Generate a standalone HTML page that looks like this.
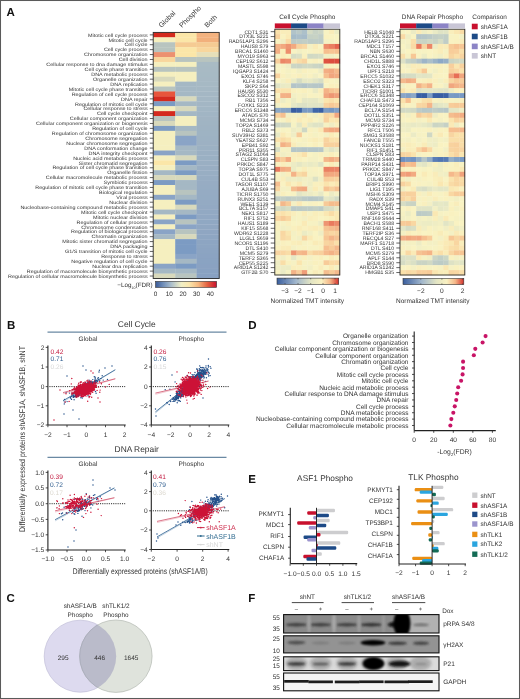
<!DOCTYPE html><html><head><meta charset="utf-8"><style>html,body{margin:0;padding:0;background:#fff;}svg{display:block;font-family:"Liberation Sans", sans-serif;text-rendering:geometricPrecision;will-change:transform;}</style></head><body><svg width="520" height="699" viewBox="0 0 520 699"><rect x="0" y="0" width="520" height="699" fill="#fff"/><text x="6.5" y="16.2" font-size="11.5" font-weight="bold" fill="#111">A</text>
<rect x="153.2" y="32.4" width="22.3" height="5.22" fill="#d42a1e"/>
<rect x="175.2" y="32.4" width="21.7" height="5.22" fill="#fbe6a8"/>
<rect x="196.6" y="32.4" width="22.9" height="5.22" fill="#f3b27f"/>
<text transform="translate(147.6,36.59) scale(1.13,1)" font-size="4.8" text-anchor="end" fill="#333">Mitotic cell cycle process</text>
<line x1="149.8" y1="34.86" x2="153.2" y2="34.86" stroke="#222" stroke-width="0.7"/>
<rect x="153.2" y="37.32" width="22.3" height="5.22" fill="#f5efbf"/>
<rect x="175.2" y="37.32" width="21.7" height="5.22" fill="#fbe6a8"/>
<rect x="196.6" y="37.32" width="22.9" height="5.22" fill="#f2b07c"/>
<text transform="translate(147.6,41.51) scale(1.13,1)" font-size="4.8" text-anchor="end" fill="#333">Mitotic cell cycle</text>
<line x1="149.8" y1="39.78" x2="153.2" y2="39.78" stroke="#222" stroke-width="0.7"/>
<rect x="153.2" y="42.24" width="22.3" height="5.22" fill="#b8c4bf"/>
<rect x="175.2" y="42.24" width="21.7" height="5.22" fill="#f5cb93"/>
<rect x="196.6" y="42.24" width="22.9" height="5.22" fill="#f5cb93"/>
<text transform="translate(147.6,46.43) scale(1.13,1)" font-size="4.8" text-anchor="end" fill="#333">Cell cycle</text>
<line x1="149.8" y1="44.7" x2="153.2" y2="44.7" stroke="#222" stroke-width="0.7"/>
<rect x="153.2" y="47.17" width="22.3" height="5.22" fill="#b8c4bf"/>
<rect x="175.2" y="47.17" width="21.7" height="5.22" fill="#fbe6a8"/>
<rect x="196.6" y="47.17" width="22.9" height="5.22" fill="#f8d69d"/>
<text transform="translate(147.6,51.35) scale(1.13,1)" font-size="4.8" text-anchor="end" fill="#333">Cell cycle process</text>
<line x1="149.8" y1="49.63" x2="153.2" y2="49.63" stroke="#222" stroke-width="0.7"/>
<rect x="153.2" y="52.09" width="22.3" height="5.22" fill="#ec9170"/>
<rect x="175.2" y="52.09" width="21.7" height="5.22" fill="#fbe6a8"/>
<rect x="196.6" y="52.09" width="22.9" height="5.22" fill="#e6dfb9"/>
<text transform="translate(147.6,56.28) scale(1.13,1)" font-size="4.8" text-anchor="end" fill="#333">Chromosome organization</text>
<line x1="149.8" y1="54.55" x2="153.2" y2="54.55" stroke="#222" stroke-width="0.7"/>
<rect x="153.2" y="57.01" width="22.3" height="5.22" fill="#f8d69d"/>
<rect x="175.2" y="57.01" width="21.7" height="5.22" fill="#b8c4bf"/>
<rect x="196.6" y="57.01" width="22.9" height="5.22" fill="#b8c4bf"/>
<text transform="translate(147.6,61.2) scale(1.13,1)" font-size="4.8" text-anchor="end" fill="#333">Cell division</text>
<line x1="149.8" y1="59.47" x2="153.2" y2="59.47" stroke="#222" stroke-width="0.7"/>
<rect x="153.2" y="61.93" width="22.3" height="5.22" fill="#f5efbf"/>
<rect x="175.2" y="61.93" width="21.7" height="5.22" fill="#f5efbf"/>
<rect x="196.6" y="61.93" width="22.9" height="5.22" fill="#a9bbc4"/>
<text transform="translate(147.6,66.12) scale(1.13,1)" font-size="4.8" text-anchor="end" fill="#333">Cellular response to dna damage stimulus</text>
<line x1="149.8" y1="64.39" x2="153.2" y2="64.39" stroke="#222" stroke-width="0.7"/>
<rect x="153.2" y="66.85" width="22.3" height="5.22" fill="#b8c4bf"/>
<rect x="175.2" y="66.85" width="21.7" height="5.22" fill="#b8c4bf"/>
<rect x="196.6" y="66.85" width="22.9" height="5.22" fill="#a8bac4"/>
<text transform="translate(147.6,71.04) scale(1.13,1)" font-size="4.8" text-anchor="end" fill="#333">Cell cycle phase transition</text>
<line x1="149.8" y1="69.31" x2="153.2" y2="69.31" stroke="#222" stroke-width="0.7"/>
<rect x="153.2" y="71.78" width="22.3" height="5.22" fill="#f5efbf"/>
<rect x="175.2" y="71.78" width="21.7" height="5.22" fill="#f5efbf"/>
<rect x="196.6" y="71.78" width="22.9" height="5.22" fill="#a7bac4"/>
<text transform="translate(147.6,75.96) scale(1.13,1)" font-size="4.8" text-anchor="end" fill="#333">DNA metabolic process</text>
<line x1="149.8" y1="74.24" x2="153.2" y2="74.24" stroke="#222" stroke-width="0.7"/>
<rect x="153.2" y="76.7" width="22.3" height="5.22" fill="#d8d9bc"/>
<rect x="175.2" y="76.7" width="21.7" height="5.22" fill="#f5efbf"/>
<rect x="196.6" y="76.7" width="22.9" height="5.22" fill="#a7b9c4"/>
<text transform="translate(147.6,80.89) scale(1.13,1)" font-size="4.8" text-anchor="end" fill="#333">Organelle organization</text>
<line x1="149.8" y1="79.16" x2="153.2" y2="79.16" stroke="#222" stroke-width="0.7"/>
<rect x="153.2" y="81.62" width="22.3" height="5.22" fill="#f5efbf"/>
<rect x="175.2" y="81.62" width="21.7" height="5.22" fill="#a5b8c4"/>
<rect x="196.6" y="81.62" width="22.9" height="5.22" fill="#a6b9c4"/>
<text transform="translate(147.6,85.81) scale(1.13,1)" font-size="4.8" text-anchor="end" fill="#333">DNA replication</text>
<line x1="149.8" y1="84.08" x2="153.2" y2="84.08" stroke="#222" stroke-width="0.7"/>
<rect x="153.2" y="86.54" width="22.3" height="5.22" fill="#b8c4bf"/>
<rect x="175.2" y="86.54" width="21.7" height="5.22" fill="#a5b8c4"/>
<rect x="196.6" y="86.54" width="22.9" height="5.22" fill="#a5b8c4"/>
<text transform="translate(147.6,90.73) scale(1.13,1)" font-size="4.8" text-anchor="end" fill="#333">Mitotic cell cycle phase transition</text>
<line x1="149.8" y1="89" x2="153.2" y2="89" stroke="#222" stroke-width="0.7"/>
<rect x="153.2" y="91.46" width="22.3" height="5.22" fill="#e8553c"/>
<rect x="175.2" y="91.46" width="21.7" height="5.22" fill="#a5b8c4"/>
<rect x="196.6" y="91.46" width="22.9" height="5.22" fill="#a4b7c4"/>
<text transform="translate(147.6,95.65) scale(1.13,1)" font-size="4.8" text-anchor="end" fill="#333">Regulation of cell cycle process</text>
<line x1="149.8" y1="93.92" x2="153.2" y2="93.92" stroke="#222" stroke-width="0.7"/>
<rect x="153.2" y="96.39" width="22.3" height="5.22" fill="#d42a1e"/>
<rect x="175.2" y="96.39" width="21.7" height="5.22" fill="#d8d9bc"/>
<rect x="196.6" y="96.39" width="22.9" height="5.22" fill="#a4b7c4"/>
<text transform="translate(147.6,100.57) scale(1.13,1)" font-size="4.8" text-anchor="end" fill="#333">DNA repair</text>
<line x1="149.8" y1="98.85" x2="153.2" y2="98.85" stroke="#222" stroke-width="0.7"/>
<rect x="153.2" y="101.31" width="22.3" height="5.22" fill="#7c9bc3"/>
<rect x="175.2" y="101.31" width="21.7" height="5.22" fill="#a5b8c4"/>
<rect x="196.6" y="101.31" width="22.9" height="5.22" fill="#a3b6c4"/>
<text transform="translate(147.6,105.5) scale(1.13,1)" font-size="4.8" text-anchor="end" fill="#333">Regulation of mitotic cell cycle</text>
<line x1="149.8" y1="103.77" x2="153.2" y2="103.77" stroke="#222" stroke-width="0.7"/>
<rect x="153.2" y="106.23" width="22.3" height="5.22" fill="#f5efbf"/>
<rect x="175.2" y="106.23" width="21.7" height="5.22" fill="#d8d9bc"/>
<rect x="196.6" y="106.23" width="22.9" height="5.22" fill="#a2b6c4"/>
<text transform="translate(147.6,110.42) scale(1.13,1)" font-size="4.8" text-anchor="end" fill="#333">Cellular response to stress</text>
<line x1="149.8" y1="108.69" x2="153.2" y2="108.69" stroke="#222" stroke-width="0.7"/>
<rect x="153.2" y="111.15" width="22.3" height="5.22" fill="#d42a1e"/>
<rect x="175.2" y="111.15" width="21.7" height="5.22" fill="#a5b8c4"/>
<rect x="196.6" y="111.15" width="22.9" height="5.22" fill="#a1b5c4"/>
<text transform="translate(147.6,115.34) scale(1.13,1)" font-size="4.8" text-anchor="end" fill="#333">Cell cycle checkpoint</text>
<line x1="149.8" y1="113.61" x2="153.2" y2="113.61" stroke="#222" stroke-width="0.7"/>
<rect x="153.2" y="116.07" width="22.3" height="5.22" fill="#b8c4bf"/>
<rect x="175.2" y="116.07" width="21.7" height="5.22" fill="#f5efbf"/>
<rect x="196.6" y="116.07" width="22.9" height="5.22" fill="#a1b4c3"/>
<text transform="translate(147.6,120.26) scale(1.13,1)" font-size="4.8" text-anchor="end" fill="#333">Cellular component organization</text>
<line x1="149.8" y1="118.53" x2="153.2" y2="118.53" stroke="#222" stroke-width="0.7"/>
<rect x="153.2" y="121" width="22.3" height="5.22" fill="#d8d9bc"/>
<rect x="175.2" y="121" width="21.7" height="5.22" fill="#f5efbf"/>
<rect x="196.6" y="121" width="22.9" height="5.22" fill="#a0b4c3"/>
<text transform="translate(147.6,125.18) scale(1.13,1)" font-size="4.8" text-anchor="end" fill="#333">Cellular component organization or biogenesis</text>
<line x1="149.8" y1="123.46" x2="153.2" y2="123.46" stroke="#222" stroke-width="0.7"/>
<rect x="153.2" y="125.92" width="22.3" height="5.22" fill="#7c9bc3"/>
<rect x="175.2" y="125.92" width="21.7" height="5.22" fill="#a5b8c4"/>
<rect x="196.6" y="125.92" width="22.9" height="5.22" fill="#9fb3c3"/>
<text transform="translate(147.6,130.11) scale(1.13,1)" font-size="4.8" text-anchor="end" fill="#333">Regulation of cell cycle</text>
<line x1="149.8" y1="128.38" x2="153.2" y2="128.38" stroke="#222" stroke-width="0.7"/>
<rect x="153.2" y="130.84" width="22.3" height="5.22" fill="#f5efbf"/>
<rect x="175.2" y="130.84" width="21.7" height="5.22" fill="#b8c4bf"/>
<rect x="196.6" y="130.84" width="22.9" height="5.22" fill="#9eb3c3"/>
<text transform="translate(147.6,135.03) scale(1.13,1)" font-size="4.8" text-anchor="end" fill="#333">Regulation of chromosome organization</text>
<line x1="149.8" y1="133.3" x2="153.2" y2="133.3" stroke="#222" stroke-width="0.7"/>
<rect x="153.2" y="135.76" width="22.3" height="5.22" fill="#f5efbf"/>
<rect x="175.2" y="135.76" width="21.7" height="5.22" fill="#8aa4c6"/>
<rect x="196.6" y="135.76" width="22.9" height="5.22" fill="#9db2c3"/>
<text transform="translate(147.6,139.95) scale(1.13,1)" font-size="4.8" text-anchor="end" fill="#333">Chromosome segregation</text>
<line x1="149.8" y1="138.22" x2="153.2" y2="138.22" stroke="#222" stroke-width="0.7"/>
<rect x="153.2" y="140.68" width="22.3" height="5.22" fill="#f5efbf"/>
<rect x="175.2" y="140.68" width="21.7" height="5.22" fill="#8aa4c6"/>
<rect x="196.6" y="140.68" width="22.9" height="5.22" fill="#9db1c3"/>
<text transform="translate(147.6,144.87) scale(1.13,1)" font-size="4.8" text-anchor="end" fill="#333">Nuclear chromosome segregation</text>
<line x1="149.8" y1="143.15" x2="153.2" y2="143.15" stroke="#222" stroke-width="0.7"/>
<rect x="153.2" y="145.61" width="22.3" height="5.22" fill="#f5efbf"/>
<rect x="175.2" y="145.61" width="21.7" height="5.22" fill="#a5b8c4"/>
<rect x="196.6" y="145.61" width="22.9" height="5.22" fill="#9cb1c3"/>
<text transform="translate(147.6,149.8) scale(1.13,1)" font-size="4.8" text-anchor="end" fill="#333">DNA conformation change</text>
<line x1="149.8" y1="148.07" x2="153.2" y2="148.07" stroke="#222" stroke-width="0.7"/>
<rect x="153.2" y="150.53" width="22.3" height="5.22" fill="#8aa4c6"/>
<rect x="175.2" y="150.53" width="21.7" height="5.22" fill="#a5b8c4"/>
<rect x="196.6" y="150.53" width="22.9" height="5.22" fill="#9bb0c3"/>
<text transform="translate(147.6,154.72) scale(1.13,1)" font-size="4.8" text-anchor="end" fill="#333">DNA integrity checkpoint</text>
<line x1="149.8" y1="152.99" x2="153.2" y2="152.99" stroke="#222" stroke-width="0.7"/>
<rect x="153.2" y="155.45" width="22.3" height="5.22" fill="#f5efbf"/>
<rect x="175.2" y="155.45" width="21.7" height="5.22" fill="#d8d9bc"/>
<rect x="196.6" y="155.45" width="22.9" height="5.22" fill="#9ab0c3"/>
<text transform="translate(147.6,159.64) scale(1.13,1)" font-size="4.8" text-anchor="end" fill="#333">Nucleic acid metabolic process</text>
<line x1="149.8" y1="157.91" x2="153.2" y2="157.91" stroke="#222" stroke-width="0.7"/>
<rect x="153.2" y="160.37" width="22.3" height="5.22" fill="#fbe6a8"/>
<rect x="175.2" y="160.37" width="21.7" height="5.22" fill="#7c9bc3"/>
<rect x="196.6" y="160.37" width="22.9" height="5.22" fill="#9aafc3"/>
<text transform="translate(147.6,164.56) scale(1.13,1)" font-size="4.8" text-anchor="end" fill="#333">Sister chromatid segregation</text>
<line x1="149.8" y1="162.83" x2="153.2" y2="162.83" stroke="#222" stroke-width="0.7"/>
<rect x="153.2" y="165.29" width="22.3" height="5.22" fill="#f5efbf"/>
<rect x="175.2" y="165.29" width="21.7" height="5.22" fill="#a5b8c4"/>
<rect x="196.6" y="165.29" width="22.9" height="5.22" fill="#99aec3"/>
<text transform="translate(147.6,169.48) scale(1.13,1)" font-size="4.8" text-anchor="end" fill="#333">Regulation of cell cycle phase transition</text>
<line x1="149.8" y1="167.76" x2="153.2" y2="167.76" stroke="#222" stroke-width="0.7"/>
<rect x="153.2" y="170.22" width="22.3" height="5.22" fill="#a5b8c4"/>
<rect x="175.2" y="170.22" width="21.7" height="5.22" fill="#7c9bc3"/>
<rect x="196.6" y="170.22" width="22.9" height="5.22" fill="#98aec3"/>
<text transform="translate(147.6,174.41) scale(1.13,1)" font-size="4.8" text-anchor="end" fill="#333">Organelle fission</text>
<line x1="149.8" y1="172.68" x2="153.2" y2="172.68" stroke="#222" stroke-width="0.7"/>
<rect x="153.2" y="175.14" width="22.3" height="5.22" fill="#d8d9bc"/>
<rect x="175.2" y="175.14" width="21.7" height="5.22" fill="#d8d9bc"/>
<rect x="196.6" y="175.14" width="22.9" height="5.22" fill="#97adc3"/>
<text transform="translate(147.6,179.33) scale(1.13,1)" font-size="4.8" text-anchor="end" fill="#333">Cellular macromolecule metabolic process</text>
<line x1="149.8" y1="177.6" x2="153.2" y2="177.6" stroke="#222" stroke-width="0.7"/>
<rect x="153.2" y="180.06" width="22.3" height="5.22" fill="#7c9bc3"/>
<rect x="175.2" y="180.06" width="21.7" height="5.22" fill="#a5b8c4"/>
<rect x="196.6" y="180.06" width="22.9" height="5.22" fill="#97acc3"/>
<text transform="translate(147.6,184.25) scale(1.13,1)" font-size="4.8" text-anchor="end" fill="#333">Symbiotic process</text>
<line x1="149.8" y1="182.52" x2="153.2" y2="182.52" stroke="#222" stroke-width="0.7"/>
<rect x="153.2" y="184.98" width="22.3" height="5.22" fill="#f5efbf"/>
<rect x="175.2" y="184.98" width="21.7" height="5.22" fill="#a5b8c4"/>
<rect x="196.6" y="184.98" width="22.9" height="5.22" fill="#96acc3"/>
<text transform="translate(147.6,189.17) scale(1.13,1)" font-size="4.8" text-anchor="end" fill="#333">Regulation of mitotic cell cycle phase transition</text>
<line x1="149.8" y1="187.44" x2="153.2" y2="187.44" stroke="#222" stroke-width="0.7"/>
<rect x="153.2" y="189.9" width="22.3" height="5.22" fill="#f5efbf"/>
<rect x="175.2" y="189.9" width="21.7" height="5.22" fill="#b8c4bf"/>
<rect x="196.6" y="189.9" width="22.9" height="5.22" fill="#95abc3"/>
<text transform="translate(147.6,194.09) scale(1.13,1)" font-size="4.8" text-anchor="end" fill="#333">Biological regulation</text>
<line x1="149.8" y1="192.37" x2="153.2" y2="192.37" stroke="#222" stroke-width="0.7"/>
<rect x="153.2" y="194.83" width="22.3" height="5.22" fill="#8aa4c6"/>
<rect x="175.2" y="194.83" width="21.7" height="5.22" fill="#a5b8c4"/>
<rect x="196.6" y="194.83" width="22.9" height="5.22" fill="#94abc3"/>
<text transform="translate(147.6,199.02) scale(1.13,1)" font-size="4.8" text-anchor="end" fill="#333">Viral process</text>
<line x1="149.8" y1="197.29" x2="153.2" y2="197.29" stroke="#222" stroke-width="0.7"/>
<rect x="153.2" y="199.75" width="22.3" height="5.22" fill="#f5efbf"/>
<rect x="175.2" y="199.75" width="21.7" height="5.22" fill="#7c9bc3"/>
<rect x="196.6" y="199.75" width="22.9" height="5.22" fill="#94aac3"/>
<text transform="translate(147.6,203.94) scale(1.13,1)" font-size="4.8" text-anchor="end" fill="#333">Nuclear division</text>
<line x1="149.8" y1="202.21" x2="153.2" y2="202.21" stroke="#222" stroke-width="0.7"/>
<rect x="153.2" y="204.67" width="22.3" height="5.22" fill="#f5efbf"/>
<rect x="175.2" y="204.67" width="21.7" height="5.22" fill="#d8d9bc"/>
<rect x="196.6" y="204.67" width="22.9" height="5.22" fill="#93a9c3"/>
<text transform="translate(147.6,208.86) scale(1.13,1)" font-size="4.8" text-anchor="end" fill="#333">Nucleobase-containing compound metabolic process</text>
<line x1="149.8" y1="207.13" x2="153.2" y2="207.13" stroke="#222" stroke-width="0.7"/>
<rect x="153.2" y="209.59" width="22.3" height="5.22" fill="#a5b8c4"/>
<rect x="175.2" y="209.59" width="21.7" height="5.22" fill="#a5b8c4"/>
<rect x="196.6" y="209.59" width="22.9" height="5.22" fill="#92a9c3"/>
<text transform="translate(147.6,213.78) scale(1.13,1)" font-size="4.8" text-anchor="end" fill="#333">Mitotic cell cycle checkpoint</text>
<line x1="149.8" y1="212.05" x2="153.2" y2="212.05" stroke="#222" stroke-width="0.7"/>
<rect x="153.2" y="214.51" width="22.3" height="5.22" fill="#f5efbf"/>
<rect x="175.2" y="214.51" width="21.7" height="5.22" fill="#7c9bc3"/>
<rect x="196.6" y="214.51" width="22.9" height="5.22" fill="#91a8c3"/>
<text transform="translate(147.6,218.7) scale(1.13,1)" font-size="4.8" text-anchor="end" fill="#333">Mitotic nuclear division</text>
<line x1="149.8" y1="216.97" x2="153.2" y2="216.97" stroke="#222" stroke-width="0.7"/>
<rect x="153.2" y="219.44" width="22.3" height="5.22" fill="#8aa4c6"/>
<rect x="175.2" y="219.44" width="21.7" height="5.22" fill="#b8c4bf"/>
<rect x="196.6" y="219.44" width="22.9" height="5.22" fill="#90a8c3"/>
<text transform="translate(147.6,223.63) scale(1.13,1)" font-size="4.8" text-anchor="end" fill="#333">Regulation of cellular process</text>
<line x1="149.8" y1="221.9" x2="153.2" y2="221.9" stroke="#222" stroke-width="0.7"/>
<rect x="153.2" y="224.36" width="22.3" height="5.22" fill="#f5efbf"/>
<rect x="175.2" y="224.36" width="21.7" height="5.22" fill="#8aa4c6"/>
<rect x="196.6" y="224.36" width="22.9" height="5.22" fill="#90a7c2"/>
<text transform="translate(147.6,228.55) scale(1.13,1)" font-size="4.8" text-anchor="end" fill="#333">Chromosome condensation</text>
<line x1="149.8" y1="226.82" x2="153.2" y2="226.82" stroke="#222" stroke-width="0.7"/>
<rect x="153.2" y="229.28" width="22.3" height="5.22" fill="#8aa4c6"/>
<rect x="175.2" y="229.28" width="21.7" height="5.22" fill="#b8c4bf"/>
<rect x="196.6" y="229.28" width="22.9" height="5.22" fill="#8fa6c2"/>
<text transform="translate(147.6,233.47) scale(1.13,1)" font-size="4.8" text-anchor="end" fill="#333">Regulation of biological process</text>
<line x1="149.8" y1="231.74" x2="153.2" y2="231.74" stroke="#222" stroke-width="0.7"/>
<rect x="153.2" y="234.2" width="22.3" height="5.22" fill="#a5b8c4"/>
<rect x="175.2" y="234.2" width="21.7" height="5.22" fill="#d8d9bc"/>
<rect x="196.6" y="234.2" width="22.9" height="5.22" fill="#8ea6c2"/>
<text transform="translate(147.6,238.39) scale(1.13,1)" font-size="4.8" text-anchor="end" fill="#333">Chromatin organization</text>
<line x1="149.8" y1="236.66" x2="153.2" y2="236.66" stroke="#222" stroke-width="0.7"/>
<rect x="153.2" y="239.12" width="22.3" height="5.22" fill="#f5efbf"/>
<rect x="175.2" y="239.12" width="21.7" height="5.22" fill="#7c9bc3"/>
<rect x="196.6" y="239.12" width="22.9" height="5.22" fill="#8da5c2"/>
<text transform="translate(147.6,243.31) scale(1.13,1)" font-size="4.8" text-anchor="end" fill="#333">Mitotic sister chromatid segregation</text>
<line x1="149.8" y1="241.59" x2="153.2" y2="241.59" stroke="#222" stroke-width="0.7"/>
<rect x="153.2" y="244.05" width="22.3" height="5.22" fill="#f5efbf"/>
<rect x="175.2" y="244.05" width="21.7" height="5.22" fill="#7c9bc3"/>
<rect x="196.6" y="244.05" width="22.9" height="5.22" fill="#8da5c2"/>
<text transform="translate(147.6,248.24) scale(1.13,1)" font-size="4.8" text-anchor="end" fill="#333">DNA packaging</text>
<line x1="149.8" y1="246.51" x2="153.2" y2="246.51" stroke="#222" stroke-width="0.7"/>
<rect x="153.2" y="248.97" width="22.3" height="5.22" fill="#f5efbf"/>
<rect x="175.2" y="248.97" width="21.7" height="5.22" fill="#7c9bc3"/>
<rect x="196.6" y="248.97" width="22.9" height="5.22" fill="#8ca4c2"/>
<text transform="translate(147.6,253.16) scale(1.13,1)" font-size="4.8" text-anchor="end" fill="#333">G1/S transition of mitotic cell cycle</text>
<line x1="149.8" y1="251.43" x2="153.2" y2="251.43" stroke="#222" stroke-width="0.7"/>
<rect x="153.2" y="253.89" width="22.3" height="5.22" fill="#f5efbf"/>
<rect x="175.2" y="253.89" width="21.7" height="5.22" fill="#8aa4c6"/>
<rect x="196.6" y="253.89" width="22.9" height="5.22" fill="#8ba3c2"/>
<text transform="translate(147.6,258.08) scale(1.13,1)" font-size="4.8" text-anchor="end" fill="#333">Response to stress</text>
<line x1="149.8" y1="256.35" x2="153.2" y2="256.35" stroke="#222" stroke-width="0.7"/>
<rect x="153.2" y="258.81" width="22.3" height="5.22" fill="#f5efbf"/>
<rect x="175.2" y="258.81" width="21.7" height="5.22" fill="#a5b8c4"/>
<rect x="196.6" y="258.81" width="22.9" height="5.22" fill="#8aa3c2"/>
<text transform="translate(147.6,263) scale(1.13,1)" font-size="4.8" text-anchor="end" fill="#333">Negative regulation of cell cycle</text>
<line x1="149.8" y1="261.27" x2="153.2" y2="261.27" stroke="#222" stroke-width="0.7"/>
<rect x="153.2" y="263.73" width="22.3" height="5.22" fill="#8aa4c6"/>
<rect x="175.2" y="263.73" width="21.7" height="5.22" fill="#7c9bc3"/>
<rect x="196.6" y="263.73" width="22.9" height="5.22" fill="#8aa2c2"/>
<text transform="translate(147.6,267.92) scale(1.13,1)" font-size="4.8" text-anchor="end" fill="#333">Nuclear dna replication</text>
<line x1="149.8" y1="266.19" x2="153.2" y2="266.19" stroke="#222" stroke-width="0.7"/>
<rect x="153.2" y="268.66" width="22.3" height="5.22" fill="#a5b8c4"/>
<rect x="175.2" y="268.66" width="21.7" height="5.22" fill="#a5b8c4"/>
<rect x="196.6" y="268.66" width="22.9" height="5.22" fill="#89a2c2"/>
<text transform="translate(147.6,272.84) scale(1.13,1)" font-size="4.8" text-anchor="end" fill="#333">Regulation of macromolecule biosynthetic process</text>
<line x1="149.8" y1="271.12" x2="153.2" y2="271.12" stroke="#222" stroke-width="0.7"/>
<rect x="153.2" y="273.58" width="22.3" height="5.22" fill="#d8d9bc"/>
<rect x="175.2" y="273.58" width="21.7" height="5.22" fill="#b8c4bf"/>
<rect x="196.6" y="273.58" width="22.9" height="5.22" fill="#88a1c2"/>
<text transform="translate(147.6,277.77) scale(1.13,1)" font-size="4.8" text-anchor="end" fill="#333">Regulation of cellular macromolecule biosynthetic process</text>
<line x1="149.8" y1="276.04" x2="153.2" y2="276.04" stroke="#222" stroke-width="0.7"/>
<rect x="153.2" y="32.4" width="66.0" height="246.1" fill="none" stroke="#2a2a2a" stroke-width="0.9"/>
<text transform="translate(161.5,28) rotate(-45)" font-size="7" fill="#333">Global</text>
<text transform="translate(182.0,28) rotate(-45)" font-size="7" fill="#333">Phospho</text>
<text transform="translate(207.2,28) rotate(-45)" font-size="7" fill="#333">Both</text>
<defs><linearGradient id="gfdr" x1="0" x2="1" y1="0" y2="0"><stop offset="0" stop-color="#3b5b98"/><stop offset="0.12" stop-color="#6f8db8"/><stop offset="0.25" stop-color="#a8bccb"/><stop offset="0.42" stop-color="#f1efc5"/><stop offset="0.55" stop-color="#fbe7ad"/><stop offset="0.7" stop-color="#f6b880"/><stop offset="0.85" stop-color="#e4603f"/><stop offset="1" stop-color="#c8102e"/></linearGradient></defs>
<rect x="155.6" y="281.4" width="61" height="6" fill="url(#gfdr)" stroke="#333" stroke-width="0.6"/>
<text x="155.6" y="295.9" font-size="6.4" text-anchor="middle" fill="#333">0</text>
<text x="169.28" y="295.9" font-size="6.4" text-anchor="middle" fill="#333">10</text>
<text x="182.95" y="295.9" font-size="6.4" text-anchor="middle" fill="#333">20</text>
<text x="196.62" y="295.9" font-size="6.4" text-anchor="middle" fill="#333">30</text>
<text x="210.3" y="295.9" font-size="6.4" text-anchor="middle" fill="#333">40</text>
<text x="152.7" y="287.3" font-size="6.3" text-anchor="end" fill="#333">&#8722;Log<tspan font-size="3.6" dy="1.2">10</tspan><tspan dy="-1.2">(FDR)</tspan></text>
<rect x="274.8" y="29.2" width="5.72" height="5.22" fill="#fae1ab"/>
<rect x="280.22" y="29.2" width="5.72" height="5.22" fill="#f9edba"/>
<rect x="285.63" y="29.2" width="5.72" height="5.22" fill="#f9edba"/>
<rect x="291.05" y="29.2" width="5.72" height="5.22" fill="#b1c3c8"/>
<rect x="296.47" y="29.2" width="5.72" height="5.22" fill="#b9c8c7"/>
<rect x="301.88" y="29.2" width="5.72" height="5.22" fill="#acc0c9"/>
<rect x="307.3" y="29.2" width="5.72" height="5.22" fill="#d4dbc4"/>
<rect x="312.72" y="29.2" width="5.72" height="5.22" fill="#c7d2c5"/>
<rect x="318.13" y="29.2" width="5.72" height="5.22" fill="#ccd5c4"/>
<rect x="323.55" y="29.2" width="5.72" height="5.22" fill="#f7f2c3"/>
<rect x="328.97" y="29.2" width="5.72" height="5.22" fill="#f9ecb9"/>
<rect x="334.38" y="29.2" width="5.72" height="5.22" fill="#ececc4"/>
<text x="268.4" y="33.51" font-size="5.15" text-anchor="end" fill="#333">CDT1 S31</text>
<line x1="270.7" y1="31.66" x2="274.8" y2="31.66" stroke="#222" stroke-width="0.7"/>
<rect x="274.8" y="34.12" width="5.72" height="5.22" fill="#f8d39f"/>
<rect x="280.22" y="34.12" width="5.72" height="5.22" fill="#f9f2c1"/>
<rect x="285.63" y="34.12" width="5.72" height="5.22" fill="#faebb7"/>
<rect x="291.05" y="34.12" width="5.72" height="5.22" fill="#a5bbc8"/>
<rect x="296.47" y="34.12" width="5.72" height="5.22" fill="#aabec9"/>
<rect x="301.88" y="34.12" width="5.72" height="5.22" fill="#a6bbc9"/>
<rect x="307.3" y="34.12" width="5.72" height="5.22" fill="#c5d1c5"/>
<rect x="312.72" y="34.12" width="5.72" height="5.22" fill="#c7d2c4"/>
<rect x="318.13" y="34.12" width="5.72" height="5.22" fill="#c0cdc6"/>
<rect x="323.55" y="34.12" width="5.72" height="5.22" fill="#f9f1bf"/>
<rect x="328.97" y="34.12" width="5.72" height="5.22" fill="#f9f2c1"/>
<rect x="334.38" y="34.12" width="5.72" height="5.22" fill="#f8f3c3"/>
<text x="268.4" y="38.43" font-size="5.15" text-anchor="end" fill="#333">DTX3L S221</text>
<line x1="270.7" y1="36.57" x2="274.8" y2="36.57" stroke="#222" stroke-width="0.7"/>
<rect x="274.8" y="39.03" width="5.72" height="5.22" fill="#f9f2c1"/>
<rect x="280.22" y="39.03" width="5.72" height="5.22" fill="#f1eec4"/>
<rect x="285.63" y="39.03" width="5.72" height="5.22" fill="#f9dba6"/>
<rect x="291.05" y="39.03" width="5.72" height="5.22" fill="#bccac6"/>
<rect x="296.47" y="39.03" width="5.72" height="5.22" fill="#bfccc6"/>
<rect x="301.88" y="39.03" width="5.72" height="5.22" fill="#c2cec5"/>
<rect x="307.3" y="39.03" width="5.72" height="5.22" fill="#bdcbc6"/>
<rect x="312.72" y="39.03" width="5.72" height="5.22" fill="#beccc6"/>
<rect x="318.13" y="39.03" width="5.72" height="5.22" fill="#bdcbc6"/>
<rect x="323.55" y="39.03" width="5.72" height="5.22" fill="#f4f0c4"/>
<rect x="328.97" y="39.03" width="5.72" height="5.22" fill="#f5f1c3"/>
<rect x="334.38" y="39.03" width="5.72" height="5.22" fill="#f9f3c3"/>
<text x="268.4" y="43.34" font-size="5.15" text-anchor="end" fill="#333">RAD51AP1 S296</text>
<line x1="270.7" y1="41.49" x2="274.8" y2="41.49" stroke="#222" stroke-width="0.7"/>
<rect x="274.8" y="43.95" width="5.72" height="5.22" fill="#f4b488"/>
<rect x="280.22" y="43.95" width="5.72" height="5.22" fill="#f2a87f"/>
<rect x="285.63" y="43.95" width="5.72" height="5.22" fill="#ee9572"/>
<rect x="291.05" y="43.95" width="5.72" height="5.22" fill="#f2a980"/>
<rect x="296.47" y="43.95" width="5.72" height="5.22" fill="#f8d29e"/>
<rect x="301.88" y="43.95" width="5.72" height="5.22" fill="#f9d8a3"/>
<rect x="307.3" y="43.95" width="5.72" height="5.22" fill="#f4f0c3"/>
<rect x="312.72" y="43.95" width="5.72" height="5.22" fill="#faebb7"/>
<rect x="318.13" y="43.95" width="5.72" height="5.22" fill="#f9f3c3"/>
<rect x="323.55" y="43.95" width="5.72" height="5.22" fill="#ec8a6a"/>
<rect x="328.97" y="43.95" width="5.72" height="5.22" fill="#ea7e61"/>
<rect x="334.38" y="43.95" width="5.72" height="5.22" fill="#e4644f"/>
<text x="268.4" y="48.26" font-size="5.15" text-anchor="end" fill="#333">HAUS8 S79</text>
<line x1="270.7" y1="46.41" x2="274.8" y2="46.41" stroke="#222" stroke-width="0.7"/>
<rect x="274.8" y="48.86" width="5.72" height="5.22" fill="#f3af84"/>
<rect x="280.22" y="48.86" width="5.72" height="5.22" fill="#f9edba"/>
<rect x="285.63" y="48.86" width="5.72" height="5.22" fill="#ed8e6d"/>
<rect x="291.05" y="48.86" width="5.72" height="5.22" fill="#f7f2c3"/>
<rect x="296.47" y="48.86" width="5.72" height="5.22" fill="#f2efc4"/>
<rect x="301.88" y="48.86" width="5.72" height="5.22" fill="#f7f2c3"/>
<rect x="307.3" y="48.86" width="5.72" height="5.22" fill="#f8f2c3"/>
<rect x="312.72" y="48.86" width="5.72" height="5.22" fill="#f9f0bf"/>
<rect x="318.13" y="48.86" width="5.72" height="5.22" fill="#f9efbd"/>
<rect x="323.55" y="48.86" width="5.72" height="5.22" fill="#f6be8f"/>
<rect x="328.97" y="48.86" width="5.72" height="5.22" fill="#f7c493"/>
<rect x="334.38" y="48.86" width="5.72" height="5.22" fill="#f6bf8f"/>
<text x="268.4" y="53.18" font-size="5.15" text-anchor="end" fill="#333">BRCA1 S1460</text>
<line x1="270.7" y1="51.32" x2="274.8" y2="51.32" stroke="#222" stroke-width="0.7"/>
<rect x="274.8" y="53.78" width="5.72" height="5.22" fill="#f4f0c3"/>
<rect x="280.22" y="53.78" width="5.72" height="5.22" fill="#f9edba"/>
<rect x="285.63" y="53.78" width="5.72" height="5.22" fill="#f9f1bf"/>
<rect x="291.05" y="53.78" width="5.72" height="5.22" fill="#d6ddc4"/>
<rect x="296.47" y="53.78" width="5.72" height="5.22" fill="#dbe0c5"/>
<rect x="301.88" y="53.78" width="5.72" height="5.22" fill="#f9f0bf"/>
<rect x="307.3" y="53.78" width="5.72" height="5.22" fill="#d0d9c4"/>
<rect x="312.72" y="53.78" width="5.72" height="5.22" fill="#d3dac4"/>
<rect x="318.13" y="53.78" width="5.72" height="5.22" fill="#d6ddc4"/>
<rect x="323.55" y="53.78" width="5.72" height="5.22" fill="#f1eec4"/>
<rect x="328.97" y="53.78" width="5.72" height="5.22" fill="#f0eec4"/>
<rect x="334.38" y="53.78" width="5.72" height="5.22" fill="#f6f1c3"/>
<text x="268.4" y="58.09" font-size="5.15" text-anchor="end" fill="#333">MYO19 S963</text>
<line x1="270.7" y1="56.24" x2="274.8" y2="56.24" stroke="#222" stroke-width="0.7"/>
<rect x="274.8" y="58.7" width="5.72" height="5.22" fill="#f8cf9c"/>
<rect x="280.22" y="58.7" width="5.72" height="5.22" fill="#eb8667"/>
<rect x="285.63" y="58.7" width="5.72" height="5.22" fill="#ed8e6d"/>
<rect x="291.05" y="58.7" width="5.72" height="5.22" fill="#fae8b2"/>
<rect x="296.47" y="58.7" width="5.72" height="5.22" fill="#f9dda7"/>
<rect x="301.88" y="58.7" width="5.72" height="5.22" fill="#f8d4a0"/>
<rect x="307.3" y="58.7" width="5.72" height="5.22" fill="#f9f2c1"/>
<rect x="312.72" y="58.7" width="5.72" height="5.22" fill="#f9efbe"/>
<rect x="318.13" y="58.7" width="5.72" height="5.22" fill="#f8f2c3"/>
<rect x="323.55" y="58.7" width="5.72" height="5.22" fill="#de5242"/>
<rect x="328.97" y="58.7" width="5.72" height="5.22" fill="#dc4d3f"/>
<rect x="334.38" y="58.7" width="5.72" height="5.22" fill="#db4a3d"/>
<text x="268.4" y="63.01" font-size="5.15" text-anchor="end" fill="#333">CEP192 S612</text>
<line x1="270.7" y1="61.15" x2="274.8" y2="61.15" stroke="#222" stroke-width="0.7"/>
<rect x="274.8" y="63.61" width="5.72" height="5.22" fill="#f6f1c3"/>
<rect x="280.22" y="63.61" width="5.72" height="5.22" fill="#f6f1c3"/>
<rect x="285.63" y="63.61" width="5.72" height="5.22" fill="#f1eec4"/>
<rect x="291.05" y="63.61" width="5.72" height="5.22" fill="#ccd6c4"/>
<rect x="296.47" y="63.61" width="5.72" height="5.22" fill="#cbd4c4"/>
<rect x="301.88" y="63.61" width="5.72" height="5.22" fill="#d0d9c4"/>
<rect x="307.3" y="63.61" width="5.72" height="5.22" fill="#d1d9c4"/>
<rect x="312.72" y="63.61" width="5.72" height="5.22" fill="#cbd5c4"/>
<rect x="318.13" y="63.61" width="5.72" height="5.22" fill="#c8d3c4"/>
<rect x="323.55" y="63.61" width="5.72" height="5.22" fill="#f5f1c3"/>
<rect x="328.97" y="63.61" width="5.72" height="5.22" fill="#f9f1c0"/>
<rect x="334.38" y="63.61" width="5.72" height="5.22" fill="#f9f3c2"/>
<text x="268.4" y="67.92" font-size="5.15" text-anchor="end" fill="#333">MASTL S598</text>
<line x1="270.7" y1="66.07" x2="274.8" y2="66.07" stroke="#222" stroke-width="0.7"/>
<rect x="274.8" y="68.53" width="5.72" height="5.22" fill="#f7f2c3"/>
<rect x="280.22" y="68.53" width="5.72" height="5.22" fill="#f9f3c3"/>
<rect x="285.63" y="68.53" width="5.72" height="5.22" fill="#f5f1c3"/>
<rect x="291.05" y="68.53" width="5.72" height="5.22" fill="#f9f3c2"/>
<rect x="296.47" y="68.53" width="5.72" height="5.22" fill="#f2efc4"/>
<rect x="301.88" y="68.53" width="5.72" height="5.22" fill="#f9f0bf"/>
<rect x="307.3" y="68.53" width="5.72" height="5.22" fill="#f8f2c3"/>
<rect x="312.72" y="68.53" width="5.72" height="5.22" fill="#f9f3c3"/>
<rect x="318.13" y="68.53" width="5.72" height="5.22" fill="#efedc4"/>
<rect x="323.55" y="68.53" width="5.72" height="5.22" fill="#f3ae84"/>
<rect x="328.97" y="68.53" width="5.72" height="5.22" fill="#f2a980"/>
<rect x="334.38" y="68.53" width="5.72" height="5.22" fill="#f5b98b"/>
<text x="268.4" y="72.84" font-size="5.15" text-anchor="end" fill="#333">IQGAP3 S1424</text>
<line x1="270.7" y1="70.99" x2="274.8" y2="70.99" stroke="#222" stroke-width="0.7"/>
<rect x="274.8" y="73.44" width="5.72" height="5.22" fill="#f8d39f"/>
<rect x="280.22" y="73.44" width="5.72" height="5.22" fill="#f9f0be"/>
<rect x="285.63" y="73.44" width="5.72" height="5.22" fill="#f4f0c3"/>
<rect x="291.05" y="73.44" width="5.72" height="5.22" fill="#f9f1c1"/>
<rect x="296.47" y="73.44" width="5.72" height="5.22" fill="#f9efbd"/>
<rect x="301.88" y="73.44" width="5.72" height="5.22" fill="#f4f0c4"/>
<rect x="307.3" y="73.44" width="5.72" height="5.22" fill="#f9f1c1"/>
<rect x="312.72" y="73.44" width="5.72" height="5.22" fill="#f1eec4"/>
<rect x="318.13" y="73.44" width="5.72" height="5.22" fill="#f9f3c3"/>
<rect x="323.55" y="73.44" width="5.72" height="5.22" fill="#f6bf8f"/>
<rect x="328.97" y="73.44" width="5.72" height="5.22" fill="#f1a57e"/>
<rect x="334.38" y="73.44" width="5.72" height="5.22" fill="#f2ac82"/>
<text x="268.4" y="77.76" font-size="5.15" text-anchor="end" fill="#333">EXO1 S746</text>
<line x1="270.7" y1="75.9" x2="274.8" y2="75.9" stroke="#222" stroke-width="0.7"/>
<rect x="274.8" y="78.36" width="5.72" height="5.22" fill="#f9f3c3"/>
<rect x="280.22" y="78.36" width="5.72" height="5.22" fill="#f4f0c3"/>
<rect x="285.63" y="78.36" width="5.72" height="5.22" fill="#f9edba"/>
<rect x="291.05" y="78.36" width="5.72" height="5.22" fill="#eaebc5"/>
<rect x="296.47" y="78.36" width="5.72" height="5.22" fill="#d5dcc4"/>
<rect x="301.88" y="78.36" width="5.72" height="5.22" fill="#e6e8c5"/>
<rect x="307.3" y="78.36" width="5.72" height="5.22" fill="#e8e9c5"/>
<rect x="312.72" y="78.36" width="5.72" height="5.22" fill="#e1e4c5"/>
<rect x="318.13" y="78.36" width="5.72" height="5.22" fill="#d8dec5"/>
<rect x="323.55" y="78.36" width="5.72" height="5.22" fill="#f9efbd"/>
<rect x="328.97" y="78.36" width="5.72" height="5.22" fill="#f8f2c3"/>
<rect x="334.38" y="78.36" width="5.72" height="5.22" fill="#f5f1c3"/>
<text x="268.4" y="82.67" font-size="5.15" text-anchor="end" fill="#333">KLF4 S258</text>
<line x1="270.7" y1="80.82" x2="274.8" y2="80.82" stroke="#222" stroke-width="0.7"/>
<rect x="274.8" y="83.28" width="5.72" height="5.22" fill="#dfe3c5"/>
<rect x="280.22" y="83.28" width="5.72" height="5.22" fill="#e9eac5"/>
<rect x="285.63" y="83.28" width="5.72" height="5.22" fill="#ebebc4"/>
<rect x="291.05" y="83.28" width="5.72" height="5.22" fill="#b3c4c8"/>
<rect x="296.47" y="83.28" width="5.72" height="5.22" fill="#b7c7c7"/>
<rect x="301.88" y="83.28" width="5.72" height="5.22" fill="#b1c3c8"/>
<rect x="307.3" y="83.28" width="5.72" height="5.22" fill="#b9c8c7"/>
<rect x="312.72" y="83.28" width="5.72" height="5.22" fill="#b6c6c7"/>
<rect x="318.13" y="83.28" width="5.72" height="5.22" fill="#b5c5c7"/>
<rect x="323.55" y="83.28" width="5.72" height="5.22" fill="#f8f3c3"/>
<rect x="328.97" y="83.28" width="5.72" height="5.22" fill="#f9efbd"/>
<rect x="334.38" y="83.28" width="5.72" height="5.22" fill="#f9efbe"/>
<text x="268.4" y="87.59" font-size="5.15" text-anchor="end" fill="#333">SKP2 S64</text>
<line x1="270.7" y1="85.73" x2="274.8" y2="85.73" stroke="#222" stroke-width="0.7"/>
<rect x="274.8" y="88.19" width="5.72" height="5.22" fill="#fae0aa"/>
<rect x="280.22" y="88.19" width="5.72" height="5.22" fill="#fae3ac"/>
<rect x="285.63" y="88.19" width="5.72" height="5.22" fill="#fae3ad"/>
<rect x="291.05" y="88.19" width="5.72" height="5.22" fill="#f9f0bf"/>
<rect x="296.47" y="88.19" width="5.72" height="5.22" fill="#f9f2c1"/>
<rect x="301.88" y="88.19" width="5.72" height="5.22" fill="#f9f0be"/>
<rect x="307.3" y="88.19" width="5.72" height="5.22" fill="#f7f2c3"/>
<rect x="312.72" y="88.19" width="5.72" height="5.22" fill="#eaeac5"/>
<rect x="318.13" y="88.19" width="5.72" height="5.22" fill="#f9eebc"/>
<rect x="323.55" y="88.19" width="5.72" height="5.22" fill="#f4b387"/>
<rect x="328.97" y="88.19" width="5.72" height="5.22" fill="#f6c392"/>
<rect x="334.38" y="88.19" width="5.72" height="5.22" fill="#f7c896"/>
<text x="268.4" y="92.5" font-size="5.15" text-anchor="end" fill="#333">HAUS6 S530</text>
<line x1="270.7" y1="90.65" x2="274.8" y2="90.65" stroke="#222" stroke-width="0.7"/>
<rect x="274.8" y="93.11" width="5.72" height="5.22" fill="#f9f1c0"/>
<rect x="280.22" y="93.11" width="5.72" height="5.22" fill="#f3b186"/>
<rect x="285.63" y="93.11" width="5.72" height="5.22" fill="#f3b085"/>
<rect x="291.05" y="93.11" width="5.72" height="5.22" fill="#f2efc4"/>
<rect x="296.47" y="93.11" width="5.72" height="5.22" fill="#f6f1c3"/>
<rect x="301.88" y="93.11" width="5.72" height="5.22" fill="#f3efc4"/>
<rect x="307.3" y="93.11" width="5.72" height="5.22" fill="#f9f2c1"/>
<rect x="312.72" y="93.11" width="5.72" height="5.22" fill="#f7f2c3"/>
<rect x="318.13" y="93.11" width="5.72" height="5.22" fill="#f9f1c0"/>
<rect x="323.55" y="93.11" width="5.72" height="5.22" fill="#f1a67e"/>
<rect x="328.97" y="93.11" width="5.72" height="5.22" fill="#ee9673"/>
<rect x="334.38" y="93.11" width="5.72" height="5.22" fill="#f0a17b"/>
<text x="268.4" y="97.42" font-size="5.15" text-anchor="end" fill="#333">ESCO2 S312</text>
<line x1="270.7" y1="95.57" x2="274.8" y2="95.57" stroke="#222" stroke-width="0.7"/>
<rect x="274.8" y="98.02" width="5.72" height="5.22" fill="#fae8b4"/>
<rect x="280.22" y="98.02" width="5.72" height="5.22" fill="#edecc4"/>
<rect x="285.63" y="98.02" width="5.72" height="5.22" fill="#f5f1c3"/>
<rect x="291.05" y="98.02" width="5.72" height="5.22" fill="#ebebc4"/>
<rect x="296.47" y="98.02" width="5.72" height="5.22" fill="#f5f1c3"/>
<rect x="301.88" y="98.02" width="5.72" height="5.22" fill="#e5e7c5"/>
<rect x="307.3" y="98.02" width="5.72" height="5.22" fill="#e6e8c5"/>
<rect x="312.72" y="98.02" width="5.72" height="5.22" fill="#e5e7c5"/>
<rect x="318.13" y="98.02" width="5.72" height="5.22" fill="#eeedc4"/>
<rect x="323.55" y="98.02" width="5.72" height="5.22" fill="#fae5af"/>
<rect x="328.97" y="98.02" width="5.72" height="5.22" fill="#f9dfa9"/>
<rect x="334.38" y="98.02" width="5.72" height="5.22" fill="#fae6af"/>
<text x="268.4" y="102.34" font-size="5.15" text-anchor="end" fill="#333">RB1 T356</text>
<line x1="270.7" y1="100.48" x2="274.8" y2="100.48" stroke="#222" stroke-width="0.7"/>
<rect x="274.8" y="102.94" width="5.72" height="5.22" fill="#f1efc4"/>
<rect x="280.22" y="102.94" width="5.72" height="5.22" fill="#f9f1c1"/>
<rect x="285.63" y="102.94" width="5.72" height="5.22" fill="#f9f1bf"/>
<rect x="291.05" y="102.94" width="5.72" height="5.22" fill="#e6e8c5"/>
<rect x="296.47" y="102.94" width="5.72" height="5.22" fill="#dee3c5"/>
<rect x="301.88" y="102.94" width="5.72" height="5.22" fill="#dce1c5"/>
<rect x="307.3" y="102.94" width="5.72" height="5.22" fill="#e2e5c5"/>
<rect x="312.72" y="102.94" width="5.72" height="5.22" fill="#e0e4c5"/>
<rect x="318.13" y="102.94" width="5.72" height="5.22" fill="#e1e4c5"/>
<rect x="323.55" y="102.94" width="5.72" height="5.22" fill="#f8d19d"/>
<rect x="328.97" y="102.94" width="5.72" height="5.22" fill="#f7c896"/>
<rect x="334.38" y="102.94" width="5.72" height="5.22" fill="#f8ce9b"/>
<text x="268.4" y="107.25" font-size="5.15" text-anchor="end" fill="#333">FOXK1 S223</text>
<line x1="270.7" y1="105.4" x2="274.8" y2="105.4" stroke="#222" stroke-width="0.7"/>
<rect x="274.8" y="107.86" width="5.72" height="5.22" fill="#8da9c6"/>
<rect x="280.22" y="107.86" width="5.72" height="5.22" fill="#88a5c6"/>
<rect x="285.63" y="107.86" width="5.72" height="5.22" fill="#86a4c6"/>
<rect x="291.05" y="107.86" width="5.72" height="5.22" fill="#375da2"/>
<rect x="296.47" y="107.86" width="5.72" height="5.22" fill="#3d64a7"/>
<rect x="301.88" y="107.86" width="5.72" height="5.22" fill="#7799c4"/>
<rect x="307.3" y="107.86" width="5.72" height="5.22" fill="#799ac4"/>
<rect x="312.72" y="107.86" width="5.72" height="5.22" fill="#3f66a9"/>
<rect x="318.13" y="107.86" width="5.72" height="5.22" fill="#3960a5"/>
<rect x="323.55" y="107.86" width="5.72" height="5.22" fill="#799ac4"/>
<rect x="328.97" y="107.86" width="5.72" height="5.22" fill="#7295c3"/>
<rect x="334.38" y="107.86" width="5.72" height="5.22" fill="#809fc5"/>
<text x="268.4" y="112.17" font-size="5.15" text-anchor="end" fill="#333">ERCC6 S1348</text>
<line x1="270.7" y1="110.31" x2="274.8" y2="110.31" stroke="#222" stroke-width="0.7"/>
<rect x="274.8" y="112.77" width="5.72" height="5.22" fill="#f8d19e"/>
<rect x="280.22" y="112.77" width="5.72" height="5.22" fill="#f6c090"/>
<rect x="285.63" y="112.77" width="5.72" height="5.22" fill="#f3efc4"/>
<rect x="291.05" y="112.77" width="5.72" height="5.22" fill="#f4f0c4"/>
<rect x="296.47" y="112.77" width="5.72" height="5.22" fill="#f2efc4"/>
<rect x="301.88" y="112.77" width="5.72" height="5.22" fill="#faeab5"/>
<rect x="307.3" y="112.77" width="5.72" height="5.22" fill="#f7f2c3"/>
<rect x="312.72" y="112.77" width="5.72" height="5.22" fill="#f1eec4"/>
<rect x="318.13" y="112.77" width="5.72" height="5.22" fill="#f9eebb"/>
<rect x="323.55" y="112.77" width="5.72" height="5.22" fill="#f8d5a1"/>
<rect x="328.97" y="112.77" width="5.72" height="5.22" fill="#f9daa5"/>
<rect x="334.38" y="112.77" width="5.72" height="5.22" fill="#f2a77f"/>
<text x="268.4" y="117.08" font-size="5.15" text-anchor="end" fill="#333">ATAD5 S70</text>
<line x1="270.7" y1="115.23" x2="274.8" y2="115.23" stroke="#222" stroke-width="0.7"/>
<rect x="274.8" y="117.69" width="5.72" height="5.22" fill="#f9f0bf"/>
<rect x="280.22" y="117.69" width="5.72" height="5.22" fill="#f6f1c3"/>
<rect x="285.63" y="117.69" width="5.72" height="5.22" fill="#f9ecb9"/>
<rect x="291.05" y="117.69" width="5.72" height="5.22" fill="#f9f2c2"/>
<rect x="296.47" y="117.69" width="5.72" height="5.22" fill="#faebb8"/>
<rect x="301.88" y="117.69" width="5.72" height="5.22" fill="#f9f1bf"/>
<rect x="307.3" y="117.69" width="5.72" height="5.22" fill="#f9ecb8"/>
<rect x="312.72" y="117.69" width="5.72" height="5.22" fill="#f9f2c2"/>
<rect x="318.13" y="117.69" width="5.72" height="5.22" fill="#f2efc4"/>
<rect x="323.55" y="117.69" width="5.72" height="5.22" fill="#f8d19d"/>
<rect x="328.97" y="117.69" width="5.72" height="5.22" fill="#fae7b1"/>
<rect x="334.38" y="117.69" width="5.72" height="5.22" fill="#fae5ae"/>
<text x="268.4" y="122" font-size="5.15" text-anchor="end" fill="#333">MCM3 S734</text>
<line x1="270.7" y1="120.15" x2="274.8" y2="120.15" stroke="#222" stroke-width="0.7"/>
<rect x="274.8" y="122.6" width="5.72" height="5.22" fill="#cdd6c4"/>
<rect x="280.22" y="122.6" width="5.72" height="5.22" fill="#d0d8c4"/>
<rect x="285.63" y="122.6" width="5.72" height="5.22" fill="#d2dac4"/>
<rect x="291.05" y="122.6" width="5.72" height="5.22" fill="#f6f2c3"/>
<rect x="296.47" y="122.6" width="5.72" height="5.22" fill="#e3e6c5"/>
<rect x="301.88" y="122.6" width="5.72" height="5.22" fill="#f9edbb"/>
<rect x="307.3" y="122.6" width="5.72" height="5.22" fill="#e5e8c5"/>
<rect x="312.72" y="122.6" width="5.72" height="5.22" fill="#dfe3c5"/>
<rect x="318.13" y="122.6" width="5.72" height="5.22" fill="#dfe3c5"/>
<rect x="323.55" y="122.6" width="5.72" height="5.22" fill="#f5f1c3"/>
<rect x="328.97" y="122.6" width="5.72" height="5.22" fill="#efedc4"/>
<rect x="334.38" y="122.6" width="5.72" height="5.22" fill="#f9efbd"/>
<text x="268.4" y="126.92" font-size="5.15" text-anchor="end" fill="#333">TOP2A S1469</text>
<line x1="270.7" y1="125.06" x2="274.8" y2="125.06" stroke="#222" stroke-width="0.7"/>
<rect x="274.8" y="127.52" width="5.72" height="5.22" fill="#f6f1c3"/>
<rect x="280.22" y="127.52" width="5.72" height="5.22" fill="#f7f2c3"/>
<rect x="285.63" y="127.52" width="5.72" height="5.22" fill="#f9f3c3"/>
<rect x="291.05" y="127.52" width="5.72" height="5.22" fill="#edecc4"/>
<rect x="296.47" y="127.52" width="5.72" height="5.22" fill="#f0eec4"/>
<rect x="301.88" y="127.52" width="5.72" height="5.22" fill="#ced7c4"/>
<rect x="307.3" y="127.52" width="5.72" height="5.22" fill="#f9f0bf"/>
<rect x="312.72" y="127.52" width="5.72" height="5.22" fill="#f6f1c3"/>
<rect x="318.13" y="127.52" width="5.72" height="5.22" fill="#faeab6"/>
<rect x="323.55" y="127.52" width="5.72" height="5.22" fill="#f3b085"/>
<rect x="328.97" y="127.52" width="5.72" height="5.22" fill="#f2a77f"/>
<rect x="334.38" y="127.52" width="5.72" height="5.22" fill="#f1a67e"/>
<text x="268.4" y="131.83" font-size="5.15" text-anchor="end" fill="#333">RBL2 S373</text>
<line x1="270.7" y1="129.98" x2="274.8" y2="129.98" stroke="#222" stroke-width="0.7"/>
<rect x="274.8" y="132.44" width="5.72" height="5.22" fill="#e8e9c5"/>
<rect x="280.22" y="132.44" width="5.72" height="5.22" fill="#faeab5"/>
<rect x="285.63" y="132.44" width="5.72" height="5.22" fill="#f9f1c0"/>
<rect x="291.05" y="132.44" width="5.72" height="5.22" fill="#efedc4"/>
<rect x="296.47" y="132.44" width="5.72" height="5.22" fill="#f7ca98"/>
<rect x="301.88" y="132.44" width="5.72" height="5.22" fill="#f9f3c3"/>
<rect x="307.3" y="132.44" width="5.72" height="5.22" fill="#f9f1c0"/>
<rect x="312.72" y="132.44" width="5.72" height="5.22" fill="#f5f1c3"/>
<rect x="318.13" y="132.44" width="5.72" height="5.22" fill="#f9f2c2"/>
<rect x="323.55" y="132.44" width="5.72" height="5.22" fill="#f4f0c4"/>
<rect x="328.97" y="132.44" width="5.72" height="5.22" fill="#f9ecb9"/>
<rect x="334.38" y="132.44" width="5.72" height="5.22" fill="#f9f2c1"/>
<text x="268.4" y="136.75" font-size="5.15" text-anchor="end" fill="#333">SUV39H2 S381</text>
<line x1="270.7" y1="134.89" x2="274.8" y2="134.89" stroke="#222" stroke-width="0.7"/>
<rect x="274.8" y="137.35" width="5.72" height="5.22" fill="#fae3ac"/>
<rect x="280.22" y="137.35" width="5.72" height="5.22" fill="#f9dba5"/>
<rect x="285.63" y="137.35" width="5.72" height="5.22" fill="#fae2ab"/>
<rect x="291.05" y="137.35" width="5.72" height="5.22" fill="#f9f2c1"/>
<rect x="296.47" y="137.35" width="5.72" height="5.22" fill="#f9f2c1"/>
<rect x="301.88" y="137.35" width="5.72" height="5.22" fill="#f5f0c3"/>
<rect x="307.3" y="137.35" width="5.72" height="5.22" fill="#f9efbd"/>
<rect x="312.72" y="137.35" width="5.72" height="5.22" fill="#f9ecb8"/>
<rect x="318.13" y="137.35" width="5.72" height="5.22" fill="#f9efbe"/>
<rect x="323.55" y="137.35" width="5.72" height="5.22" fill="#f8d39f"/>
<rect x="328.97" y="137.35" width="5.72" height="5.22" fill="#fae1ab"/>
<rect x="334.38" y="137.35" width="5.72" height="5.22" fill="#fae1ab"/>
<text x="268.4" y="141.66" font-size="5.15" text-anchor="end" fill="#333">YEATS2 S627</text>
<line x1="270.7" y1="139.81" x2="274.8" y2="139.81" stroke="#222" stroke-width="0.7"/>
<rect x="274.8" y="142.27" width="5.72" height="5.22" fill="#f4f0c4"/>
<rect x="280.22" y="142.27" width="5.72" height="5.22" fill="#f3b085"/>
<rect x="285.63" y="142.27" width="5.72" height="5.22" fill="#f5be8f"/>
<rect x="291.05" y="142.27" width="5.72" height="5.22" fill="#f9ecb9"/>
<rect x="296.47" y="142.27" width="5.72" height="5.22" fill="#f4f0c4"/>
<rect x="301.88" y="142.27" width="5.72" height="5.22" fill="#f6f1c3"/>
<rect x="307.3" y="142.27" width="5.72" height="5.22" fill="#f9f3c2"/>
<rect x="312.72" y="142.27" width="5.72" height="5.22" fill="#f9efbd"/>
<rect x="318.13" y="142.27" width="5.72" height="5.22" fill="#f9f3c3"/>
<rect x="323.55" y="142.27" width="5.72" height="5.22" fill="#f8cf9c"/>
<rect x="328.97" y="142.27" width="5.72" height="5.22" fill="#f8d19d"/>
<rect x="334.38" y="142.27" width="5.72" height="5.22" fill="#f8cf9c"/>
<text x="268.4" y="146.58" font-size="5.15" text-anchor="end" fill="#333">EPB41 S92</text>
<line x1="270.7" y1="144.73" x2="274.8" y2="144.73" stroke="#222" stroke-width="0.7"/>
<rect x="274.8" y="147.18" width="5.72" height="5.22" fill="#d9dfc5"/>
<rect x="280.22" y="147.18" width="5.72" height="5.22" fill="#f6f1c3"/>
<rect x="285.63" y="147.18" width="5.72" height="5.22" fill="#f4f0c4"/>
<rect x="291.05" y="147.18" width="5.72" height="5.22" fill="#b5c6c7"/>
<rect x="296.47" y="147.18" width="5.72" height="5.22" fill="#b7c7c7"/>
<rect x="301.88" y="147.18" width="5.72" height="5.22" fill="#b3c4c8"/>
<rect x="307.3" y="147.18" width="5.72" height="5.22" fill="#b5c6c7"/>
<rect x="312.72" y="147.18" width="5.72" height="5.22" fill="#b4c5c8"/>
<rect x="318.13" y="147.18" width="5.72" height="5.22" fill="#b7c7c7"/>
<rect x="323.55" y="147.18" width="5.72" height="5.22" fill="#ebebc4"/>
<rect x="328.97" y="147.18" width="5.72" height="5.22" fill="#e1e4c5"/>
<rect x="334.38" y="147.18" width="5.72" height="5.22" fill="#eaeac5"/>
<text x="268.4" y="151.5" font-size="5.15" text-anchor="end" fill="#333">PRR11 S355</text>
<line x1="270.7" y1="149.64" x2="274.8" y2="149.64" stroke="#222" stroke-width="0.7"/>
<rect x="274.8" y="152.1" width="5.72" height="5.22" fill="#fae9b4"/>
<rect x="280.22" y="152.1" width="5.72" height="5.22" fill="#f0eec4"/>
<rect x="285.63" y="152.1" width="5.72" height="5.22" fill="#f4f0c4"/>
<rect x="291.05" y="152.1" width="5.72" height="5.22" fill="#f9eebc"/>
<rect x="296.47" y="152.1" width="5.72" height="5.22" fill="#faebb8"/>
<rect x="301.88" y="152.1" width="5.72" height="5.22" fill="#fae1ab"/>
<rect x="307.3" y="152.1" width="5.72" height="5.22" fill="#f9f3c3"/>
<rect x="312.72" y="152.1" width="5.72" height="5.22" fill="#f5f1c3"/>
<rect x="318.13" y="152.1" width="5.72" height="5.22" fill="#f9f0bf"/>
<rect x="323.55" y="152.1" width="5.72" height="5.22" fill="#f5f1c3"/>
<rect x="328.97" y="152.1" width="5.72" height="5.22" fill="#f9eebb"/>
<rect x="334.38" y="152.1" width="5.72" height="5.22" fill="#f9f2c1"/>
<text x="268.4" y="156.41" font-size="5.15" text-anchor="end" fill="#333">STAG2 S1064</text>
<line x1="270.7" y1="154.56" x2="274.8" y2="154.56" stroke="#222" stroke-width="0.7"/>
<rect x="274.8" y="157.02" width="5.72" height="5.22" fill="#f5ba8c"/>
<rect x="280.22" y="157.02" width="5.72" height="5.22" fill="#f8cc99"/>
<rect x="285.63" y="157.02" width="5.72" height="5.22" fill="#f2ab82"/>
<rect x="291.05" y="157.02" width="5.72" height="5.22" fill="#f9efbd"/>
<rect x="296.47" y="157.02" width="5.72" height="5.22" fill="#f9f0be"/>
<rect x="301.88" y="157.02" width="5.72" height="5.22" fill="#f9f3c3"/>
<rect x="307.3" y="157.02" width="5.72" height="5.22" fill="#f5f0c3"/>
<rect x="312.72" y="157.02" width="5.72" height="5.22" fill="#f4f0c4"/>
<rect x="318.13" y="157.02" width="5.72" height="5.22" fill="#f8f3c3"/>
<rect x="323.55" y="157.02" width="5.72" height="5.22" fill="#f4b78a"/>
<rect x="328.97" y="157.02" width="5.72" height="5.22" fill="#f3ad83"/>
<rect x="334.38" y="157.02" width="5.72" height="5.22" fill="#f4b78a"/>
<text x="268.4" y="161.33" font-size="5.15" text-anchor="end" fill="#333">CLSPN S83</text>
<line x1="270.7" y1="159.47" x2="274.8" y2="159.47" stroke="#222" stroke-width="0.7"/>
<rect x="274.8" y="161.93" width="5.72" height="5.22" fill="#f9f0bf"/>
<rect x="280.22" y="161.93" width="5.72" height="5.22" fill="#f9eebc"/>
<rect x="285.63" y="161.93" width="5.72" height="5.22" fill="#f5f1c3"/>
<rect x="291.05" y="161.93" width="5.72" height="5.22" fill="#edecc4"/>
<rect x="296.47" y="161.93" width="5.72" height="5.22" fill="#e5e7c5"/>
<rect x="301.88" y="161.93" width="5.72" height="5.22" fill="#edecc4"/>
<rect x="307.3" y="161.93" width="5.72" height="5.22" fill="#e9eac5"/>
<rect x="312.72" y="161.93" width="5.72" height="5.22" fill="#edecc4"/>
<rect x="318.13" y="161.93" width="5.72" height="5.22" fill="#e0e4c5"/>
<rect x="323.55" y="161.93" width="5.72" height="5.22" fill="#f8f3c3"/>
<rect x="328.97" y="161.93" width="5.72" height="5.22" fill="#f9ecb9"/>
<rect x="334.38" y="161.93" width="5.72" height="5.22" fill="#f5f1c3"/>
<text x="268.4" y="166.24" font-size="5.15" text-anchor="end" fill="#333">PRKDC S847</text>
<line x1="270.7" y1="164.39" x2="274.8" y2="164.39" stroke="#222" stroke-width="0.7"/>
<rect x="274.8" y="166.85" width="5.72" height="5.22" fill="#e97a5e"/>
<rect x="280.22" y="166.85" width="5.72" height="5.22" fill="#f2aa81"/>
<rect x="285.63" y="166.85" width="5.72" height="5.22" fill="#f3b085"/>
<rect x="291.05" y="166.85" width="5.72" height="5.22" fill="#ececc4"/>
<rect x="296.47" y="166.85" width="5.72" height="5.22" fill="#f6f2c3"/>
<rect x="301.88" y="166.85" width="5.72" height="5.22" fill="#f9edba"/>
<rect x="307.3" y="166.85" width="5.72" height="5.22" fill="#f6f1c3"/>
<rect x="312.72" y="166.85" width="5.72" height="5.22" fill="#f9f1c1"/>
<rect x="318.13" y="166.85" width="5.72" height="5.22" fill="#f8f3c3"/>
<rect x="323.55" y="166.85" width="5.72" height="5.22" fill="#ea8163"/>
<rect x="328.97" y="166.85" width="5.72" height="5.22" fill="#eb8365"/>
<rect x="334.38" y="166.85" width="5.72" height="5.22" fill="#eb8365"/>
<text x="268.4" y="171.16" font-size="5.15" text-anchor="end" fill="#333">TOP3A S975</text>
<line x1="270.7" y1="169.31" x2="274.8" y2="169.31" stroke="#222" stroke-width="0.7"/>
<rect x="274.8" y="171.76" width="5.72" height="5.22" fill="#f9f1c0"/>
<rect x="280.22" y="171.76" width="5.72" height="5.22" fill="#f2efc4"/>
<rect x="285.63" y="171.76" width="5.72" height="5.22" fill="#f9eebc"/>
<rect x="291.05" y="171.76" width="5.72" height="5.22" fill="#f4b387"/>
<rect x="296.47" y="171.76" width="5.72" height="5.22" fill="#f9dca6"/>
<rect x="301.88" y="171.76" width="5.72" height="5.22" fill="#f8d4a0"/>
<rect x="307.3" y="171.76" width="5.72" height="5.22" fill="#f5f1c3"/>
<rect x="312.72" y="171.76" width="5.72" height="5.22" fill="#f6f1c3"/>
<rect x="318.13" y="171.76" width="5.72" height="5.22" fill="#f9f2c2"/>
<rect x="323.55" y="171.76" width="5.72" height="5.22" fill="#f1a67e"/>
<rect x="328.97" y="171.76" width="5.72" height="5.22" fill="#f2a880"/>
<rect x="334.38" y="171.76" width="5.72" height="5.22" fill="#f2aa81"/>
<text x="268.4" y="176.08" font-size="5.15" text-anchor="end" fill="#333">DOT1L S775</text>
<line x1="270.7" y1="174.22" x2="274.8" y2="174.22" stroke="#222" stroke-width="0.7"/>
<rect x="274.8" y="176.68" width="5.72" height="5.22" fill="#f6f1c3"/>
<rect x="280.22" y="176.68" width="5.72" height="5.22" fill="#f9eebc"/>
<rect x="285.63" y="176.68" width="5.72" height="5.22" fill="#edecc4"/>
<rect x="291.05" y="176.68" width="5.72" height="5.22" fill="#f0eec4"/>
<rect x="296.47" y="176.68" width="5.72" height="5.22" fill="#ececc4"/>
<rect x="301.88" y="176.68" width="5.72" height="5.22" fill="#f2efc4"/>
<rect x="307.3" y="176.68" width="5.72" height="5.22" fill="#f1eec4"/>
<rect x="312.72" y="176.68" width="5.72" height="5.22" fill="#dde2c5"/>
<rect x="318.13" y="176.68" width="5.72" height="5.22" fill="#f1eec4"/>
<rect x="323.55" y="176.68" width="5.72" height="5.22" fill="#f8ce9b"/>
<rect x="328.97" y="176.68" width="5.72" height="5.22" fill="#f8d09d"/>
<rect x="334.38" y="176.68" width="5.72" height="5.22" fill="#f8d4a0"/>
<text x="268.4" y="180.99" font-size="5.15" text-anchor="end" fill="#333">CUL4B S53</text>
<line x1="270.7" y1="179.14" x2="274.8" y2="179.14" stroke="#222" stroke-width="0.7"/>
<rect x="274.8" y="181.6" width="5.72" height="5.22" fill="#f6bf90"/>
<rect x="280.22" y="181.6" width="5.72" height="5.22" fill="#f9f2c2"/>
<rect x="285.63" y="181.6" width="5.72" height="5.22" fill="#fae7b2"/>
<rect x="291.05" y="181.6" width="5.72" height="5.22" fill="#f9f0bf"/>
<rect x="296.47" y="181.6" width="5.72" height="5.22" fill="#fae9b4"/>
<rect x="301.88" y="181.6" width="5.72" height="5.22" fill="#f4f0c4"/>
<rect x="307.3" y="181.6" width="5.72" height="5.22" fill="#eeedc4"/>
<rect x="312.72" y="181.6" width="5.72" height="5.22" fill="#f9f0be"/>
<rect x="318.13" y="181.6" width="5.72" height="5.22" fill="#f9efbd"/>
<rect x="323.55" y="181.6" width="5.72" height="5.22" fill="#fae4ad"/>
<rect x="328.97" y="181.6" width="5.72" height="5.22" fill="#faebb8"/>
<rect x="334.38" y="181.6" width="5.72" height="5.22" fill="#fae6b0"/>
<text x="268.4" y="185.91" font-size="5.15" text-anchor="end" fill="#333">TASOR S1107</text>
<line x1="270.7" y1="184.05" x2="274.8" y2="184.05" stroke="#222" stroke-width="0.7"/>
<rect x="274.8" y="186.51" width="5.72" height="5.22" fill="#f9d6a1"/>
<rect x="280.22" y="186.51" width="5.72" height="5.22" fill="#f4f0c4"/>
<rect x="285.63" y="186.51" width="5.72" height="5.22" fill="#f4f0c3"/>
<rect x="291.05" y="186.51" width="5.72" height="5.22" fill="#f5bd8e"/>
<rect x="296.47" y="186.51" width="5.72" height="5.22" fill="#f2ad83"/>
<rect x="301.88" y="186.51" width="5.72" height="5.22" fill="#f2a980"/>
<rect x="307.3" y="186.51" width="5.72" height="5.22" fill="#f0eec4"/>
<rect x="312.72" y="186.51" width="5.72" height="5.22" fill="#faebb7"/>
<rect x="318.13" y="186.51" width="5.72" height="5.22" fill="#f6f1c3"/>
<rect x="323.55" y="186.51" width="5.72" height="5.22" fill="#f6c392"/>
<rect x="328.97" y="186.51" width="5.72" height="5.22" fill="#f8cf9c"/>
<rect x="334.38" y="186.51" width="5.72" height="5.22" fill="#f6c090"/>
<text x="268.4" y="190.82" font-size="5.15" text-anchor="end" fill="#333">AJUBA S69</text>
<line x1="270.7" y1="188.97" x2="274.8" y2="188.97" stroke="#222" stroke-width="0.7"/>
<rect x="274.8" y="191.43" width="5.72" height="5.22" fill="#eeecc4"/>
<rect x="280.22" y="191.43" width="5.72" height="5.22" fill="#f9efbd"/>
<rect x="285.63" y="191.43" width="5.72" height="5.22" fill="#f9f3c3"/>
<rect x="291.05" y="191.43" width="5.72" height="5.22" fill="#f7f2c3"/>
<rect x="296.47" y="191.43" width="5.72" height="5.22" fill="#e2e5c5"/>
<rect x="301.88" y="191.43" width="5.72" height="5.22" fill="#eaeac5"/>
<rect x="307.3" y="191.43" width="5.72" height="5.22" fill="#ecebc4"/>
<rect x="312.72" y="191.43" width="5.72" height="5.22" fill="#f1efc4"/>
<rect x="318.13" y="191.43" width="5.72" height="5.22" fill="#e7e9c5"/>
<rect x="323.55" y="191.43" width="5.72" height="5.22" fill="#f9f3c2"/>
<rect x="328.97" y="191.43" width="5.72" height="5.22" fill="#ecebc4"/>
<rect x="334.38" y="191.43" width="5.72" height="5.22" fill="#f4f0c4"/>
<text x="268.4" y="195.74" font-size="5.15" text-anchor="end" fill="#333">TICRR S1750</text>
<line x1="270.7" y1="193.89" x2="274.8" y2="193.89" stroke="#222" stroke-width="0.7"/>
<rect x="274.8" y="196.34" width="5.72" height="5.22" fill="#c2cec5"/>
<rect x="280.22" y="196.34" width="5.72" height="5.22" fill="#c4d0c5"/>
<rect x="285.63" y="196.34" width="5.72" height="5.22" fill="#bfccc6"/>
<rect x="291.05" y="196.34" width="5.72" height="5.22" fill="#c3cfc5"/>
<rect x="296.47" y="196.34" width="5.72" height="5.22" fill="#c2cec5"/>
<rect x="301.88" y="196.34" width="5.72" height="5.22" fill="#bac9c7"/>
<rect x="307.3" y="196.34" width="5.72" height="5.22" fill="#b6c6c7"/>
<rect x="312.72" y="196.34" width="5.72" height="5.22" fill="#b8c8c7"/>
<rect x="318.13" y="196.34" width="5.72" height="5.22" fill="#bccbc6"/>
<rect x="323.55" y="196.34" width="5.72" height="5.22" fill="#e5e7c5"/>
<rect x="328.97" y="196.34" width="5.72" height="5.22" fill="#e1e4c5"/>
<rect x="334.38" y="196.34" width="5.72" height="5.22" fill="#d3dbc4"/>
<text x="268.4" y="200.66" font-size="5.15" text-anchor="end" fill="#333">RUNX3 S251</text>
<line x1="270.7" y1="198.8" x2="274.8" y2="198.8" stroke="#222" stroke-width="0.7"/>
<rect x="274.8" y="201.26" width="5.72" height="5.22" fill="#f8f2c3"/>
<rect x="280.22" y="201.26" width="5.72" height="5.22" fill="#f4b88b"/>
<rect x="285.63" y="201.26" width="5.72" height="5.22" fill="#f7ca97"/>
<rect x="291.05" y="201.26" width="5.72" height="5.22" fill="#f4f0c3"/>
<rect x="296.47" y="201.26" width="5.72" height="5.22" fill="#fae9b5"/>
<rect x="301.88" y="201.26" width="5.72" height="5.22" fill="#f9f3c3"/>
<rect x="307.3" y="201.26" width="5.72" height="5.22" fill="#f6f1c3"/>
<rect x="312.72" y="201.26" width="5.72" height="5.22" fill="#f9f1c1"/>
<rect x="318.13" y="201.26" width="5.72" height="5.22" fill="#f9f3c3"/>
<rect x="323.55" y="201.26" width="5.72" height="5.22" fill="#f7ca98"/>
<rect x="328.97" y="201.26" width="5.72" height="5.22" fill="#f5bc8d"/>
<rect x="334.38" y="201.26" width="5.72" height="5.22" fill="#f5bd8e"/>
<text x="268.4" y="205.57" font-size="5.15" text-anchor="end" fill="#333">WEE1 S139</text>
<line x1="270.7" y1="203.72" x2="274.8" y2="203.72" stroke="#222" stroke-width="0.7"/>
<rect x="274.8" y="206.18" width="5.72" height="5.22" fill="#d6dcc4"/>
<rect x="280.22" y="206.18" width="5.72" height="5.22" fill="#d0d9c4"/>
<rect x="285.63" y="206.18" width="5.72" height="5.22" fill="#d7dec4"/>
<rect x="291.05" y="206.18" width="5.72" height="5.22" fill="#bac9c7"/>
<rect x="296.47" y="206.18" width="5.72" height="5.22" fill="#bccbc6"/>
<rect x="301.88" y="206.18" width="5.72" height="5.22" fill="#bfccc6"/>
<rect x="307.3" y="206.18" width="5.72" height="5.22" fill="#beccc6"/>
<rect x="312.72" y="206.18" width="5.72" height="5.22" fill="#c2cfc5"/>
<rect x="318.13" y="206.18" width="5.72" height="5.22" fill="#bccbc6"/>
<rect x="323.55" y="206.18" width="5.72" height="5.22" fill="#d6dcc4"/>
<rect x="328.97" y="206.18" width="5.72" height="5.22" fill="#d9dec5"/>
<rect x="334.38" y="206.18" width="5.72" height="5.22" fill="#e7e8c5"/>
<text x="268.4" y="210.49" font-size="5.15" text-anchor="end" fill="#333">BCL7A S157</text>
<line x1="270.7" y1="208.63" x2="274.8" y2="208.63" stroke="#222" stroke-width="0.7"/>
<rect x="274.8" y="211.09" width="5.72" height="5.22" fill="#fae6af"/>
<rect x="280.22" y="211.09" width="5.72" height="5.22" fill="#fae1ab"/>
<rect x="285.63" y="211.09" width="5.72" height="5.22" fill="#fae8b3"/>
<rect x="291.05" y="211.09" width="5.72" height="5.22" fill="#f9eebc"/>
<rect x="296.47" y="211.09" width="5.72" height="5.22" fill="#f7f2c3"/>
<rect x="301.88" y="211.09" width="5.72" height="5.22" fill="#f9ecb9"/>
<rect x="307.3" y="211.09" width="5.72" height="5.22" fill="#f6f1c3"/>
<rect x="312.72" y="211.09" width="5.72" height="5.22" fill="#f9eebb"/>
<rect x="318.13" y="211.09" width="5.72" height="5.22" fill="#f9f0be"/>
<rect x="323.55" y="211.09" width="5.72" height="5.22" fill="#fae7b2"/>
<rect x="328.97" y="211.09" width="5.72" height="5.22" fill="#f9dca6"/>
<rect x="334.38" y="211.09" width="5.72" height="5.22" fill="#fae8b3"/>
<text x="268.4" y="215.4" font-size="5.15" text-anchor="end" fill="#333">NEK1 S817</text>
<line x1="270.7" y1="213.55" x2="274.8" y2="213.55" stroke="#222" stroke-width="0.7"/>
<rect x="274.8" y="216.01" width="5.72" height="5.22" fill="#f9d7a2"/>
<rect x="280.22" y="216.01" width="5.72" height="5.22" fill="#f7cb98"/>
<rect x="285.63" y="216.01" width="5.72" height="5.22" fill="#f9d6a1"/>
<rect x="291.05" y="216.01" width="5.72" height="5.22" fill="#f5f1c3"/>
<rect x="296.47" y="216.01" width="5.72" height="5.22" fill="#f7f2c3"/>
<rect x="301.88" y="216.01" width="5.72" height="5.22" fill="#f3efc4"/>
<rect x="307.3" y="216.01" width="5.72" height="5.22" fill="#f9eebc"/>
<rect x="312.72" y="216.01" width="5.72" height="5.22" fill="#f9f0bf"/>
<rect x="318.13" y="216.01" width="5.72" height="5.22" fill="#f9f3c3"/>
<rect x="323.55" y="216.01" width="5.72" height="5.22" fill="#f9f1bf"/>
<rect x="328.97" y="216.01" width="5.72" height="5.22" fill="#f9eebb"/>
<rect x="334.38" y="216.01" width="5.72" height="5.22" fill="#fae8b2"/>
<text x="268.4" y="220.32" font-size="5.15" text-anchor="end" fill="#333">RIF1 S752</text>
<line x1="270.7" y1="218.47" x2="274.8" y2="218.47" stroke="#222" stroke-width="0.7"/>
<rect x="274.8" y="220.92" width="5.72" height="5.22" fill="#f9efbd"/>
<rect x="280.22" y="220.92" width="5.72" height="5.22" fill="#f6f1c3"/>
<rect x="285.63" y="220.92" width="5.72" height="5.22" fill="#f9efbe"/>
<rect x="291.05" y="220.92" width="5.72" height="5.22" fill="#f8f3c3"/>
<rect x="296.47" y="220.92" width="5.72" height="5.22" fill="#f8f2c3"/>
<rect x="301.88" y="220.92" width="5.72" height="5.22" fill="#faeab6"/>
<rect x="307.3" y="220.92" width="5.72" height="5.22" fill="#f6f2c3"/>
<rect x="312.72" y="220.92" width="5.72" height="5.22" fill="#f6f1c3"/>
<rect x="318.13" y="220.92" width="5.72" height="5.22" fill="#edecc4"/>
<rect x="323.55" y="220.92" width="5.72" height="5.22" fill="#ee9472"/>
<rect x="328.97" y="220.92" width="5.72" height="5.22" fill="#e97a5e"/>
<rect x="334.38" y="220.92" width="5.72" height="5.22" fill="#ec8a6a"/>
<text x="268.4" y="225.24" font-size="5.15" text-anchor="end" fill="#333">HAUS1 S189</text>
<line x1="270.7" y1="223.38" x2="274.8" y2="223.38" stroke="#222" stroke-width="0.7"/>
<rect x="274.8" y="225.84" width="5.72" height="5.22" fill="#f9f1bf"/>
<rect x="280.22" y="225.84" width="5.72" height="5.22" fill="#f2efc4"/>
<rect x="285.63" y="225.84" width="5.72" height="5.22" fill="#f4f0c3"/>
<rect x="291.05" y="225.84" width="5.72" height="5.22" fill="#f9f0be"/>
<rect x="296.47" y="225.84" width="5.72" height="5.22" fill="#f9ecb9"/>
<rect x="301.88" y="225.84" width="5.72" height="5.22" fill="#f9f0bf"/>
<rect x="307.3" y="225.84" width="5.72" height="5.22" fill="#f9edbb"/>
<rect x="312.72" y="225.84" width="5.72" height="5.22" fill="#faebb7"/>
<rect x="318.13" y="225.84" width="5.72" height="5.22" fill="#f9eebc"/>
<rect x="323.55" y="225.84" width="5.72" height="5.22" fill="#f6c493"/>
<rect x="328.97" y="225.84" width="5.72" height="5.22" fill="#f5bc8e"/>
<rect x="334.38" y="225.84" width="5.72" height="5.22" fill="#f4b589"/>
<text x="268.4" y="230.15" font-size="5.15" text-anchor="end" fill="#333">KIF15 S568</text>
<line x1="270.7" y1="228.3" x2="274.8" y2="228.3" stroke="#222" stroke-width="0.7"/>
<rect x="274.8" y="230.76" width="5.72" height="5.22" fill="#f6f2c3"/>
<rect x="280.22" y="230.76" width="5.72" height="5.22" fill="#f9d7a2"/>
<rect x="285.63" y="230.76" width="5.72" height="5.22" fill="#fae6af"/>
<rect x="291.05" y="230.76" width="5.72" height="5.22" fill="#f4f0c4"/>
<rect x="296.47" y="230.76" width="5.72" height="5.22" fill="#f9f0bf"/>
<rect x="301.88" y="230.76" width="5.72" height="5.22" fill="#ebebc4"/>
<rect x="307.3" y="230.76" width="5.72" height="5.22" fill="#f2efc4"/>
<rect x="312.72" y="230.76" width="5.72" height="5.22" fill="#f9f3c3"/>
<rect x="318.13" y="230.76" width="5.72" height="5.22" fill="#efedc4"/>
<rect x="323.55" y="230.76" width="5.72" height="5.22" fill="#f8d09d"/>
<rect x="328.97" y="230.76" width="5.72" height="5.22" fill="#f9d7a2"/>
<rect x="334.38" y="230.76" width="5.72" height="5.22" fill="#f8d39f"/>
<text x="268.4" y="235.07" font-size="5.15" text-anchor="end" fill="#333">WDR62 S1228</text>
<line x1="270.7" y1="233.21" x2="274.8" y2="233.21" stroke="#222" stroke-width="0.7"/>
<rect x="274.8" y="235.67" width="5.72" height="5.22" fill="#f7f2c3"/>
<rect x="280.22" y="235.67" width="5.72" height="5.22" fill="#f9d9a4"/>
<rect x="285.63" y="235.67" width="5.72" height="5.22" fill="#f9dfa9"/>
<rect x="291.05" y="235.67" width="5.72" height="5.22" fill="#f6f1c3"/>
<rect x="296.47" y="235.67" width="5.72" height="5.22" fill="#f2efc4"/>
<rect x="301.88" y="235.67" width="5.72" height="5.22" fill="#f9d6a1"/>
<rect x="307.3" y="235.67" width="5.72" height="5.22" fill="#faebb7"/>
<rect x="312.72" y="235.67" width="5.72" height="5.22" fill="#f9f2c2"/>
<rect x="318.13" y="235.67" width="5.72" height="5.22" fill="#f9f2c2"/>
<rect x="323.55" y="235.67" width="5.72" height="5.22" fill="#f7c694"/>
<rect x="328.97" y="235.67" width="5.72" height="5.22" fill="#f4b589"/>
<rect x="334.38" y="235.67" width="5.72" height="5.22" fill="#f6c292"/>
<text x="268.4" y="239.98" font-size="5.15" text-anchor="end" fill="#333">LLGL1 S659</text>
<line x1="270.7" y1="238.13" x2="274.8" y2="238.13" stroke="#222" stroke-width="0.7"/>
<rect x="274.8" y="240.59" width="5.72" height="5.22" fill="#f4f0c4"/>
<rect x="280.22" y="240.59" width="5.72" height="5.22" fill="#f9f0bf"/>
<rect x="285.63" y="240.59" width="5.72" height="5.22" fill="#f9f2c2"/>
<rect x="291.05" y="240.59" width="5.72" height="5.22" fill="#f9eebb"/>
<rect x="296.47" y="240.59" width="5.72" height="5.22" fill="#f9ecb9"/>
<rect x="301.88" y="240.59" width="5.72" height="5.22" fill="#f6f1c3"/>
<rect x="307.3" y="240.59" width="5.72" height="5.22" fill="#f9f2c2"/>
<rect x="312.72" y="240.59" width="5.72" height="5.22" fill="#faebb7"/>
<rect x="318.13" y="240.59" width="5.72" height="5.22" fill="#f9eebc"/>
<rect x="323.55" y="240.59" width="5.72" height="5.22" fill="#f8d5a0"/>
<rect x="328.97" y="240.59" width="5.72" height="5.22" fill="#f8d09d"/>
<rect x="334.38" y="240.59" width="5.72" height="5.22" fill="#f9dfa9"/>
<text x="268.4" y="244.9" font-size="5.15" text-anchor="end" fill="#333">NCOR1 S1196</text>
<line x1="270.7" y1="243.05" x2="274.8" y2="243.05" stroke="#222" stroke-width="0.7"/>
<rect x="274.8" y="245.5" width="5.72" height="5.22" fill="#f9f0bf"/>
<rect x="280.22" y="245.5" width="5.72" height="5.22" fill="#f9ecb9"/>
<rect x="285.63" y="245.5" width="5.72" height="5.22" fill="#faebb8"/>
<rect x="291.05" y="245.5" width="5.72" height="5.22" fill="#f4f0c4"/>
<rect x="296.47" y="245.5" width="5.72" height="5.22" fill="#f7f2c3"/>
<rect x="301.88" y="245.5" width="5.72" height="5.22" fill="#f9f1c0"/>
<rect x="307.3" y="245.5" width="5.72" height="5.22" fill="#f7f2c3"/>
<rect x="312.72" y="245.5" width="5.72" height="5.22" fill="#f7f2c3"/>
<rect x="318.13" y="245.5" width="5.72" height="5.22" fill="#f9f0be"/>
<rect x="323.55" y="245.5" width="5.72" height="5.22" fill="#f6bf8f"/>
<rect x="328.97" y="245.5" width="5.72" height="5.22" fill="#f7cb98"/>
<rect x="334.38" y="245.5" width="5.72" height="5.22" fill="#f4b88b"/>
<text x="268.4" y="249.82" font-size="5.15" text-anchor="end" fill="#333">DTL S410</text>
<line x1="270.7" y1="247.96" x2="274.8" y2="247.96" stroke="#222" stroke-width="0.7"/>
<rect x="274.8" y="250.42" width="5.72" height="5.22" fill="#f8d4a0"/>
<rect x="280.22" y="250.42" width="5.72" height="5.22" fill="#f9d6a2"/>
<rect x="285.63" y="250.42" width="5.72" height="5.22" fill="#f9dda7"/>
<rect x="291.05" y="250.42" width="5.72" height="5.22" fill="#ee9672"/>
<rect x="296.47" y="250.42" width="5.72" height="5.22" fill="#f5b98b"/>
<rect x="301.88" y="250.42" width="5.72" height="5.22" fill="#f4b488"/>
<rect x="307.3" y="250.42" width="5.72" height="5.22" fill="#f9dca7"/>
<rect x="312.72" y="250.42" width="5.72" height="5.22" fill="#f8d19d"/>
<rect x="318.13" y="250.42" width="5.72" height="5.22" fill="#f8d09d"/>
<rect x="323.55" y="250.42" width="5.72" height="5.22" fill="#f5ba8c"/>
<rect x="328.97" y="250.42" width="5.72" height="5.22" fill="#f3b186"/>
<rect x="334.38" y="250.42" width="5.72" height="5.22" fill="#f5be8f"/>
<text x="268.4" y="254.73" font-size="5.15" text-anchor="end" fill="#333">MCM5 S279</text>
<line x1="270.7" y1="252.88" x2="274.8" y2="252.88" stroke="#222" stroke-width="0.7"/>
<rect x="274.8" y="255.34" width="5.72" height="5.22" fill="#f9eebc"/>
<rect x="280.22" y="255.34" width="5.72" height="5.22" fill="#f0eec4"/>
<rect x="285.63" y="255.34" width="5.72" height="5.22" fill="#f8f2c3"/>
<rect x="291.05" y="255.34" width="5.72" height="5.22" fill="#e5e7c5"/>
<rect x="296.47" y="255.34" width="5.72" height="5.22" fill="#f4f0c4"/>
<rect x="301.88" y="255.34" width="5.72" height="5.22" fill="#f9efbd"/>
<rect x="307.3" y="255.34" width="5.72" height="5.22" fill="#f4f0c4"/>
<rect x="312.72" y="255.34" width="5.72" height="5.22" fill="#f9f1c0"/>
<rect x="318.13" y="255.34" width="5.72" height="5.22" fill="#f9efbd"/>
<rect x="323.55" y="255.34" width="5.72" height="5.22" fill="#f8f3c3"/>
<rect x="328.97" y="255.34" width="5.72" height="5.22" fill="#f9ecb9"/>
<rect x="334.38" y="255.34" width="5.72" height="5.22" fill="#f9f0bf"/>
<text x="268.4" y="259.65" font-size="5.15" text-anchor="end" fill="#333">TERF2 S365</text>
<line x1="270.7" y1="257.79" x2="274.8" y2="257.79" stroke="#222" stroke-width="0.7"/>
<rect x="274.8" y="260.25" width="5.72" height="5.22" fill="#efedc4"/>
<rect x="280.22" y="260.25" width="5.72" height="5.22" fill="#f9dea8"/>
<rect x="285.63" y="260.25" width="5.72" height="5.22" fill="#f9f0be"/>
<rect x="291.05" y="260.25" width="5.72" height="5.22" fill="#f6f1c3"/>
<rect x="296.47" y="260.25" width="5.72" height="5.22" fill="#fae5ae"/>
<rect x="301.88" y="260.25" width="5.72" height="5.22" fill="#f6f1c3"/>
<rect x="307.3" y="260.25" width="5.72" height="5.22" fill="#f6f1c3"/>
<rect x="312.72" y="260.25" width="5.72" height="5.22" fill="#f9f0be"/>
<rect x="318.13" y="260.25" width="5.72" height="5.22" fill="#f9f1c0"/>
<rect x="323.55" y="260.25" width="5.72" height="5.22" fill="#f8cc99"/>
<rect x="328.97" y="260.25" width="5.72" height="5.22" fill="#f9d9a4"/>
<rect x="334.38" y="260.25" width="5.72" height="5.22" fill="#f9d6a2"/>
<text x="268.4" y="264.56" font-size="5.15" text-anchor="end" fill="#333">CEP55 S225</text>
<line x1="270.7" y1="262.71" x2="274.8" y2="262.71" stroke="#222" stroke-width="0.7"/>
<rect x="274.8" y="265.17" width="5.72" height="5.22" fill="#f0eec4"/>
<rect x="280.22" y="265.17" width="5.72" height="5.22" fill="#edecc4"/>
<rect x="285.63" y="265.17" width="5.72" height="5.22" fill="#ececc4"/>
<rect x="291.05" y="265.17" width="5.72" height="5.22" fill="#f9eebb"/>
<rect x="296.47" y="265.17" width="5.72" height="5.22" fill="#f9efbe"/>
<rect x="301.88" y="265.17" width="5.72" height="5.22" fill="#f5f1c3"/>
<rect x="307.3" y="265.17" width="5.72" height="5.22" fill="#f2efc4"/>
<rect x="312.72" y="265.17" width="5.72" height="5.22" fill="#f9f3c3"/>
<rect x="318.13" y="265.17" width="5.72" height="5.22" fill="#f9edbb"/>
<rect x="323.55" y="265.17" width="5.72" height="5.22" fill="#f9f3c3"/>
<rect x="328.97" y="265.17" width="5.72" height="5.22" fill="#faebb7"/>
<rect x="334.38" y="265.17" width="5.72" height="5.22" fill="#f4f0c3"/>
<text x="268.4" y="269.48" font-size="5.15" text-anchor="end" fill="#333">ARID1A S1242</text>
<line x1="270.7" y1="267.63" x2="274.8" y2="267.63" stroke="#222" stroke-width="0.7"/>
<rect x="274.8" y="270.08" width="5.72" height="5.22" fill="#f9f2c2"/>
<rect x="280.22" y="270.08" width="5.72" height="5.22" fill="#eaeac5"/>
<rect x="285.63" y="270.08" width="5.72" height="5.22" fill="#f5f1c3"/>
<rect x="291.05" y="270.08" width="5.72" height="5.22" fill="#f3b387"/>
<rect x="296.47" y="270.08" width="5.72" height="5.22" fill="#f8cd9a"/>
<rect x="301.88" y="270.08" width="5.72" height="5.22" fill="#f09d78"/>
<rect x="307.3" y="270.08" width="5.72" height="5.22" fill="#f9f3c3"/>
<rect x="312.72" y="270.08" width="5.72" height="5.22" fill="#f9ecb9"/>
<rect x="318.13" y="270.08" width="5.72" height="5.22" fill="#f9f0be"/>
<rect x="323.55" y="270.08" width="5.72" height="5.22" fill="#f5be8f"/>
<rect x="328.97" y="270.08" width="5.72" height="5.22" fill="#f7cb98"/>
<rect x="334.38" y="270.08" width="5.72" height="5.22" fill="#f5ba8c"/>
<text x="268.4" y="274.4" font-size="5.15" text-anchor="end" fill="#333">GTF2B S70</text>
<line x1="270.7" y1="272.54" x2="274.8" y2="272.54" stroke="#222" stroke-width="0.7"/>
<rect x="274.8" y="29.2" width="65" height="245.8" fill="none" stroke="#2a2a2a" stroke-width="0.9"/>
<rect x="274.8" y="23.4" width="16.45" height="4.9" fill="#c8102e"/>
<rect x="291.05" y="23.4" width="16.45" height="4.9" fill="#1d4a87"/>
<rect x="307.3" y="23.4" width="16.45" height="4.9" fill="#8c84c6"/>
<rect x="323.55" y="23.4" width="16.45" height="4.9" fill="#c9c6d6"/>
<rect x="400" y="29.2" width="5.7" height="5.22" fill="#f6f2c3"/>
<rect x="405.4" y="29.2" width="5.7" height="5.22" fill="#f9f3c3"/>
<rect x="410.8" y="29.2" width="5.7" height="5.22" fill="#ecebc4"/>
<rect x="416.2" y="29.2" width="5.7" height="5.22" fill="#faebb7"/>
<rect x="421.6" y="29.2" width="5.7" height="5.22" fill="#eeedc4"/>
<rect x="427" y="29.2" width="5.7" height="5.22" fill="#f4f0c4"/>
<rect x="432.4" y="29.2" width="5.7" height="5.22" fill="#e9eac5"/>
<rect x="437.8" y="29.2" width="5.7" height="5.22" fill="#dfe3c5"/>
<rect x="443.2" y="29.2" width="5.7" height="5.22" fill="#e0e4c5"/>
<rect x="448.6" y="29.2" width="5.7" height="5.22" fill="#f9eebc"/>
<rect x="454" y="29.2" width="5.7" height="5.22" fill="#fae7b2"/>
<rect x="459.4" y="29.2" width="5.7" height="5.22" fill="#f9dca6"/>
<text x="394" y="33.51" font-size="5.15" text-anchor="end" fill="#333">HELB S1048</text>
<line x1="396.3" y1="31.66" x2="400" y2="31.66" stroke="#222" stroke-width="0.7"/>
<rect x="400" y="34.12" width="5.7" height="5.22" fill="#f9daa5"/>
<rect x="405.4" y="34.12" width="5.7" height="5.22" fill="#eeedc4"/>
<rect x="410.8" y="34.12" width="5.7" height="5.22" fill="#f8f3c3"/>
<rect x="416.2" y="34.12" width="5.7" height="5.22" fill="#b3c4c8"/>
<rect x="421.6" y="34.12" width="5.7" height="5.22" fill="#b5c6c7"/>
<rect x="427" y="34.12" width="5.7" height="5.22" fill="#bac9c7"/>
<rect x="432.4" y="34.12" width="5.7" height="5.22" fill="#c2cec5"/>
<rect x="437.8" y="34.12" width="5.7" height="5.22" fill="#c5d1c5"/>
<rect x="443.2" y="34.12" width="5.7" height="5.22" fill="#c1cec5"/>
<rect x="448.6" y="34.12" width="5.7" height="5.22" fill="#f8f2c3"/>
<rect x="454" y="34.12" width="5.7" height="5.22" fill="#f9f2c1"/>
<rect x="459.4" y="34.12" width="5.7" height="5.22" fill="#f3f0c4"/>
<text x="394" y="38.43" font-size="5.15" text-anchor="end" fill="#333">DTX3L S221</text>
<line x1="396.3" y1="36.57" x2="400" y2="36.57" stroke="#222" stroke-width="0.7"/>
<rect x="400" y="39.03" width="5.7" height="5.22" fill="#f3f0c4"/>
<rect x="405.4" y="39.03" width="5.7" height="5.22" fill="#f4f0c4"/>
<rect x="410.8" y="39.03" width="5.7" height="5.22" fill="#fadfa9"/>
<rect x="416.2" y="39.03" width="5.7" height="5.22" fill="#cad4c4"/>
<rect x="421.6" y="39.03" width="5.7" height="5.22" fill="#c9d4c4"/>
<rect x="427" y="39.03" width="5.7" height="5.22" fill="#d0d8c4"/>
<rect x="432.4" y="39.03" width="5.7" height="5.22" fill="#c9d3c4"/>
<rect x="437.8" y="39.03" width="5.7" height="5.22" fill="#d6ddc4"/>
<rect x="443.2" y="39.03" width="5.7" height="5.22" fill="#c0cdc6"/>
<rect x="448.6" y="39.03" width="5.7" height="5.22" fill="#f9f2c2"/>
<rect x="454" y="39.03" width="5.7" height="5.22" fill="#f9f1c0"/>
<rect x="459.4" y="39.03" width="5.7" height="5.22" fill="#f9ecb9"/>
<text x="394" y="43.34" font-size="5.15" text-anchor="end" fill="#333">RAD51AP1 S296</text>
<line x1="396.3" y1="41.49" x2="400" y2="41.49" stroke="#222" stroke-width="0.7"/>
<rect x="400" y="43.95" width="5.7" height="5.22" fill="#f8f3c3"/>
<rect x="405.4" y="43.95" width="5.7" height="5.22" fill="#f0eec4"/>
<rect x="410.8" y="43.95" width="5.7" height="5.22" fill="#f9daa5"/>
<rect x="416.2" y="43.95" width="5.7" height="5.22" fill="#e9795d"/>
<rect x="421.6" y="43.95" width="5.7" height="5.22" fill="#f8d39f"/>
<rect x="427" y="43.95" width="5.7" height="5.22" fill="#ec8768"/>
<rect x="432.4" y="43.95" width="5.7" height="5.22" fill="#eeecc4"/>
<rect x="437.8" y="43.95" width="5.7" height="5.22" fill="#faebb7"/>
<rect x="443.2" y="43.95" width="5.7" height="5.22" fill="#f9ecb9"/>
<rect x="448.6" y="43.95" width="5.7" height="5.22" fill="#f7ca97"/>
<rect x="454" y="43.95" width="5.7" height="5.22" fill="#f6c191"/>
<rect x="459.4" y="43.95" width="5.7" height="5.22" fill="#f7c795"/>
<text x="394" y="48.26" font-size="5.15" text-anchor="end" fill="#333">MDC1 T157</text>
<line x1="396.3" y1="46.41" x2="400" y2="46.41" stroke="#222" stroke-width="0.7"/>
<rect x="400" y="48.86" width="5.7" height="5.22" fill="#f4f0c4"/>
<rect x="405.4" y="48.86" width="5.7" height="5.22" fill="#f9f3c2"/>
<rect x="410.8" y="48.86" width="5.7" height="5.22" fill="#f9eebc"/>
<rect x="416.2" y="48.86" width="5.7" height="5.22" fill="#f7f2c3"/>
<rect x="421.6" y="48.86" width="5.7" height="5.22" fill="#f7f2c3"/>
<rect x="427" y="48.86" width="5.7" height="5.22" fill="#f9f3c3"/>
<rect x="432.4" y="48.86" width="5.7" height="5.22" fill="#f9f1c0"/>
<rect x="437.8" y="48.86" width="5.7" height="5.22" fill="#f9edba"/>
<rect x="443.2" y="48.86" width="5.7" height="5.22" fill="#f5f1c3"/>
<rect x="448.6" y="48.86" width="5.7" height="5.22" fill="#f8cd9a"/>
<rect x="454" y="48.86" width="5.7" height="5.22" fill="#f8cf9c"/>
<rect x="459.4" y="48.86" width="5.7" height="5.22" fill="#f9dfa9"/>
<text x="394" y="53.18" font-size="5.15" text-anchor="end" fill="#333">NBN S630</text>
<line x1="396.3" y1="51.32" x2="400" y2="51.32" stroke="#222" stroke-width="0.7"/>
<rect x="400" y="53.78" width="5.7" height="5.22" fill="#f9dea8"/>
<rect x="405.4" y="53.78" width="5.7" height="5.22" fill="#f4f0c3"/>
<rect x="410.8" y="53.78" width="5.7" height="5.22" fill="#f7c795"/>
<rect x="416.2" y="53.78" width="5.7" height="5.22" fill="#f9f1c1"/>
<rect x="421.6" y="53.78" width="5.7" height="5.22" fill="#edecc4"/>
<rect x="427" y="53.78" width="5.7" height="5.22" fill="#f9f3c3"/>
<rect x="432.4" y="53.78" width="5.7" height="5.22" fill="#f5f1c3"/>
<rect x="437.8" y="53.78" width="5.7" height="5.22" fill="#f0eec4"/>
<rect x="443.2" y="53.78" width="5.7" height="5.22" fill="#f9f0bf"/>
<rect x="448.6" y="53.78" width="5.7" height="5.22" fill="#f8d5a0"/>
<rect x="454" y="53.78" width="5.7" height="5.22" fill="#fadfa9"/>
<rect x="459.4" y="53.78" width="5.7" height="5.22" fill="#f8d4a0"/>
<text x="394" y="58.09" font-size="5.15" text-anchor="end" fill="#333">BRCA1 S1460</text>
<line x1="396.3" y1="56.24" x2="400" y2="56.24" stroke="#222" stroke-width="0.7"/>
<rect x="400" y="58.7" width="5.7" height="5.22" fill="#dde1c5"/>
<rect x="405.4" y="58.7" width="5.7" height="5.22" fill="#c5d1c5"/>
<rect x="410.8" y="58.7" width="5.7" height="5.22" fill="#c0cdc6"/>
<rect x="416.2" y="58.7" width="5.7" height="5.22" fill="#b2c3c8"/>
<rect x="421.6" y="58.7" width="5.7" height="5.22" fill="#9db4c8"/>
<rect x="427" y="58.7" width="5.7" height="5.22" fill="#abbfc9"/>
<rect x="432.4" y="58.7" width="5.7" height="5.22" fill="#9bb3c7"/>
<rect x="437.8" y="58.7" width="5.7" height="5.22" fill="#8ca8c6"/>
<rect x="443.2" y="58.7" width="5.7" height="5.22" fill="#96afc7"/>
<rect x="448.6" y="58.7" width="5.7" height="5.22" fill="#cad4c4"/>
<rect x="454" y="58.7" width="5.7" height="5.22" fill="#cfd7c4"/>
<rect x="459.4" y="58.7" width="5.7" height="5.22" fill="#d1d9c4"/>
<text x="394" y="63.01" font-size="5.15" text-anchor="end" fill="#333">CHD1L S888</text>
<line x1="396.3" y1="61.15" x2="400" y2="61.15" stroke="#222" stroke-width="0.7"/>
<rect x="400" y="63.61" width="5.7" height="5.22" fill="#f7f2c3"/>
<rect x="405.4" y="63.61" width="5.7" height="5.22" fill="#f1eec4"/>
<rect x="410.8" y="63.61" width="5.7" height="5.22" fill="#f9ecb9"/>
<rect x="416.2" y="63.61" width="5.7" height="5.22" fill="#f9edba"/>
<rect x="421.6" y="63.61" width="5.7" height="5.22" fill="#f6f1c3"/>
<rect x="427" y="63.61" width="5.7" height="5.22" fill="#f9f1c1"/>
<rect x="432.4" y="63.61" width="5.7" height="5.22" fill="#f9f1c0"/>
<rect x="437.8" y="63.61" width="5.7" height="5.22" fill="#f9f0bf"/>
<rect x="443.2" y="63.61" width="5.7" height="5.22" fill="#f9f2c2"/>
<rect x="448.6" y="63.61" width="5.7" height="5.22" fill="#f8cf9c"/>
<rect x="454" y="63.61" width="5.7" height="5.22" fill="#fae6b0"/>
<rect x="459.4" y="63.61" width="5.7" height="5.22" fill="#f8d29e"/>
<text x="394" y="67.92" font-size="5.15" text-anchor="end" fill="#333">EXO1 S746</text>
<line x1="396.3" y1="66.07" x2="400" y2="66.07" stroke="#222" stroke-width="0.7"/>
<rect x="400" y="68.53" width="5.7" height="5.22" fill="#f9f1c0"/>
<rect x="405.4" y="68.53" width="5.7" height="5.22" fill="#f8f2c3"/>
<rect x="410.8" y="68.53" width="5.7" height="5.22" fill="#f9edbb"/>
<rect x="416.2" y="68.53" width="5.7" height="5.22" fill="#fae3ac"/>
<rect x="421.6" y="68.53" width="5.7" height="5.22" fill="#f7c896"/>
<rect x="427" y="68.53" width="5.7" height="5.22" fill="#f8f2c3"/>
<rect x="432.4" y="68.53" width="5.7" height="5.22" fill="#f2efc4"/>
<rect x="437.8" y="68.53" width="5.7" height="5.22" fill="#f9f1c0"/>
<rect x="443.2" y="68.53" width="5.7" height="5.22" fill="#f7f2c3"/>
<rect x="448.6" y="68.53" width="5.7" height="5.22" fill="#f8d09c"/>
<rect x="454" y="68.53" width="5.7" height="5.22" fill="#f9d6a1"/>
<rect x="459.4" y="68.53" width="5.7" height="5.22" fill="#fae1aa"/>
<text x="394" y="72.84" font-size="5.15" text-anchor="end" fill="#333">UPF1 S218</text>
<line x1="396.3" y1="70.99" x2="400" y2="70.99" stroke="#222" stroke-width="0.7"/>
<rect x="400" y="73.44" width="5.7" height="5.22" fill="#d4dbc4"/>
<rect x="405.4" y="73.44" width="5.7" height="5.22" fill="#d5dcc4"/>
<rect x="410.8" y="73.44" width="5.7" height="5.22" fill="#d6ddc4"/>
<rect x="416.2" y="73.44" width="5.7" height="5.22" fill="#e3e6c5"/>
<rect x="421.6" y="73.44" width="5.7" height="5.22" fill="#e1e4c5"/>
<rect x="427" y="73.44" width="5.7" height="5.22" fill="#e3e6c5"/>
<rect x="432.4" y="73.44" width="5.7" height="5.22" fill="#f9f1c1"/>
<rect x="437.8" y="73.44" width="5.7" height="5.22" fill="#f9f2c2"/>
<rect x="443.2" y="73.44" width="5.7" height="5.22" fill="#f9f3c3"/>
<rect x="448.6" y="73.44" width="5.7" height="5.22" fill="#f09f7a"/>
<rect x="454" y="73.44" width="5.7" height="5.22" fill="#e76e56"/>
<rect x="459.4" y="73.44" width="5.7" height="5.22" fill="#f1a67e"/>
<text x="394" y="77.76" font-size="5.15" text-anchor="end" fill="#333">ERCC5 S1032</text>
<line x1="396.3" y1="75.9" x2="400" y2="75.9" stroke="#222" stroke-width="0.7"/>
<rect x="400" y="78.36" width="5.7" height="5.22" fill="#f5b98c"/>
<rect x="405.4" y="78.36" width="5.7" height="5.22" fill="#f2ac82"/>
<rect x="410.8" y="78.36" width="5.7" height="5.22" fill="#f4b387"/>
<rect x="416.2" y="78.36" width="5.7" height="5.22" fill="#f9f1c0"/>
<rect x="421.6" y="78.36" width="5.7" height="5.22" fill="#f9efbd"/>
<rect x="427" y="78.36" width="5.7" height="5.22" fill="#f9edba"/>
<rect x="432.4" y="78.36" width="5.7" height="5.22" fill="#f9efbe"/>
<rect x="437.8" y="78.36" width="5.7" height="5.22" fill="#f3f0c4"/>
<rect x="443.2" y="78.36" width="5.7" height="5.22" fill="#f9eebb"/>
<rect x="448.6" y="78.36" width="5.7" height="5.22" fill="#f8d5a0"/>
<rect x="454" y="78.36" width="5.7" height="5.22" fill="#f7c896"/>
<rect x="459.4" y="78.36" width="5.7" height="5.22" fill="#f7cb98"/>
<text x="394" y="82.67" font-size="5.15" text-anchor="end" fill="#333">ESCO2 S323</text>
<line x1="396.3" y1="80.82" x2="400" y2="80.82" stroke="#222" stroke-width="0.7"/>
<rect x="400" y="83.28" width="5.7" height="5.22" fill="#f3efc4"/>
<rect x="405.4" y="83.28" width="5.7" height="5.22" fill="#f9f0bf"/>
<rect x="410.8" y="83.28" width="5.7" height="5.22" fill="#f8f2c3"/>
<rect x="416.2" y="83.28" width="5.7" height="5.22" fill="#f3b286"/>
<rect x="421.6" y="83.28" width="5.7" height="5.22" fill="#f7c996"/>
<rect x="427" y="83.28" width="5.7" height="5.22" fill="#f4b388"/>
<rect x="432.4" y="83.28" width="5.7" height="5.22" fill="#f9f1bf"/>
<rect x="437.8" y="83.28" width="5.7" height="5.22" fill="#f9f2c2"/>
<rect x="443.2" y="83.28" width="5.7" height="5.22" fill="#f0eec4"/>
<rect x="448.6" y="83.28" width="5.7" height="5.22" fill="#f1a67f"/>
<rect x="454" y="83.28" width="5.7" height="5.22" fill="#f3b287"/>
<rect x="459.4" y="83.28" width="5.7" height="5.22" fill="#f4b78a"/>
<text x="394" y="87.59" font-size="5.15" text-anchor="end" fill="#333">CHEK1 S317</text>
<line x1="396.3" y1="85.73" x2="400" y2="85.73" stroke="#222" stroke-width="0.7"/>
<rect x="400" y="88.19" width="5.7" height="5.22" fill="#fae3ac"/>
<rect x="405.4" y="88.19" width="5.7" height="5.22" fill="#f9eebc"/>
<rect x="410.8" y="88.19" width="5.7" height="5.22" fill="#faeab6"/>
<rect x="416.2" y="88.19" width="5.7" height="5.22" fill="#dde1c5"/>
<rect x="421.6" y="88.19" width="5.7" height="5.22" fill="#e3e6c5"/>
<rect x="427" y="88.19" width="5.7" height="5.22" fill="#e3e6c5"/>
<rect x="432.4" y="88.19" width="5.7" height="5.22" fill="#e2e5c5"/>
<rect x="437.8" y="88.19" width="5.7" height="5.22" fill="#dfe3c5"/>
<rect x="443.2" y="88.19" width="5.7" height="5.22" fill="#dee2c5"/>
<rect x="448.6" y="88.19" width="5.7" height="5.22" fill="#ececc4"/>
<rect x="454" y="88.19" width="5.7" height="5.22" fill="#f9f0bf"/>
<rect x="459.4" y="88.19" width="5.7" height="5.22" fill="#f9f1c0"/>
<text x="394" y="92.5" font-size="5.15" text-anchor="end" fill="#333">TICRR S1001</text>
<line x1="396.3" y1="90.65" x2="400" y2="90.65" stroke="#222" stroke-width="0.7"/>
<rect x="400" y="93.11" width="5.7" height="5.22" fill="#89a5c6"/>
<rect x="405.4" y="93.11" width="5.7" height="5.22" fill="#81a0c5"/>
<rect x="410.8" y="93.11" width="5.7" height="5.22" fill="#8ca8c6"/>
<rect x="416.2" y="93.11" width="5.7" height="5.22" fill="#3960a5"/>
<rect x="421.6" y="93.11" width="5.7" height="5.22" fill="#385ea3"/>
<rect x="427" y="93.11" width="5.7" height="5.22" fill="#7a9bc4"/>
<rect x="432.4" y="93.11" width="5.7" height="5.22" fill="#3960a5"/>
<rect x="437.8" y="93.11" width="5.7" height="5.22" fill="#385ea3"/>
<rect x="443.2" y="93.11" width="5.7" height="5.22" fill="#3b62a6"/>
<rect x="448.6" y="93.11" width="5.7" height="5.22" fill="#799ac4"/>
<rect x="454" y="93.11" width="5.7" height="5.22" fill="#7698c4"/>
<rect x="459.4" y="93.11" width="5.7" height="5.22" fill="#7899c4"/>
<text x="394" y="97.42" font-size="5.15" text-anchor="end" fill="#333">ERCC6 S1348</text>
<line x1="396.3" y1="95.57" x2="400" y2="95.57" stroke="#222" stroke-width="0.7"/>
<rect x="400" y="98.02" width="5.7" height="5.22" fill="#fae1ab"/>
<rect x="405.4" y="98.02" width="5.7" height="5.22" fill="#f6bf90"/>
<rect x="410.8" y="98.02" width="5.7" height="5.22" fill="#f9efbd"/>
<rect x="416.2" y="98.02" width="5.7" height="5.22" fill="#f9eebb"/>
<rect x="421.6" y="98.02" width="5.7" height="5.22" fill="#fae1ab"/>
<rect x="427" y="98.02" width="5.7" height="5.22" fill="#f9dea8"/>
<rect x="432.4" y="98.02" width="5.7" height="5.22" fill="#f7f2c3"/>
<rect x="437.8" y="98.02" width="5.7" height="5.22" fill="#f4f0c4"/>
<rect x="443.2" y="98.02" width="5.7" height="5.22" fill="#f9f1c0"/>
<rect x="448.6" y="98.02" width="5.7" height="5.22" fill="#f7f2c3"/>
<rect x="454" y="98.02" width="5.7" height="5.22" fill="#f5f1c3"/>
<rect x="459.4" y="98.02" width="5.7" height="5.22" fill="#f9edbb"/>
<text x="394" y="102.34" font-size="5.15" text-anchor="end" fill="#333">CHAF1B S473</text>
<line x1="396.3" y1="100.48" x2="400" y2="100.48" stroke="#222" stroke-width="0.7"/>
<rect x="400" y="102.94" width="5.7" height="5.22" fill="#f9edba"/>
<rect x="405.4" y="102.94" width="5.7" height="5.22" fill="#f9f2c1"/>
<rect x="410.8" y="102.94" width="5.7" height="5.22" fill="#f6f1c3"/>
<rect x="416.2" y="102.94" width="5.7" height="5.22" fill="#f9d6a2"/>
<rect x="421.6" y="102.94" width="5.7" height="5.22" fill="#f8d4a0"/>
<rect x="427" y="102.94" width="5.7" height="5.22" fill="#f4b589"/>
<rect x="432.4" y="102.94" width="5.7" height="5.22" fill="#dee2c5"/>
<rect x="437.8" y="102.94" width="5.7" height="5.22" fill="#e4e7c5"/>
<rect x="443.2" y="102.94" width="5.7" height="5.22" fill="#e8e9c5"/>
<rect x="448.6" y="102.94" width="5.7" height="5.22" fill="#f8cc99"/>
<rect x="454" y="102.94" width="5.7" height="5.22" fill="#f7c997"/>
<rect x="459.4" y="102.94" width="5.7" height="5.22" fill="#f7cb98"/>
<text x="394" y="107.25" font-size="5.15" text-anchor="end" fill="#333">CEP164 S1069</text>
<line x1="396.3" y1="105.4" x2="400" y2="105.4" stroke="#222" stroke-width="0.7"/>
<rect x="400" y="107.86" width="5.7" height="5.22" fill="#d2d9c4"/>
<rect x="405.4" y="107.86" width="5.7" height="5.22" fill="#d4dbc4"/>
<rect x="410.8" y="107.86" width="5.7" height="5.22" fill="#d1d9c4"/>
<rect x="416.2" y="107.86" width="5.7" height="5.22" fill="#bdcbc6"/>
<rect x="421.6" y="107.86" width="5.7" height="5.22" fill="#b6c7c7"/>
<rect x="427" y="107.86" width="5.7" height="5.22" fill="#b8c8c7"/>
<rect x="432.4" y="107.86" width="5.7" height="5.22" fill="#bfccc6"/>
<rect x="437.8" y="107.86" width="5.7" height="5.22" fill="#b9c9c7"/>
<rect x="443.2" y="107.86" width="5.7" height="5.22" fill="#b6c6c7"/>
<rect x="448.6" y="107.86" width="5.7" height="5.22" fill="#e4e6c5"/>
<rect x="454" y="107.86" width="5.7" height="5.22" fill="#e5e7c5"/>
<rect x="459.4" y="107.86" width="5.7" height="5.22" fill="#efedc4"/>
<text x="394" y="112.17" font-size="5.15" text-anchor="end" fill="#333">BCL7A S154</text>
<line x1="396.3" y1="110.31" x2="400" y2="110.31" stroke="#222" stroke-width="0.7"/>
<rect x="400" y="112.77" width="5.7" height="5.22" fill="#f9efbd"/>
<rect x="405.4" y="112.77" width="5.7" height="5.22" fill="#f2efc4"/>
<rect x="410.8" y="112.77" width="5.7" height="5.22" fill="#f9f0be"/>
<rect x="416.2" y="112.77" width="5.7" height="5.22" fill="#f7cb98"/>
<rect x="421.6" y="112.77" width="5.7" height="5.22" fill="#f9d9a4"/>
<rect x="427" y="112.77" width="5.7" height="5.22" fill="#f8d29e"/>
<rect x="432.4" y="112.77" width="5.7" height="5.22" fill="#eeecc4"/>
<rect x="437.8" y="112.77" width="5.7" height="5.22" fill="#f9f1c1"/>
<rect x="443.2" y="112.77" width="5.7" height="5.22" fill="#f7f2c3"/>
<rect x="448.6" y="112.77" width="5.7" height="5.22" fill="#f5bc8e"/>
<rect x="454" y="112.77" width="5.7" height="5.22" fill="#f4b689"/>
<rect x="459.4" y="112.77" width="5.7" height="5.22" fill="#f3ad83"/>
<text x="394" y="117.08" font-size="5.15" text-anchor="end" fill="#333">DOT1L S351</text>
<line x1="396.3" y1="115.23" x2="400" y2="115.23" stroke="#222" stroke-width="0.7"/>
<rect x="400" y="117.69" width="5.7" height="5.22" fill="#f6f1c3"/>
<rect x="405.4" y="117.69" width="5.7" height="5.22" fill="#f9f2c1"/>
<rect x="410.8" y="117.69" width="5.7" height="5.22" fill="#f9f0bf"/>
<rect x="416.2" y="117.69" width="5.7" height="5.22" fill="#f4f0c4"/>
<rect x="421.6" y="117.69" width="5.7" height="5.22" fill="#f7f2c3"/>
<rect x="427" y="117.69" width="5.7" height="5.22" fill="#fae9b4"/>
<rect x="432.4" y="117.69" width="5.7" height="5.22" fill="#f9f2c2"/>
<rect x="437.8" y="117.69" width="5.7" height="5.22" fill="#f4f0c4"/>
<rect x="443.2" y="117.69" width="5.7" height="5.22" fill="#f9f3c3"/>
<rect x="448.6" y="117.69" width="5.7" height="5.22" fill="#fae4ae"/>
<rect x="454" y="117.69" width="5.7" height="5.22" fill="#f8d29e"/>
<rect x="459.4" y="117.69" width="5.7" height="5.22" fill="#f9d7a3"/>
<text x="394" y="122" font-size="5.15" text-anchor="end" fill="#333">MCM3 S734</text>
<line x1="396.3" y1="120.15" x2="400" y2="120.15" stroke="#222" stroke-width="0.7"/>
<rect x="400" y="122.6" width="5.7" height="5.22" fill="#edecc4"/>
<rect x="405.4" y="122.6" width="5.7" height="5.22" fill="#ebebc4"/>
<rect x="410.8" y="122.6" width="5.7" height="5.22" fill="#e8e9c5"/>
<rect x="416.2" y="122.6" width="5.7" height="5.22" fill="#ecebc4"/>
<rect x="421.6" y="122.6" width="5.7" height="5.22" fill="#e7e9c5"/>
<rect x="427" y="122.6" width="5.7" height="5.22" fill="#e2e5c5"/>
<rect x="432.4" y="122.6" width="5.7" height="5.22" fill="#cbd5c4"/>
<rect x="437.8" y="122.6" width="5.7" height="5.22" fill="#ced7c4"/>
<rect x="443.2" y="122.6" width="5.7" height="5.22" fill="#c5d0c5"/>
<rect x="448.6" y="122.6" width="5.7" height="5.22" fill="#faeab6"/>
<rect x="454" y="122.6" width="5.7" height="5.22" fill="#efedc4"/>
<rect x="459.4" y="122.6" width="5.7" height="5.22" fill="#f9f3c3"/>
<text x="394" y="126.92" font-size="5.15" text-anchor="end" fill="#333">PPP4R2 S226</text>
<line x1="396.3" y1="125.06" x2="400" y2="125.06" stroke="#222" stroke-width="0.7"/>
<rect x="400" y="127.52" width="5.7" height="5.22" fill="#f1eec4"/>
<rect x="405.4" y="127.52" width="5.7" height="5.22" fill="#edecc4"/>
<rect x="410.8" y="127.52" width="5.7" height="5.22" fill="#f8f3c3"/>
<rect x="416.2" y="127.52" width="5.7" height="5.22" fill="#f7f2c3"/>
<rect x="421.6" y="127.52" width="5.7" height="5.22" fill="#f8f2c3"/>
<rect x="427" y="127.52" width="5.7" height="5.22" fill="#f9f0bf"/>
<rect x="432.4" y="127.52" width="5.7" height="5.22" fill="#f5f1c3"/>
<rect x="437.8" y="127.52" width="5.7" height="5.22" fill="#f9f1c0"/>
<rect x="443.2" y="127.52" width="5.7" height="5.22" fill="#f9f1bf"/>
<rect x="448.6" y="127.52" width="5.7" height="5.22" fill="#f6be8f"/>
<rect x="454" y="127.52" width="5.7" height="5.22" fill="#f5be8f"/>
<rect x="459.4" y="127.52" width="5.7" height="5.22" fill="#f4b68a"/>
<text x="394" y="131.83" font-size="5.15" text-anchor="end" fill="#333">RFC1 T506</text>
<line x1="396.3" y1="129.98" x2="400" y2="129.98" stroke="#222" stroke-width="0.7"/>
<rect x="400" y="132.44" width="5.7" height="5.22" fill="#f9f3c3"/>
<rect x="405.4" y="132.44" width="5.7" height="5.22" fill="#f9f2c2"/>
<rect x="410.8" y="132.44" width="5.7" height="5.22" fill="#ebebc5"/>
<rect x="416.2" y="132.44" width="5.7" height="5.22" fill="#f6f1c3"/>
<rect x="421.6" y="132.44" width="5.7" height="5.22" fill="#f7f2c3"/>
<rect x="427" y="132.44" width="5.7" height="5.22" fill="#d0d8c4"/>
<rect x="432.4" y="132.44" width="5.7" height="5.22" fill="#f9f1c1"/>
<rect x="437.8" y="132.44" width="5.7" height="5.22" fill="#faeab6"/>
<rect x="443.2" y="132.44" width="5.7" height="5.22" fill="#f9f3c2"/>
<rect x="448.6" y="132.44" width="5.7" height="5.22" fill="#f8d5a1"/>
<rect x="454" y="132.44" width="5.7" height="5.22" fill="#fae1aa"/>
<rect x="459.4" y="132.44" width="5.7" height="5.22" fill="#fae1aa"/>
<text x="394" y="136.75" font-size="5.15" text-anchor="end" fill="#333">SMG1 S3588</text>
<line x1="396.3" y1="134.89" x2="400" y2="134.89" stroke="#222" stroke-width="0.7"/>
<rect x="400" y="137.35" width="5.7" height="5.22" fill="#f6f1c3"/>
<rect x="405.4" y="137.35" width="5.7" height="5.22" fill="#f3efc4"/>
<rect x="410.8" y="137.35" width="5.7" height="5.22" fill="#f9f3c3"/>
<rect x="416.2" y="137.35" width="5.7" height="5.22" fill="#f3f0c4"/>
<rect x="421.6" y="137.35" width="5.7" height="5.22" fill="#f8f2c3"/>
<rect x="427" y="137.35" width="5.7" height="5.22" fill="#f0eec4"/>
<rect x="432.4" y="137.35" width="5.7" height="5.22" fill="#efedc4"/>
<rect x="437.8" y="137.35" width="5.7" height="5.22" fill="#f5f1c3"/>
<rect x="443.2" y="137.35" width="5.7" height="5.22" fill="#f3efc4"/>
<rect x="448.6" y="137.35" width="5.7" height="5.22" fill="#fadfa9"/>
<rect x="454" y="137.35" width="5.7" height="5.22" fill="#f9dfa9"/>
<rect x="459.4" y="137.35" width="5.7" height="5.22" fill="#f9dda7"/>
<text x="394" y="141.66" font-size="5.15" text-anchor="end" fill="#333">FANCB T555</text>
<line x1="396.3" y1="139.81" x2="400" y2="139.81" stroke="#222" stroke-width="0.7"/>
<rect x="400" y="142.27" width="5.7" height="5.22" fill="#f9eebc"/>
<rect x="405.4" y="142.27" width="5.7" height="5.22" fill="#f9ecb9"/>
<rect x="410.8" y="142.27" width="5.7" height="5.22" fill="#f9f0be"/>
<rect x="416.2" y="142.27" width="5.7" height="5.22" fill="#f7f2c3"/>
<rect x="421.6" y="142.27" width="5.7" height="5.22" fill="#f9ecb8"/>
<rect x="427" y="142.27" width="5.7" height="5.22" fill="#f0eec4"/>
<rect x="432.4" y="142.27" width="5.7" height="5.22" fill="#edecc4"/>
<rect x="437.8" y="142.27" width="5.7" height="5.22" fill="#f9f2c1"/>
<rect x="443.2" y="142.27" width="5.7" height="5.22" fill="#f9f3c3"/>
<rect x="448.6" y="142.27" width="5.7" height="5.22" fill="#f8d29e"/>
<rect x="454" y="142.27" width="5.7" height="5.22" fill="#f8d09d"/>
<rect x="459.4" y="142.27" width="5.7" height="5.22" fill="#f9dda7"/>
<text x="394" y="146.58" font-size="5.15" text-anchor="end" fill="#333">NUCKS1 S181</text>
<line x1="396.3" y1="144.73" x2="400" y2="144.73" stroke="#222" stroke-width="0.7"/>
<rect x="400" y="147.18" width="5.7" height="5.22" fill="#f2efc4"/>
<rect x="405.4" y="147.18" width="5.7" height="5.22" fill="#f9edba"/>
<rect x="410.8" y="147.18" width="5.7" height="5.22" fill="#f9eebc"/>
<rect x="416.2" y="147.18" width="5.7" height="5.22" fill="#f9d6a2"/>
<rect x="421.6" y="147.18" width="5.7" height="5.22" fill="#f6c191"/>
<rect x="427" y="147.18" width="5.7" height="5.22" fill="#f9d9a4"/>
<rect x="432.4" y="147.18" width="5.7" height="5.22" fill="#f6f1c3"/>
<rect x="437.8" y="147.18" width="5.7" height="5.22" fill="#f9f2c1"/>
<rect x="443.2" y="147.18" width="5.7" height="5.22" fill="#f2efc4"/>
<rect x="448.6" y="147.18" width="5.7" height="5.22" fill="#f8d4a0"/>
<rect x="454" y="147.18" width="5.7" height="5.22" fill="#f8d29e"/>
<rect x="459.4" y="147.18" width="5.7" height="5.22" fill="#f8d4a0"/>
<text x="394" y="151.5" font-size="5.15" text-anchor="end" fill="#333">RIF1 S1451</text>
<line x1="396.3" y1="149.64" x2="400" y2="149.64" stroke="#222" stroke-width="0.7"/>
<rect x="400" y="152.1" width="5.7" height="5.22" fill="#f8d49f"/>
<rect x="405.4" y="152.1" width="5.7" height="5.22" fill="#f9d6a1"/>
<rect x="410.8" y="152.1" width="5.7" height="5.22" fill="#fae3ac"/>
<rect x="416.2" y="152.1" width="5.7" height="5.22" fill="#f5f1c3"/>
<rect x="421.6" y="152.1" width="5.7" height="5.22" fill="#f9f2c2"/>
<rect x="427" y="152.1" width="5.7" height="5.22" fill="#f9f3c3"/>
<rect x="432.4" y="152.1" width="5.7" height="5.22" fill="#f4f0c4"/>
<rect x="437.8" y="152.1" width="5.7" height="5.22" fill="#f9f1c0"/>
<rect x="443.2" y="152.1" width="5.7" height="5.22" fill="#f9efbd"/>
<rect x="448.6" y="152.1" width="5.7" height="5.22" fill="#fadfa9"/>
<rect x="454" y="152.1" width="5.7" height="5.22" fill="#f8d4a0"/>
<rect x="459.4" y="152.1" width="5.7" height="5.22" fill="#fae6b0"/>
<text x="394" y="156.41" font-size="5.15" text-anchor="end" fill="#333">CLSPN S83</text>
<line x1="396.3" y1="154.56" x2="400" y2="154.56" stroke="#222" stroke-width="0.7"/>
<rect x="400" y="157.02" width="5.7" height="5.22" fill="#6d90c0"/>
<rect x="405.4" y="157.02" width="5.7" height="5.22" fill="#7899c4"/>
<rect x="410.8" y="157.02" width="5.7" height="5.22" fill="#7193c2"/>
<rect x="416.2" y="157.02" width="5.7" height="5.22" fill="#91acc7"/>
<rect x="421.6" y="157.02" width="5.7" height="5.22" fill="#b4c5c8"/>
<rect x="427" y="157.02" width="5.7" height="5.22" fill="#93adc7"/>
<rect x="432.4" y="157.02" width="5.7" height="5.22" fill="#597db6"/>
<rect x="437.8" y="157.02" width="5.7" height="5.22" fill="#5176b2"/>
<rect x="443.2" y="157.02" width="5.7" height="5.22" fill="#567ab4"/>
<rect x="448.6" y="157.02" width="5.7" height="5.22" fill="#94aec7"/>
<rect x="454" y="157.02" width="5.7" height="5.22" fill="#83a1c5"/>
<rect x="459.4" y="157.02" width="5.7" height="5.22" fill="#7899c4"/>
<text x="394" y="161.33" font-size="5.15" text-anchor="end" fill="#333">TRIM28 S440</text>
<line x1="396.3" y1="159.47" x2="400" y2="159.47" stroke="#222" stroke-width="0.7"/>
<rect x="400" y="161.93" width="5.7" height="5.22" fill="#f2aa81"/>
<rect x="405.4" y="161.93" width="5.7" height="5.22" fill="#f6c291"/>
<rect x="410.8" y="161.93" width="5.7" height="5.22" fill="#f5ba8c"/>
<rect x="416.2" y="161.93" width="5.7" height="5.22" fill="#e7e9c5"/>
<rect x="421.6" y="161.93" width="5.7" height="5.22" fill="#e2e5c5"/>
<rect x="427" y="161.93" width="5.7" height="5.22" fill="#efedc4"/>
<rect x="432.4" y="161.93" width="5.7" height="5.22" fill="#f9f0be"/>
<rect x="437.8" y="161.93" width="5.7" height="5.22" fill="#eeedc4"/>
<rect x="443.2" y="161.93" width="5.7" height="5.22" fill="#f9efbe"/>
<rect x="448.6" y="161.93" width="5.7" height="5.22" fill="#f8f2c3"/>
<rect x="454" y="161.93" width="5.7" height="5.22" fill="#f9eebb"/>
<rect x="459.4" y="161.93" width="5.7" height="5.22" fill="#f7f2c3"/>
<text x="394" y="166.24" font-size="5.15" text-anchor="end" fill="#333">PARP14 S431</text>
<line x1="396.3" y1="164.39" x2="400" y2="164.39" stroke="#222" stroke-width="0.7"/>
<rect x="400" y="166.85" width="5.7" height="5.22" fill="#f9efbd"/>
<rect x="405.4" y="166.85" width="5.7" height="5.22" fill="#f9f2c2"/>
<rect x="410.8" y="166.85" width="5.7" height="5.22" fill="#f9f0bf"/>
<rect x="416.2" y="166.85" width="5.7" height="5.22" fill="#f9f3c3"/>
<rect x="421.6" y="166.85" width="5.7" height="5.22" fill="#f6f2c3"/>
<rect x="427" y="166.85" width="5.7" height="5.22" fill="#f9f3c3"/>
<rect x="432.4" y="166.85" width="5.7" height="5.22" fill="#f1efc4"/>
<rect x="437.8" y="166.85" width="5.7" height="5.22" fill="#f0eec4"/>
<rect x="443.2" y="166.85" width="5.7" height="5.22" fill="#f7f2c3"/>
<rect x="448.6" y="166.85" width="5.7" height="5.22" fill="#f9f1c0"/>
<rect x="454" y="166.85" width="5.7" height="5.22" fill="#f9f0bf"/>
<rect x="459.4" y="166.85" width="5.7" height="5.22" fill="#fae9b4"/>
<text x="394" y="171.16" font-size="5.15" text-anchor="end" fill="#333">PRKDC S847</text>
<line x1="396.3" y1="169.31" x2="400" y2="169.31" stroke="#222" stroke-width="0.7"/>
<rect x="400" y="171.76" width="5.7" height="5.22" fill="#f1a37c"/>
<rect x="405.4" y="171.76" width="5.7" height="5.22" fill="#f09c77"/>
<rect x="410.8" y="171.76" width="5.7" height="5.22" fill="#f2aa81"/>
<rect x="416.2" y="171.76" width="5.7" height="5.22" fill="#f9f3c3"/>
<rect x="421.6" y="171.76" width="5.7" height="5.22" fill="#faebb7"/>
<rect x="427" y="171.76" width="5.7" height="5.22" fill="#f9f2c1"/>
<rect x="432.4" y="171.76" width="5.7" height="5.22" fill="#f9ecb9"/>
<rect x="437.8" y="171.76" width="5.7" height="5.22" fill="#f3efc4"/>
<rect x="443.2" y="171.76" width="5.7" height="5.22" fill="#f0eec4"/>
<rect x="448.6" y="171.76" width="5.7" height="5.22" fill="#f5b88b"/>
<rect x="454" y="171.76" width="5.7" height="5.22" fill="#f7c896"/>
<rect x="459.4" y="171.76" width="5.7" height="5.22" fill="#f1a27b"/>
<text x="394" y="176.08" font-size="5.15" text-anchor="end" fill="#333">TOP3A S971</text>
<line x1="396.3" y1="174.22" x2="400" y2="174.22" stroke="#222" stroke-width="0.7"/>
<rect x="400" y="176.68" width="5.7" height="5.22" fill="#f9edba"/>
<rect x="405.4" y="176.68" width="5.7" height="5.22" fill="#f1efc4"/>
<rect x="410.8" y="176.68" width="5.7" height="5.22" fill="#f8f2c3"/>
<rect x="416.2" y="176.68" width="5.7" height="5.22" fill="#f5f1c3"/>
<rect x="421.6" y="176.68" width="5.7" height="5.22" fill="#f9f1c0"/>
<rect x="427" y="176.68" width="5.7" height="5.22" fill="#f9f3c3"/>
<rect x="432.4" y="176.68" width="5.7" height="5.22" fill="#f9efbc"/>
<rect x="437.8" y="176.68" width="5.7" height="5.22" fill="#f9ecb9"/>
<rect x="443.2" y="176.68" width="5.7" height="5.22" fill="#f8f2c3"/>
<rect x="448.6" y="176.68" width="5.7" height="5.22" fill="#fae3ad"/>
<rect x="454" y="176.68" width="5.7" height="5.22" fill="#f9d6a1"/>
<rect x="459.4" y="176.68" width="5.7" height="5.22" fill="#f9dca6"/>
<text x="394" y="180.99" font-size="5.15" text-anchor="end" fill="#333">CUL4B S53</text>
<line x1="396.3" y1="179.14" x2="400" y2="179.14" stroke="#222" stroke-width="0.7"/>
<rect x="400" y="181.6" width="5.7" height="5.22" fill="#f8d19e"/>
<rect x="405.4" y="181.6" width="5.7" height="5.22" fill="#f9dca6"/>
<rect x="410.8" y="181.6" width="5.7" height="5.22" fill="#f9f2c2"/>
<rect x="416.2" y="181.6" width="5.7" height="5.22" fill="#f9f1c1"/>
<rect x="421.6" y="181.6" width="5.7" height="5.22" fill="#f8f2c3"/>
<rect x="427" y="181.6" width="5.7" height="5.22" fill="#f6f1c3"/>
<rect x="432.4" y="181.6" width="5.7" height="5.22" fill="#f9f0be"/>
<rect x="437.8" y="181.6" width="5.7" height="5.22" fill="#fae7b1"/>
<rect x="443.2" y="181.6" width="5.7" height="5.22" fill="#f9efbd"/>
<rect x="448.6" y="181.6" width="5.7" height="5.22" fill="#f9dba6"/>
<rect x="454" y="181.6" width="5.7" height="5.22" fill="#f8d5a0"/>
<rect x="459.4" y="181.6" width="5.7" height="5.22" fill="#f9d9a4"/>
<text x="394" y="185.91" font-size="5.15" text-anchor="end" fill="#333">BRIP1 S990</text>
<line x1="396.3" y1="184.05" x2="400" y2="184.05" stroke="#222" stroke-width="0.7"/>
<rect x="400" y="186.51" width="5.7" height="5.22" fill="#f1eec4"/>
<rect x="405.4" y="186.51" width="5.7" height="5.22" fill="#f9f2c1"/>
<rect x="410.8" y="186.51" width="5.7" height="5.22" fill="#f9ecb8"/>
<rect x="416.2" y="186.51" width="5.7" height="5.22" fill="#dde2c5"/>
<rect x="421.6" y="186.51" width="5.7" height="5.22" fill="#d9dec5"/>
<rect x="427" y="186.51" width="5.7" height="5.22" fill="#e2e5c5"/>
<rect x="432.4" y="186.51" width="5.7" height="5.22" fill="#eaeac5"/>
<rect x="437.8" y="186.51" width="5.7" height="5.22" fill="#e4e7c5"/>
<rect x="443.2" y="186.51" width="5.7" height="5.22" fill="#e5e7c5"/>
<rect x="448.6" y="186.51" width="5.7" height="5.22" fill="#fae8b3"/>
<rect x="454" y="186.51" width="5.7" height="5.22" fill="#faebb8"/>
<rect x="459.4" y="186.51" width="5.7" height="5.22" fill="#f9f0be"/>
<text x="394" y="190.82" font-size="5.15" text-anchor="end" fill="#333">LIG1 T195</text>
<line x1="396.3" y1="188.97" x2="400" y2="188.97" stroke="#222" stroke-width="0.7"/>
<rect x="400" y="191.43" width="5.7" height="5.22" fill="#f8d29e"/>
<rect x="405.4" y="191.43" width="5.7" height="5.22" fill="#f8d09c"/>
<rect x="410.8" y="191.43" width="5.7" height="5.22" fill="#f8d19e"/>
<rect x="416.2" y="191.43" width="5.7" height="5.22" fill="#f9efbd"/>
<rect x="421.6" y="191.43" width="5.7" height="5.22" fill="#f4f0c4"/>
<rect x="427" y="191.43" width="5.7" height="5.22" fill="#f9ecb8"/>
<rect x="432.4" y="191.43" width="5.7" height="5.22" fill="#f9f2c2"/>
<rect x="437.8" y="191.43" width="5.7" height="5.22" fill="#f7f2c3"/>
<rect x="443.2" y="191.43" width="5.7" height="5.22" fill="#f9efbd"/>
<rect x="448.6" y="191.43" width="5.7" height="5.22" fill="#f9d7a2"/>
<rect x="454" y="191.43" width="5.7" height="5.22" fill="#f8cd9a"/>
<rect x="459.4" y="191.43" width="5.7" height="5.22" fill="#f8cc99"/>
<text x="394" y="195.74" font-size="5.15" text-anchor="end" fill="#333">MSH6 S309</text>
<line x1="396.3" y1="193.89" x2="400" y2="193.89" stroke="#222" stroke-width="0.7"/>
<rect x="400" y="196.34" width="5.7" height="5.22" fill="#f8d4a0"/>
<rect x="405.4" y="196.34" width="5.7" height="5.22" fill="#f9dea8"/>
<rect x="410.8" y="196.34" width="5.7" height="5.22" fill="#f8cf9c"/>
<rect x="416.2" y="196.34" width="5.7" height="5.22" fill="#f6f1c3"/>
<rect x="421.6" y="196.34" width="5.7" height="5.22" fill="#f9f0bf"/>
<rect x="427" y="196.34" width="5.7" height="5.22" fill="#f5f1c3"/>
<rect x="432.4" y="196.34" width="5.7" height="5.22" fill="#f9edbb"/>
<rect x="437.8" y="196.34" width="5.7" height="5.22" fill="#f7f2c3"/>
<rect x="443.2" y="196.34" width="5.7" height="5.22" fill="#f9f1bf"/>
<rect x="448.6" y="196.34" width="5.7" height="5.22" fill="#f6f1c3"/>
<rect x="454" y="196.34" width="5.7" height="5.22" fill="#f2efc4"/>
<rect x="459.4" y="196.34" width="5.7" height="5.22" fill="#f8f2c3"/>
<text x="394" y="200.66" font-size="5.15" text-anchor="end" fill="#333">RADX S39</text>
<line x1="396.3" y1="198.8" x2="400" y2="198.8" stroke="#222" stroke-width="0.7"/>
<rect x="400" y="201.26" width="5.7" height="5.22" fill="#d7ddc4"/>
<rect x="405.4" y="201.26" width="5.7" height="5.22" fill="#cbd5c4"/>
<rect x="410.8" y="201.26" width="5.7" height="5.22" fill="#c9d3c4"/>
<rect x="416.2" y="201.26" width="5.7" height="5.22" fill="#f7f2c3"/>
<rect x="421.6" y="201.26" width="5.7" height="5.22" fill="#f9efbe"/>
<rect x="427" y="201.26" width="5.7" height="5.22" fill="#f3efc4"/>
<rect x="432.4" y="201.26" width="5.7" height="5.22" fill="#e3e6c5"/>
<rect x="437.8" y="201.26" width="5.7" height="5.22" fill="#e7e9c5"/>
<rect x="443.2" y="201.26" width="5.7" height="5.22" fill="#e4e7c5"/>
<rect x="448.6" y="201.26" width="5.7" height="5.22" fill="#f9f2c1"/>
<rect x="454" y="201.26" width="5.7" height="5.22" fill="#f9edbb"/>
<rect x="459.4" y="201.26" width="5.7" height="5.22" fill="#f9f3c3"/>
<text x="394" y="205.57" font-size="5.15" text-anchor="end" fill="#333">MCM4 S145</text>
<line x1="396.3" y1="203.72" x2="400" y2="203.72" stroke="#222" stroke-width="0.7"/>
<rect x="400" y="206.18" width="5.7" height="5.22" fill="#f9f3c3"/>
<rect x="405.4" y="206.18" width="5.7" height="5.22" fill="#f9efbe"/>
<rect x="410.8" y="206.18" width="5.7" height="5.22" fill="#f9f3c3"/>
<rect x="416.2" y="206.18" width="5.7" height="5.22" fill="#e1e4c5"/>
<rect x="421.6" y="206.18" width="5.7" height="5.22" fill="#e0e4c5"/>
<rect x="427" y="206.18" width="5.7" height="5.22" fill="#e0e4c5"/>
<rect x="432.4" y="206.18" width="5.7" height="5.22" fill="#f2efc4"/>
<rect x="437.8" y="206.18" width="5.7" height="5.22" fill="#e6e8c5"/>
<rect x="443.2" y="206.18" width="5.7" height="5.22" fill="#eaeac5"/>
<rect x="448.6" y="206.18" width="5.7" height="5.22" fill="#f9f0be"/>
<rect x="454" y="206.18" width="5.7" height="5.22" fill="#f3f0c4"/>
<rect x="459.4" y="206.18" width="5.7" height="5.22" fill="#f9f0bf"/>
<text x="394" y="210.49" font-size="5.15" text-anchor="end" fill="#333">DMAP1 S41</text>
<line x1="396.3" y1="208.63" x2="400" y2="208.63" stroke="#222" stroke-width="0.7"/>
<rect x="400" y="211.09" width="5.7" height="5.22" fill="#f6f1c3"/>
<rect x="405.4" y="211.09" width="5.7" height="5.22" fill="#ececc4"/>
<rect x="410.8" y="211.09" width="5.7" height="5.22" fill="#f8f2c3"/>
<rect x="416.2" y="211.09" width="5.7" height="5.22" fill="#bbcac6"/>
<rect x="421.6" y="211.09" width="5.7" height="5.22" fill="#beccc6"/>
<rect x="427" y="211.09" width="5.7" height="5.22" fill="#c1cec5"/>
<rect x="432.4" y="211.09" width="5.7" height="5.22" fill="#fae8b3"/>
<rect x="437.8" y="211.09" width="5.7" height="5.22" fill="#f6f1c3"/>
<rect x="443.2" y="211.09" width="5.7" height="5.22" fill="#f8f2c3"/>
<rect x="448.6" y="211.09" width="5.7" height="5.22" fill="#f9f1c0"/>
<rect x="454" y="211.09" width="5.7" height="5.22" fill="#f9f2c2"/>
<rect x="459.4" y="211.09" width="5.7" height="5.22" fill="#f8f2c3"/>
<text x="394" y="215.4" font-size="5.15" text-anchor="end" fill="#333">USP1 S475</text>
<line x1="396.3" y1="213.55" x2="400" y2="213.55" stroke="#222" stroke-width="0.7"/>
<rect x="400" y="216.01" width="5.7" height="5.22" fill="#f2efc4"/>
<rect x="405.4" y="216.01" width="5.7" height="5.22" fill="#f3f0c4"/>
<rect x="410.8" y="216.01" width="5.7" height="5.22" fill="#f8f2c3"/>
<rect x="416.2" y="216.01" width="5.7" height="5.22" fill="#f2efc4"/>
<rect x="421.6" y="216.01" width="5.7" height="5.22" fill="#f5f1c3"/>
<rect x="427" y="216.01" width="5.7" height="5.22" fill="#f1efc4"/>
<rect x="432.4" y="216.01" width="5.7" height="5.22" fill="#f9eebb"/>
<rect x="437.8" y="216.01" width="5.7" height="5.22" fill="#f0eec4"/>
<rect x="443.2" y="216.01" width="5.7" height="5.22" fill="#faeab6"/>
<rect x="448.6" y="216.01" width="5.7" height="5.22" fill="#f9f3c3"/>
<rect x="454" y="216.01" width="5.7" height="5.22" fill="#f6f1c3"/>
<rect x="459.4" y="216.01" width="5.7" height="5.22" fill="#f6f1c3"/>
<text x="394" y="220.32" font-size="5.15" text-anchor="end" fill="#333">RNF169 S644</text>
<line x1="396.3" y1="218.47" x2="400" y2="218.47" stroke="#222" stroke-width="0.7"/>
<rect x="400" y="220.92" width="5.7" height="5.22" fill="#f7cb98"/>
<rect x="405.4" y="220.92" width="5.7" height="5.22" fill="#f7c996"/>
<rect x="410.8" y="220.92" width="5.7" height="5.22" fill="#f9d7a2"/>
<rect x="416.2" y="220.92" width="5.7" height="5.22" fill="#f0eec4"/>
<rect x="421.6" y="220.92" width="5.7" height="5.22" fill="#edecc4"/>
<rect x="427" y="220.92" width="5.7" height="5.22" fill="#ececc4"/>
<rect x="432.4" y="220.92" width="5.7" height="5.22" fill="#efedc4"/>
<rect x="437.8" y="220.92" width="5.7" height="5.22" fill="#f2efc4"/>
<rect x="443.2" y="220.92" width="5.7" height="5.22" fill="#e2e5c5"/>
<rect x="448.6" y="220.92" width="5.7" height="5.22" fill="#ebebc4"/>
<rect x="454" y="220.92" width="5.7" height="5.22" fill="#f9f2c2"/>
<rect x="459.4" y="220.92" width="5.7" height="5.22" fill="#f9f3c3"/>
<text x="394" y="225.24" font-size="5.15" text-anchor="end" fill="#333">BACH1 S588</text>
<line x1="396.3" y1="223.38" x2="400" y2="223.38" stroke="#222" stroke-width="0.7"/>
<rect x="400" y="225.84" width="5.7" height="5.22" fill="#e3e6c5"/>
<rect x="405.4" y="225.84" width="5.7" height="5.22" fill="#d5dcc4"/>
<rect x="410.8" y="225.84" width="5.7" height="5.22" fill="#d9dfc5"/>
<rect x="416.2" y="225.84" width="5.7" height="5.22" fill="#f9ecb8"/>
<rect x="421.6" y="225.84" width="5.7" height="5.22" fill="#f1eec4"/>
<rect x="427" y="225.84" width="5.7" height="5.22" fill="#f9f1c0"/>
<rect x="432.4" y="225.84" width="5.7" height="5.22" fill="#f4f0c4"/>
<rect x="437.8" y="225.84" width="5.7" height="5.22" fill="#f7f2c3"/>
<rect x="443.2" y="225.84" width="5.7" height="5.22" fill="#f1eec4"/>
<rect x="448.6" y="225.84" width="5.7" height="5.22" fill="#f9edbb"/>
<rect x="454" y="225.84" width="5.7" height="5.22" fill="#edecc4"/>
<rect x="459.4" y="225.84" width="5.7" height="5.22" fill="#f2efc4"/>
<text x="394" y="230.15" font-size="5.15" text-anchor="end" fill="#333">RNF168 S411</text>
<line x1="396.3" y1="228.3" x2="400" y2="228.3" stroke="#222" stroke-width="0.7"/>
<rect x="400" y="230.76" width="5.7" height="5.22" fill="#f3f0c4"/>
<rect x="405.4" y="230.76" width="5.7" height="5.22" fill="#f9edbb"/>
<rect x="410.8" y="230.76" width="5.7" height="5.22" fill="#f9f2c1"/>
<rect x="416.2" y="230.76" width="5.7" height="5.22" fill="#f9f0be"/>
<rect x="421.6" y="230.76" width="5.7" height="5.22" fill="#f9f3c3"/>
<rect x="427" y="230.76" width="5.7" height="5.22" fill="#f9f2c1"/>
<rect x="432.4" y="230.76" width="5.7" height="5.22" fill="#f9f1c0"/>
<rect x="437.8" y="230.76" width="5.7" height="5.22" fill="#f9ecb8"/>
<rect x="443.2" y="230.76" width="5.7" height="5.22" fill="#f9f2c1"/>
<rect x="448.6" y="230.76" width="5.7" height="5.22" fill="#f4f0c4"/>
<rect x="454" y="230.76" width="5.7" height="5.22" fill="#faeab7"/>
<rect x="459.4" y="230.76" width="5.7" height="5.22" fill="#f9f0be"/>
<text x="394" y="235.07" font-size="5.15" text-anchor="end" fill="#333">TERF2IP S36</text>
<line x1="396.3" y1="233.21" x2="400" y2="233.21" stroke="#222" stroke-width="0.7"/>
<rect x="400" y="235.67" width="5.7" height="5.22" fill="#f3ae84"/>
<rect x="405.4" y="235.67" width="5.7" height="5.22" fill="#f1a67e"/>
<rect x="410.8" y="235.67" width="5.7" height="5.22" fill="#f3ad83"/>
<rect x="416.2" y="235.67" width="5.7" height="5.22" fill="#f2a880"/>
<rect x="421.6" y="235.67" width="5.7" height="5.22" fill="#f6bf8f"/>
<rect x="427" y="235.67" width="5.7" height="5.22" fill="#f8cd9a"/>
<rect x="432.4" y="235.67" width="5.7" height="5.22" fill="#f9f2c1"/>
<rect x="437.8" y="235.67" width="5.7" height="5.22" fill="#f4f0c4"/>
<rect x="443.2" y="235.67" width="5.7" height="5.22" fill="#f9edba"/>
<rect x="448.6" y="235.67" width="5.7" height="5.22" fill="#f7c694"/>
<rect x="454" y="235.67" width="5.7" height="5.22" fill="#f8d5a0"/>
<rect x="459.4" y="235.67" width="5.7" height="5.22" fill="#f7cb98"/>
<text x="394" y="239.98" font-size="5.15" text-anchor="end" fill="#333">RECQL4 S27</text>
<line x1="396.3" y1="238.13" x2="400" y2="238.13" stroke="#222" stroke-width="0.7"/>
<rect x="400" y="240.59" width="5.7" height="5.22" fill="#f2efc4"/>
<rect x="405.4" y="240.59" width="5.7" height="5.22" fill="#f4f0c3"/>
<rect x="410.8" y="240.59" width="5.7" height="5.22" fill="#f5f1c3"/>
<rect x="416.2" y="240.59" width="5.7" height="5.22" fill="#edecc4"/>
<rect x="421.6" y="240.59" width="5.7" height="5.22" fill="#f9f2c2"/>
<rect x="427" y="240.59" width="5.7" height="5.22" fill="#f4f0c4"/>
<rect x="432.4" y="240.59" width="5.7" height="5.22" fill="#f4f0c4"/>
<rect x="437.8" y="240.59" width="5.7" height="5.22" fill="#f9efbe"/>
<rect x="443.2" y="240.59" width="5.7" height="5.22" fill="#faeab6"/>
<rect x="448.6" y="240.59" width="5.7" height="5.22" fill="#fae7b1"/>
<rect x="454" y="240.59" width="5.7" height="5.22" fill="#f9d6a1"/>
<rect x="459.4" y="240.59" width="5.7" height="5.22" fill="#f9eebb"/>
<text x="394" y="244.9" font-size="5.15" text-anchor="end" fill="#333">MARF1 S1718</text>
<line x1="396.3" y1="243.05" x2="400" y2="243.05" stroke="#222" stroke-width="0.7"/>
<rect x="400" y="245.5" width="5.7" height="5.22" fill="#f9f0bf"/>
<rect x="405.4" y="245.5" width="5.7" height="5.22" fill="#f5f1c3"/>
<rect x="410.8" y="245.5" width="5.7" height="5.22" fill="#f9f3c3"/>
<rect x="416.2" y="245.5" width="5.7" height="5.22" fill="#f3f0c4"/>
<rect x="421.6" y="245.5" width="5.7" height="5.22" fill="#f5f1c3"/>
<rect x="427" y="245.5" width="5.7" height="5.22" fill="#f7f2c3"/>
<rect x="432.4" y="245.5" width="5.7" height="5.22" fill="#f7f2c3"/>
<rect x="437.8" y="245.5" width="5.7" height="5.22" fill="#f9f1c0"/>
<rect x="443.2" y="245.5" width="5.7" height="5.22" fill="#fae8b3"/>
<rect x="448.6" y="245.5" width="5.7" height="5.22" fill="#fadfa9"/>
<rect x="454" y="245.5" width="5.7" height="5.22" fill="#f9dca6"/>
<rect x="459.4" y="245.5" width="5.7" height="5.22" fill="#fae6b1"/>
<text x="394" y="249.82" font-size="5.15" text-anchor="end" fill="#333">DTL S410</text>
<line x1="396.3" y1="247.96" x2="400" y2="247.96" stroke="#222" stroke-width="0.7"/>
<rect x="400" y="250.42" width="5.7" height="5.22" fill="#f9f0bf"/>
<rect x="405.4" y="250.42" width="5.7" height="5.22" fill="#f9d9a4"/>
<rect x="410.8" y="250.42" width="5.7" height="5.22" fill="#faeab6"/>
<rect x="416.2" y="250.42" width="5.7" height="5.22" fill="#f6c292"/>
<rect x="421.6" y="250.42" width="5.7" height="5.22" fill="#f5bb8d"/>
<rect x="427" y="250.42" width="5.7" height="5.22" fill="#f4b387"/>
<rect x="432.4" y="250.42" width="5.7" height="5.22" fill="#fae8b4"/>
<rect x="437.8" y="250.42" width="5.7" height="5.22" fill="#fadfa9"/>
<rect x="443.2" y="250.42" width="5.7" height="5.22" fill="#faebb7"/>
<rect x="448.6" y="250.42" width="5.7" height="5.22" fill="#f8d5a1"/>
<rect x="454" y="250.42" width="5.7" height="5.22" fill="#f7c694"/>
<rect x="459.4" y="250.42" width="5.7" height="5.22" fill="#f7c694"/>
<text x="394" y="254.73" font-size="5.15" text-anchor="end" fill="#333">MCM5 S279</text>
<line x1="396.3" y1="252.88" x2="400" y2="252.88" stroke="#222" stroke-width="0.7"/>
<rect x="400" y="255.34" width="5.7" height="5.22" fill="#dae0c5"/>
<rect x="405.4" y="255.34" width="5.7" height="5.22" fill="#dde2c5"/>
<rect x="410.8" y="255.34" width="5.7" height="5.22" fill="#dce1c5"/>
<rect x="416.2" y="255.34" width="5.7" height="5.22" fill="#faebb7"/>
<rect x="421.6" y="255.34" width="5.7" height="5.22" fill="#f5f1c3"/>
<rect x="427" y="255.34" width="5.7" height="5.22" fill="#f1eec4"/>
<rect x="432.4" y="255.34" width="5.7" height="5.22" fill="#ccd5c4"/>
<rect x="437.8" y="255.34" width="5.7" height="5.22" fill="#c2cfc5"/>
<rect x="443.2" y="255.34" width="5.7" height="5.22" fill="#ccd6c4"/>
<rect x="448.6" y="255.34" width="5.7" height="5.22" fill="#f9f1c0"/>
<rect x="454" y="255.34" width="5.7" height="5.22" fill="#f4f0c4"/>
<rect x="459.4" y="255.34" width="5.7" height="5.22" fill="#f6f1c3"/>
<text x="394" y="259.65" font-size="5.15" text-anchor="end" fill="#333">APLF S144</text>
<line x1="396.3" y1="257.79" x2="400" y2="257.79" stroke="#222" stroke-width="0.7"/>
<rect x="400" y="260.25" width="5.7" height="5.22" fill="#d5dcc4"/>
<rect x="405.4" y="260.25" width="5.7" height="5.22" fill="#e1e4c5"/>
<rect x="410.8" y="260.25" width="5.7" height="5.22" fill="#dae0c5"/>
<rect x="416.2" y="260.25" width="5.7" height="5.22" fill="#cad4c4"/>
<rect x="421.6" y="260.25" width="5.7" height="5.22" fill="#cad4c4"/>
<rect x="427" y="260.25" width="5.7" height="5.22" fill="#d1d9c4"/>
<rect x="432.4" y="260.25" width="5.7" height="5.22" fill="#c0cdc6"/>
<rect x="437.8" y="260.25" width="5.7" height="5.22" fill="#bccbc6"/>
<rect x="443.2" y="260.25" width="5.7" height="5.22" fill="#c1cec5"/>
<rect x="448.6" y="260.25" width="5.7" height="5.22" fill="#dee2c5"/>
<rect x="454" y="260.25" width="5.7" height="5.22" fill="#e5e7c5"/>
<rect x="459.4" y="260.25" width="5.7" height="5.22" fill="#e1e5c5"/>
<text x="394" y="264.56" font-size="5.15" text-anchor="end" fill="#333">BRD8 S590</text>
<line x1="396.3" y1="262.71" x2="400" y2="262.71" stroke="#222" stroke-width="0.7"/>
<rect x="400" y="265.17" width="5.7" height="5.22" fill="#f8f3c3"/>
<rect x="405.4" y="265.17" width="5.7" height="5.22" fill="#f9f2c2"/>
<rect x="410.8" y="265.17" width="5.7" height="5.22" fill="#f4f0c4"/>
<rect x="416.2" y="265.17" width="5.7" height="5.22" fill="#f9efbd"/>
<rect x="421.6" y="265.17" width="5.7" height="5.22" fill="#f9f1c0"/>
<rect x="427" y="265.17" width="5.7" height="5.22" fill="#f6f2c3"/>
<rect x="432.4" y="265.17" width="5.7" height="5.22" fill="#f9f2c2"/>
<rect x="437.8" y="265.17" width="5.7" height="5.22" fill="#f6f1c3"/>
<rect x="443.2" y="265.17" width="5.7" height="5.22" fill="#fae7b1"/>
<rect x="448.6" y="265.17" width="5.7" height="5.22" fill="#f6f1c3"/>
<rect x="454" y="265.17" width="5.7" height="5.22" fill="#f9f1bf"/>
<rect x="459.4" y="265.17" width="5.7" height="5.22" fill="#f9f1c0"/>
<text x="394" y="269.48" font-size="5.15" text-anchor="end" fill="#333">ARID1A S1242</text>
<line x1="396.3" y1="267.63" x2="400" y2="267.63" stroke="#222" stroke-width="0.7"/>
<rect x="400" y="270.08" width="5.7" height="5.22" fill="#fae1aa"/>
<rect x="405.4" y="270.08" width="5.7" height="5.22" fill="#f9daa5"/>
<rect x="410.8" y="270.08" width="5.7" height="5.22" fill="#f9dda7"/>
<rect x="416.2" y="270.08" width="5.7" height="5.22" fill="#f8cf9b"/>
<rect x="421.6" y="270.08" width="5.7" height="5.22" fill="#f8cf9b"/>
<rect x="427" y="270.08" width="5.7" height="5.22" fill="#f7cb98"/>
<rect x="432.4" y="270.08" width="5.7" height="5.22" fill="#fae6b0"/>
<rect x="437.8" y="270.08" width="5.7" height="5.22" fill="#f9ecb9"/>
<rect x="443.2" y="270.08" width="5.7" height="5.22" fill="#f9edb9"/>
<rect x="448.6" y="270.08" width="5.7" height="5.22" fill="#f8d5a1"/>
<rect x="454" y="270.08" width="5.7" height="5.22" fill="#f9d7a3"/>
<rect x="459.4" y="270.08" width="5.7" height="5.22" fill="#f9dea8"/>
<text x="394" y="274.4" font-size="5.15" text-anchor="end" fill="#333">HMGB1 S35</text>
<line x1="396.3" y1="272.54" x2="400" y2="272.54" stroke="#222" stroke-width="0.7"/>
<rect x="400" y="29.2" width="64.8" height="245.8" fill="none" stroke="#2a2a2a" stroke-width="0.9"/>
<rect x="400" y="23.4" width="16.4" height="4.9" fill="#c8102e"/>
<rect x="416.2" y="23.4" width="16.4" height="4.9" fill="#1d4a87"/>
<rect x="432.4" y="23.4" width="16.4" height="4.9" fill="#8c84c6"/>
<rect x="448.6" y="23.4" width="16.4" height="4.9" fill="#c9c6d6"/>
<text x="307.3" y="19.22" font-size="6.45" text-anchor="middle" fill="#333">Cell Cycle Phospho</text>
<text x="432.4" y="18.92" font-size="6.45" text-anchor="middle" fill="#333">DNA Repair Phospho</text>
<defs><linearGradient id="gtmt" x1="0" x2="1" y1="0" y2="0"><stop offset="0" stop-color="#3a5e9e"/><stop offset="0.3" stop-color="#9fb5cc"/><stop offset="0.55" stop-color="#e3e5c4"/><stop offset="0.72" stop-color="#f9f1c2"/><stop offset="0.86" stop-color="#f5b788"/><stop offset="1" stop-color="#d3312d"/></linearGradient></defs>
<rect x="277" y="278.1" width="61.7" height="6.2" fill="url(#gtmt)" stroke="#333" stroke-width="0.6"/>
<text x="285" y="292.98" font-size="6.6" text-anchor="middle" fill="#333">&#8722;3</text>
<line x1="285" y1="278.1" x2="285" y2="279.3" stroke="#333" stroke-width="0.6"/>
<line x1="285" y1="283.1" x2="285" y2="284.3" stroke="#333" stroke-width="0.6"/>
<text x="298" y="292.98" font-size="6.6" text-anchor="middle" fill="#333">&#8722;2</text>
<line x1="298" y1="278.1" x2="298" y2="279.3" stroke="#333" stroke-width="0.6"/>
<line x1="298" y1="283.1" x2="298" y2="284.3" stroke="#333" stroke-width="0.6"/>
<text x="310.7" y="292.98" font-size="6.6" text-anchor="middle" fill="#333">&#8722;1</text>
<line x1="310.7" y1="278.1" x2="310.7" y2="279.3" stroke="#333" stroke-width="0.6"/>
<line x1="310.7" y1="283.1" x2="310.7" y2="284.3" stroke="#333" stroke-width="0.6"/>
<text x="323" y="292.98" font-size="6.6" text-anchor="middle" fill="#333">0</text>
<line x1="323" y1="278.1" x2="323" y2="279.3" stroke="#333" stroke-width="0.6"/>
<line x1="323" y1="283.1" x2="323" y2="284.3" stroke="#333" stroke-width="0.6"/>
<text x="335" y="292.98" font-size="6.6" text-anchor="middle" fill="#333">1</text>
<line x1="335" y1="278.1" x2="335" y2="279.3" stroke="#333" stroke-width="0.6"/>
<line x1="335" y1="283.1" x2="335" y2="284.3" stroke="#333" stroke-width="0.6"/>
<rect x="403" y="278.5" width="60.8" height="6.1" fill="url(#gtmt)" stroke="#333" stroke-width="0.6"/>
<text x="420.8" y="293.18" font-size="6.6" text-anchor="middle" fill="#333">&#8722;2</text>
<line x1="420.8" y1="278.5" x2="420.8" y2="279.7" stroke="#333" stroke-width="0.6"/>
<line x1="420.8" y1="283.4" x2="420.8" y2="284.6" stroke="#333" stroke-width="0.6"/>
<text x="441.9" y="293.18" font-size="6.6" text-anchor="middle" fill="#333">0</text>
<line x1="441.9" y1="278.5" x2="441.9" y2="279.7" stroke="#333" stroke-width="0.6"/>
<line x1="441.9" y1="283.4" x2="441.9" y2="284.6" stroke="#333" stroke-width="0.6"/>
<text x="462.7" y="293.18" font-size="6.6" text-anchor="middle" fill="#333">2</text>
<line x1="462.7" y1="278.5" x2="462.7" y2="279.7" stroke="#333" stroke-width="0.6"/>
<line x1="462.7" y1="283.4" x2="462.7" y2="284.6" stroke="#333" stroke-width="0.6"/>
<text x="307.3" y="303.14" font-size="6.5" text-anchor="middle" fill="#333">Normalized TMT intensity</text>
<text x="432.7" y="303.14" font-size="6.5" text-anchor="middle" fill="#333">Normalized TMT intensity</text>
<text x="472.3" y="18.6" font-size="6.4" fill="#333">Comparison</text>
<rect x="471.8" y="23.7" width="5.9" height="5.6" fill="#c8102e"/>
<text x="480.8" y="28.8" font-size="6.4" fill="#333">shASF1A</text>
<rect x="471.8" y="33.7" width="5.9" height="5.6" fill="#1d4a87"/>
<text x="480.8" y="38.8" font-size="6.4" fill="#333">shASF1B</text>
<rect x="471.8" y="43.6" width="5.9" height="5.6" fill="#8c84c6"/>
<text x="480.8" y="48.7" font-size="6.4" fill="#333">shASF1A/B</text>
<rect x="471.8" y="53" width="5.9" height="5.6" fill="#c9c6d6"/>
<text x="480.8" y="58.1" font-size="6.4" fill="#333">shNT</text>
<text x="6.6" y="602.2" font-size="11.5" font-weight="bold" fill="#111">C</text>
<circle cx="80.2" cy="656.2" r="36" fill="#dddaef" stroke="#c2bfd8" stroke-width="0.7"/>
<circle cx="115.9" cy="656.2" r="36.2" fill="#dfe3dc" stroke="#b3b9b1" stroke-width="0.7"/>
<clipPath id="cl1"><circle cx="80.2" cy="656.2" r="36"/></clipPath>
<circle cx="115.9" cy="656.2" r="36.2" fill="#babbca" stroke="#a4a6b8" stroke-width="0.7" clip-path="url(#cl1)"/>
<text x="80.2" y="607.9" font-size="6.4" text-anchor="middle" fill="#333">shASF1A/B</text>
<text x="80.2" y="616.9" font-size="6.4" text-anchor="middle" fill="#333">Phospho</text>
<text x="115.9" y="607.9" font-size="6.4" text-anchor="middle" fill="#333">shTLK1/2</text>
<text x="115.9" y="616.9" font-size="6.4" text-anchor="middle" fill="#333">Phospho</text>
<text x="63.1" y="659.64" font-size="6.5" text-anchor="middle" fill="#333">295</text>
<text x="99.6" y="659.64" font-size="6.5" text-anchor="middle" fill="#333">446</text>
<text x="131.2" y="659.64" font-size="6.5" text-anchor="middle" fill="#333">1645</text>
<text x="248.2" y="329.4" font-size="11.5" font-weight="bold" fill="#111">D</text>
<line x1="414.2" y1="331.5" x2="414.2" y2="430.6" stroke="#222" stroke-width="1.1"/>
<line x1="414.2" y1="430.6" x2="495.8" y2="430.6" stroke="#222" stroke-width="1.1"/>
<line x1="414.2" y1="430.6" x2="414.2" y2="432.8" stroke="#222" stroke-width="0.8"/>
<text x="414.2" y="441.98" font-size="6.6" text-anchor="middle" fill="#333">0</text>
<line x1="433.75" y1="430.6" x2="433.75" y2="432.8" stroke="#222" stroke-width="0.8"/>
<text x="433.75" y="441.98" font-size="6.6" text-anchor="middle" fill="#333">20</text>
<line x1="453.3" y1="430.6" x2="453.3" y2="432.8" stroke="#222" stroke-width="0.8"/>
<text x="453.3" y="441.98" font-size="6.6" text-anchor="middle" fill="#333">40</text>
<line x1="472.85" y1="430.6" x2="472.85" y2="432.8" stroke="#222" stroke-width="0.8"/>
<text x="472.85" y="441.98" font-size="6.6" text-anchor="middle" fill="#333">60</text>
<line x1="492.4" y1="430.6" x2="492.4" y2="432.8" stroke="#222" stroke-width="0.8"/>
<text x="492.4" y="441.98" font-size="6.6" text-anchor="middle" fill="#333">80</text>
<line x1="412" y1="336.1" x2="414.2" y2="336.1" stroke="#222" stroke-width="0.8"/>
<text x="408.4" y="338.44" font-size="6.5" text-anchor="end" fill="#333">Organelle organization</text>
<circle cx="485.56" cy="336.1" r="2.05" fill="#c81466"/>
<line x1="412" y1="342.49" x2="414.2" y2="342.49" stroke="#222" stroke-width="0.8"/>
<text x="408.4" y="344.82" font-size="6.5" text-anchor="end" fill="#333">Chromosome organization</text>
<circle cx="482.62" cy="342.49" r="2.05" fill="#c81466"/>
<line x1="412" y1="348.87" x2="414.2" y2="348.87" stroke="#222" stroke-width="0.8"/>
<text x="408.4" y="351.21" font-size="6.5" text-anchor="end" fill="#333">Cellular component organization or biogenesis</text>
<circle cx="475.29" cy="348.87" r="2.05" fill="#c81466"/>
<line x1="412" y1="355.25" x2="414.2" y2="355.25" stroke="#222" stroke-width="0.8"/>
<text x="408.4" y="357.59" font-size="6.5" text-anchor="end" fill="#333">Cellular component organization</text>
<circle cx="473.83" cy="355.25" r="2.05" fill="#c81466"/>
<line x1="412" y1="361.64" x2="414.2" y2="361.64" stroke="#222" stroke-width="0.8"/>
<text x="408.4" y="363.98" font-size="6.5" text-anchor="end" fill="#333">Chromatin organization</text>
<circle cx="463.07" cy="361.64" r="2.05" fill="#c81466"/>
<line x1="412" y1="368.03" x2="414.2" y2="368.03" stroke="#222" stroke-width="0.8"/>
<text x="408.4" y="370.37" font-size="6.5" text-anchor="end" fill="#333">Cell cycle</text>
<circle cx="463.07" cy="368.03" r="2.05" fill="#c81466"/>
<line x1="412" y1="374.41" x2="414.2" y2="374.41" stroke="#222" stroke-width="0.8"/>
<text x="408.4" y="376.75" font-size="6.5" text-anchor="end" fill="#333">Mitotic cell cycle process</text>
<circle cx="462.59" cy="374.41" r="2.05" fill="#c81466"/>
<line x1="412" y1="380.8" x2="414.2" y2="380.8" stroke="#222" stroke-width="0.8"/>
<text x="408.4" y="383.13" font-size="6.5" text-anchor="end" fill="#333">Mitotic cell cycle</text>
<circle cx="461.12" cy="380.8" r="2.05" fill="#c81466"/>
<line x1="412" y1="387.18" x2="414.2" y2="387.18" stroke="#222" stroke-width="0.8"/>
<text x="408.4" y="389.52" font-size="6.5" text-anchor="end" fill="#333">Nucleic acid metabolic process</text>
<circle cx="458.19" cy="387.18" r="2.05" fill="#c81466"/>
<line x1="412" y1="393.56" x2="414.2" y2="393.56" stroke="#222" stroke-width="0.8"/>
<text x="408.4" y="395.9" font-size="6.5" text-anchor="end" fill="#333">Cellular response to DNA damage stimulus</text>
<circle cx="457.21" cy="393.56" r="2.05" fill="#c81466"/>
<line x1="412" y1="399.95" x2="414.2" y2="399.95" stroke="#222" stroke-width="0.8"/>
<text x="408.4" y="402.29" font-size="6.5" text-anchor="end" fill="#333">DNA repair</text>
<circle cx="456.23" cy="399.95" r="2.05" fill="#c81466"/>
<line x1="412" y1="406.34" x2="414.2" y2="406.34" stroke="#222" stroke-width="0.8"/>
<text x="408.4" y="408.68" font-size="6.5" text-anchor="end" fill="#333">Cell cycle process</text>
<circle cx="454.77" cy="406.34" r="2.05" fill="#c81466"/>
<line x1="412" y1="412.72" x2="414.2" y2="412.72" stroke="#222" stroke-width="0.8"/>
<text x="408.4" y="415.06" font-size="6.5" text-anchor="end" fill="#333">DNA metabolic process</text>
<circle cx="453.3" cy="412.72" r="2.05" fill="#c81466"/>
<line x1="412" y1="419.11" x2="414.2" y2="419.11" stroke="#222" stroke-width="0.8"/>
<text x="408.4" y="421.44" font-size="6.5" text-anchor="end" fill="#333">Nucleobase-containing compound metabolic process</text>
<circle cx="451.34" cy="419.11" r="2.05" fill="#c81466"/>
<line x1="412" y1="425.49" x2="414.2" y2="425.49" stroke="#222" stroke-width="0.8"/>
<text x="408.4" y="427.83" font-size="6.5" text-anchor="end" fill="#333">Cellular macromolecule metabolic process</text>
<circle cx="450.37" cy="425.49" r="2.05" fill="#c81466"/>
<text x="454.5" y="454.2" font-size="6.8" text-anchor="middle" fill="#333">-Log<tspan font-size="4.2" dy="1.5">2</tspan><tspan dy="-1.5">(FDR)</tspan></text>
<text x="248.2" y="483.2" font-size="11.5" font-weight="bold" fill="#111">E</text>
<text x="325" y="480.79" font-size="8.3" text-anchor="middle" fill="#333">ASF1 Phospho</text>
<text x="433.4" y="480.29" font-size="8.3" text-anchor="middle" fill="#333">TLK Phospho</text>
<rect x="316.5" y="508.75" width="18.48" height="3.5" rx="1.2" fill="#cdcdcf"/>
<rect x="307.26" y="511.15" width="9.24" height="3.5" rx="1.2" fill="#c8102e"/>
<rect x="316.5" y="513.65" width="12.41" height="3.5" rx="1.2" fill="#1d4a87"/>
<rect x="313.33" y="516.05" width="3.17" height="3.5" rx="1.2" fill="#9b94cd"/>
<line x1="288.1" y1="514.6" x2="290.3" y2="514.6" stroke="#222" stroke-width="0.8"/>
<rect x="316.5" y="518.75" width="13.2" height="3.5" rx="1.2" fill="#cdcdcf"/>
<rect x="297.23" y="521.15" width="19.27" height="3.5" rx="1.2" fill="#c8102e"/>
<rect x="316.5" y="523.65" width="9.77" height="3.5" rx="1.2" fill="#1d4a87"/>
<rect x="308.84" y="526.05" width="7.66" height="3.5" rx="1.2" fill="#9b94cd"/>
<line x1="288.1" y1="524.6" x2="290.3" y2="524.6" stroke="#222" stroke-width="0.8"/>
<rect x="316.5" y="530.65" width="31.68" height="3.5" rx="1.2" fill="#cdcdcf"/>
<rect x="316.5" y="533.05" width="3.96" height="3.5" rx="1.2" fill="#c8102e"/>
<rect x="303.56" y="535.55" width="12.94" height="3.5" rx="1.2" fill="#1d4a87"/>
<rect x="307.26" y="537.95" width="9.24" height="3.5" rx="1.2" fill="#9b94cd"/>
<line x1="288.1" y1="536.5" x2="290.3" y2="536.5" stroke="#222" stroke-width="0.8"/>
<rect x="316.5" y="541.35" width="23.76" height="3.5" rx="1.2" fill="#cdcdcf"/>
<rect x="316.5" y="543.75" width="1.32" height="3.5" rx="1.2" fill="#c8102e"/>
<rect x="316.5" y="546.25" width="19.8" height="3.5" rx="1.2" fill="#1d4a87"/>
<rect x="311.48" y="548.65" width="5.02" height="3.5" rx="1.2" fill="#9b94cd"/>
<line x1="288.1" y1="547.2" x2="290.3" y2="547.2" stroke="#222" stroke-width="0.8"/>
<rect x="316.5" y="552.35" width="5.28" height="3.5" rx="1.2" fill="#cdcdcf"/>
<rect x="303.3" y="554.75" width="13.2" height="3.5" rx="1.2" fill="#c8102e"/>
<rect x="306.47" y="557.25" width="10.03" height="3.5" rx="1.2" fill="#1d4a87"/>
<line x1="288.1" y1="558.2" x2="290.3" y2="558.2" stroke="#222" stroke-width="0.8"/>
<line x1="316.5" y1="507.8" x2="316.5" y2="563.6" stroke="#111" stroke-width="0.9"/>
<line x1="290.3" y1="507.8" x2="290.3" y2="563.6" stroke="#222" stroke-width="1.1"/>
<line x1="290.3" y1="563.6" x2="357.2" y2="563.6" stroke="#222" stroke-width="1.1"/>
<line x1="290.1" y1="563.6" x2="290.1" y2="565.8" stroke="#222" stroke-width="0.8"/>
<text x="290.1" y="575.58" font-size="6.6" text-anchor="middle" fill="#333">&#8722;1.0</text>
<line x1="303.3" y1="563.6" x2="303.3" y2="565.8" stroke="#222" stroke-width="0.8"/>
<text x="303.3" y="575.58" font-size="6.6" text-anchor="middle" fill="#333">&#8722;0.5</text>
<line x1="316.5" y1="563.6" x2="316.5" y2="565.8" stroke="#222" stroke-width="0.8"/>
<text x="316.5" y="575.58" font-size="6.6" text-anchor="middle" fill="#333">0.0</text>
<line x1="329.7" y1="563.6" x2="329.7" y2="565.8" stroke="#222" stroke-width="0.8"/>
<text x="329.7" y="575.58" font-size="6.6" text-anchor="middle" fill="#333">0.5</text>
<line x1="342.9" y1="563.6" x2="342.9" y2="565.8" stroke="#222" stroke-width="0.8"/>
<text x="342.9" y="575.58" font-size="6.6" text-anchor="middle" fill="#333">1.0</text>
<line x1="356.1" y1="563.6" x2="356.1" y2="565.8" stroke="#222" stroke-width="0.8"/>
<text x="356.1" y="575.58" font-size="6.6" text-anchor="middle" fill="#333">1.5</text>
<text x="284.2" y="515.7" font-size="6.4" text-anchor="end" fill="#333">PKMYT1</text>
<text x="284.2" y="527" font-size="6.4" text-anchor="end" fill="#333">MDC1</text>
<text x="284.2" y="537.8" font-size="6.4" text-anchor="end" fill="#333">RIF1</text>
<text x="284.2" y="549.1" font-size="6.4" text-anchor="end" fill="#333">CLSPN</text>
<text x="284.2" y="559.9" font-size="6.4" text-anchor="end" fill="#333">CHAF1A</text>
<rect x="432.1" y="485.75" width="11.25" height="3.3" rx="1.2" fill="#cdcdcf"/>
<rect x="414.72" y="488.05" width="17.38" height="3.3" rx="1.2" fill="#ea8f14"/>
<rect x="419.69" y="490.45" width="12.41" height="3.3" rx="1.2" fill="#2aa5df"/>
<rect x="432.1" y="492.85" width="3.81" height="3.3" rx="1.2" fill="#136b55"/>
<rect x="432.1" y="496.85" width="12.58" height="3.3" rx="1.2" fill="#cdcdcf"/>
<rect x="416.38" y="499.15" width="15.72" height="3.3" rx="1.2" fill="#ea8f14"/>
<rect x="432.1" y="501.55" width="6.62" height="3.3" rx="1.2" fill="#2aa5df"/>
<rect x="430.45" y="503.95" width="1.65" height="3.3" rx="1.2" fill="#136b55"/>
<rect x="432.1" y="508.05" width="21.02" height="3.3" rx="1.2" fill="#cdcdcf"/>
<rect x="417.54" y="510.35" width="14.56" height="3.3" rx="1.2" fill="#ea8f14"/>
<rect x="432.1" y="512.75" width="15.72" height="3.3" rx="1.2" fill="#2aa5df"/>
<rect x="432.1" y="515.15" width="2.65" height="3.3" rx="1.2" fill="#136b55"/>
<rect x="432.1" y="519.65" width="2.15" height="3.3" rx="1.2" fill="#cdcdcf"/>
<rect x="411.08" y="521.95" width="21.02" height="3.3" rx="1.2" fill="#ea8f14"/>
<rect x="429.29" y="526.75" width="2.81" height="3.3" rx="1.2" fill="#136b55"/>
<rect x="432.1" y="531.05" width="7.45" height="3.3" rx="1.2" fill="#cdcdcf"/>
<rect x="428.29" y="533.35" width="3.81" height="3.3" rx="1.2" fill="#ea8f14"/>
<rect x="432.1" y="535.75" width="0.83" height="3.3" rx="1.2" fill="#2aa5df"/>
<rect x="428.79" y="538.15" width="3.31" height="3.3" rx="1.2" fill="#136b55"/>
<rect x="432.1" y="542.05" width="12.58" height="3.3" rx="1.2" fill="#cdcdcf"/>
<rect x="432.1" y="544.35" width="1.65" height="3.3" rx="1.2" fill="#ea8f14"/>
<rect x="432.1" y="546.75" width="6.29" height="3.3" rx="1.2" fill="#2aa5df"/>
<rect x="432.1" y="549.15" width="6.62" height="3.3" rx="1.2" fill="#136b55"/>
<rect x="412.24" y="556.65" width="19.86" height="3.3" rx="1.2" fill="#ea8f14"/>
<rect x="422.17" y="559.05" width="9.93" height="3.3" rx="1.2" fill="#2aa5df"/>
<rect x="419.69" y="561.45" width="12.41" height="3.3" rx="1.2" fill="#136b55"/>
<line x1="396.8" y1="489.7" x2="399" y2="489.7" stroke="#222" stroke-width="0.8"/>
<line x1="396.8" y1="499.3" x2="399" y2="499.3" stroke="#222" stroke-width="0.8"/>
<line x1="396.8" y1="508.3" x2="399" y2="508.3" stroke="#222" stroke-width="0.8"/>
<line x1="396.8" y1="517.3" x2="399" y2="517.3" stroke="#222" stroke-width="0.8"/>
<line x1="396.8" y1="526.3" x2="399" y2="526.3" stroke="#222" stroke-width="0.8"/>
<line x1="396.8" y1="535.3" x2="399" y2="535.3" stroke="#222" stroke-width="0.8"/>
<line x1="396.8" y1="544.4" x2="399" y2="544.4" stroke="#222" stroke-width="0.8"/>
<line x1="396.8" y1="554.6" x2="399" y2="554.6" stroke="#222" stroke-width="0.8"/>
<line x1="432.1" y1="485.8" x2="432.1" y2="564" stroke="#111" stroke-width="0.9"/>
<line x1="399" y1="485.8" x2="399" y2="564" stroke="#222" stroke-width="1.1"/>
<line x1="399" y1="564" x2="466" y2="564" stroke="#222" stroke-width="1.1"/>
<line x1="399" y1="564" x2="399" y2="566.2" stroke="#222" stroke-width="0.8"/>
<text x="399" y="574.98" font-size="6.6" text-anchor="middle" fill="#333">&#8722;2</text>
<line x1="415.55" y1="564" x2="415.55" y2="566.2" stroke="#222" stroke-width="0.8"/>
<text x="415.55" y="574.98" font-size="6.6" text-anchor="middle" fill="#333">&#8722;1</text>
<line x1="432.1" y1="564" x2="432.1" y2="566.2" stroke="#222" stroke-width="0.8"/>
<text x="432.1" y="574.98" font-size="6.6" text-anchor="middle" fill="#333">0</text>
<line x1="448.65" y1="564" x2="448.65" y2="566.2" stroke="#222" stroke-width="0.8"/>
<text x="448.65" y="574.98" font-size="6.6" text-anchor="middle" fill="#333">1</text>
<line x1="465.2" y1="564" x2="465.2" y2="566.2" stroke="#222" stroke-width="0.8"/>
<text x="465.2" y="574.98" font-size="6.6" text-anchor="middle" fill="#333">2</text>
<text x="392.9" y="492" font-size="6.4" text-anchor="end" fill="#333">PKMYT1</text>
<text x="392.9" y="502.9" font-size="6.4" text-anchor="end" fill="#333">CEP192</text>
<text x="392.9" y="513.8" font-size="6.4" text-anchor="end" fill="#333">MDC1</text>
<text x="392.9" y="525.4" font-size="6.4" text-anchor="end" fill="#333">TP53BP1</text>
<text x="392.9" y="536.1" font-size="6.4" text-anchor="end" fill="#333">CLSPN</text>
<text x="392.9" y="546.6" font-size="6.4" text-anchor="end" fill="#333">CHAF1B</text>
<text x="392.9" y="558.2" font-size="6.4" text-anchor="end" fill="#333">CHAF1A</text>
<rect x="472.2" y="492.5" width="5.2" height="5.4" fill="#cdcdcf"/>
<text x="480.4" y="497.5" font-size="6.4" fill="#333">shNT</text>
<rect x="472.2" y="502.5" width="5.2" height="5.4" fill="#c8102e"/>
<text x="480.4" y="507.5" font-size="6.4" fill="#333">shASF1A</text>
<rect x="472.2" y="511.7" width="5.2" height="5.4" fill="#1d4a87"/>
<text x="480.4" y="516.7" font-size="6.4" fill="#333">shASF1B</text>
<rect x="472.2" y="521.3" width="5.2" height="5.4" fill="#9b94cd"/>
<text x="480.4" y="526.3" font-size="6.4" fill="#333">shASF1A/B</text>
<rect x="472.2" y="531.7" width="5.2" height="5.4" fill="#ea8f14"/>
<text x="480.4" y="536.7" font-size="6.4" fill="#333">shTLK1</text>
<rect x="472.2" y="541.4" width="5.2" height="5.4" fill="#2aa5df"/>
<text x="480.4" y="546.4" font-size="6.4" fill="#333">shTLK2</text>
<rect x="472.2" y="551.5" width="5.2" height="5.4" fill="#136b55"/>
<text x="480.4" y="556.5" font-size="6.4" fill="#333">shTLK1/2</text>
<text x="248.2" y="601.9" font-size="11.5" font-weight="bold" fill="#111">F</text>
<text x="307.4" y="598.6" font-size="6.4" text-anchor="middle" fill="#333">shNT</text>
<line x1="291.8" y1="602.6" x2="323.6" y2="602.6" stroke="#333" stroke-width="0.9"/>
<text x="357.5" y="598.6" font-size="6.4" text-anchor="middle" fill="#333">shTLK1/2</text>
<line x1="341.6" y1="602.6" x2="374" y2="602.6" stroke="#333" stroke-width="0.9"/>
<text x="408.5" y="598.6" font-size="6.4" text-anchor="middle" fill="#333">shASF1A/B</text>
<line x1="392" y1="602.6" x2="425.3" y2="602.6" stroke="#333" stroke-width="0.9"/>
<text x="296.4" y="610.96" font-size="6" text-anchor="middle" fill="#333">&#8211;</text>
<text x="320.6" y="610.96" font-size="6" text-anchor="middle" fill="#333">+</text>
<text x="347" y="610.96" font-size="6" text-anchor="middle" fill="#333">&#8211;</text>
<text x="371.3" y="610.96" font-size="6" text-anchor="middle" fill="#333">+</text>
<text x="396.7" y="610.96" font-size="6" text-anchor="middle" fill="#333">&#8211;</text>
<text x="420.4" y="610.96" font-size="6" text-anchor="middle" fill="#333">+</text>
<text x="442.2" y="612.5" font-size="6.4" fill="#333">Dox</text>
<defs><filter id="bl0" x="-20%" y="-60%" width="140%" height="220%"><feGaussianBlur stdDeviation="0.5"/></filter><filter id="bl1" x="-20%" y="-60%" width="140%" height="220%"><feGaussianBlur stdDeviation="1.0"/></filter><filter id="bl2" x="-20%" y="-60%" width="140%" height="220%"><feGaussianBlur stdDeviation="1.6"/></filter></defs>
<clipPath id="cb1"><rect x="283.6" y="614.6" width="155.39999999999998" height="18.399999999999977"/></clipPath>
<rect x="283.6" y="614.6" width="155.4" height="18.4" fill="#8a8a8a"/>
<g clip-path="url(#cb1)">
<rect x="408" y="612" width="34" height="24" fill="#b2b2b2" filter="url(#bl1)"/>
<ellipse cx="296.4" cy="624.8" rx="10.5" ry="1.7" fill="#2e2e2e" opacity="0.8" filter="url(#bl1)"/>
<ellipse cx="320.6" cy="624.8" rx="10.5" ry="1.7" fill="#2e2e2e" opacity="0.8" filter="url(#bl1)"/>
<ellipse cx="347" cy="624.8" rx="10.5" ry="1.7" fill="#2e2e2e" opacity="0.8" filter="url(#bl1)"/>
<ellipse cx="371.3" cy="624.8" rx="10.5" ry="1.7" fill="#2e2e2e" opacity="0.95" filter="url(#bl1)"/>
<ellipse cx="397.7" cy="624.8" rx="10.5" ry="1.7" fill="#2e2e2e" opacity="0.8" filter="url(#bl1)"/>
<ellipse cx="421" cy="624.8" rx="8" ry="1.25" fill="#555" opacity="0.5" filter="url(#bl1)"/>
<ellipse cx="309" cy="623" rx="1.75" ry="11" fill="#b4b4b4" opacity="0.6" filter="url(#bl1)"/>
<ellipse cx="334" cy="623" rx="2" ry="11" fill="#bcbcbc" opacity="0.6" filter="url(#bl1)"/>
<ellipse cx="359" cy="623" rx="1.75" ry="11" fill="#b0b0b0" opacity="0.55" filter="url(#bl1)"/>
<ellipse cx="383.5" cy="623" rx="1.5" ry="11" fill="#aaa" opacity="0.5" filter="url(#bl1)"/>
<ellipse cx="421" cy="624.8" rx="8" ry="1.25" fill="#6a6a6a" opacity="0.6" filter="url(#bl1)"/>
<ellipse cx="397.5" cy="624.5" rx="9" ry="3" fill="#111" opacity="0.9" filter="url(#bl1)"/>
<ellipse cx="402" cy="623.5" rx="8.5" ry="15" fill="#050505" opacity="1" filter="url(#bl1)"/>
</g>
<rect x="283.6" y="614.6" width="155.4" height="18.4" fill="none" stroke="#111" stroke-width="1.1"/>
<clipPath id="cb2"><rect x="283.6" y="635.8" width="155.39999999999998" height="17.100000000000023"/></clipPath>
<rect x="283.6" y="635.8" width="155.4" height="17.1" fill="#939393"/>
<g clip-path="url(#cb2)">
<ellipse cx="296.4" cy="642.6" rx="9" ry="1.8" fill="#333" opacity="0.7" filter="url(#bl1)"/>
<ellipse cx="320.6" cy="643" rx="9" ry="1.5" fill="#555" opacity="0.35" filter="url(#bl1)"/>
<ellipse cx="347" cy="643" rx="9" ry="1.5" fill="#555" opacity="0.35" filter="url(#bl1)"/>
<ellipse cx="373" cy="642.8" rx="12.5" ry="2.75" fill="#050505" opacity="1" filter="url(#bl1)"/>
<ellipse cx="397.5" cy="643.3" rx="9.5" ry="1.8" fill="#2a2a2a" opacity="0.8" filter="url(#bl1)"/>
<ellipse cx="421" cy="643.3" rx="8" ry="1.7" fill="#2a2a2a" opacity="0.75" filter="url(#bl1)"/>
</g>
<rect x="283.6" y="635.8" width="155.4" height="17.1" fill="none" stroke="#111" stroke-width="1.1"/>
<clipPath id="cb3"><rect x="283.6" y="656.8" width="155.39999999999998" height="13.800000000000068"/></clipPath>
<rect x="283.6" y="656.8" width="155.4" height="13.8" fill="#dcdcdc"/>
<g clip-path="url(#cb3)">
<ellipse cx="296.4" cy="663.5" rx="11" ry="7" fill="#9a9a9a" opacity="0.7" filter="url(#bl2)"/>
<ellipse cx="320.6" cy="663.5" rx="11" ry="7" fill="#9a9a9a" opacity="0.7" filter="url(#bl2)"/>
<ellipse cx="347" cy="663.5" rx="11" ry="7" fill="#9a9a9a" opacity="0.7" filter="url(#bl2)"/>
<ellipse cx="371.3" cy="663.5" rx="11" ry="7" fill="#9a9a9a" opacity="0.7" filter="url(#bl2)"/>
<ellipse cx="396.7" cy="663.5" rx="11" ry="7" fill="#9a9a9a" opacity="0.7" filter="url(#bl2)"/>
<ellipse cx="420.4" cy="663.5" rx="11" ry="7" fill="#9a9a9a" opacity="0.7" filter="url(#bl2)"/>
<ellipse cx="296.4" cy="663.8" rx="9" ry="1.9" fill="#2a2a2a" opacity="0.85" filter="url(#bl1)"/>
<ellipse cx="320.6" cy="664" rx="8" ry="1.6" fill="#3a3a3a" opacity="0.7" filter="url(#bl1)"/>
<ellipse cx="347" cy="663.8" rx="9" ry="1.9" fill="#2a2a2a" opacity="0.85" filter="url(#bl1)"/>
<ellipse cx="373.5" cy="663.5" rx="11" ry="6.5" fill="#000" opacity="1" filter="url(#bl1)"/>
<ellipse cx="399.5" cy="663.8" rx="11" ry="3" fill="#0a0a0a" opacity="0.95" filter="url(#bl1)"/>
<ellipse cx="421" cy="664" rx="6" ry="1.25" fill="#666" opacity="0.45" filter="url(#bl1)"/>
</g>
<rect x="283.6" y="656.8" width="155.4" height="13.8" fill="none" stroke="#111" stroke-width="1.1"/>
<clipPath id="cb4"><rect x="283.6" y="673.0" width="155.39999999999998" height="17.799999999999955"/></clipPath>
<rect x="283.6" y="673" width="155.4" height="17.8" fill="#f4f4f4"/>
<g clip-path="url(#cb4)">
<rect x="284.2" y="680" width="24.5" height="2.7" fill="#1c1c1c" filter="url(#bl0)"/>
<rect x="308.4" y="680.5" width="24.5" height="2.7" fill="#1c1c1c" filter="url(#bl0)"/>
<rect x="334.8" y="680.6" width="24.5" height="2.7" fill="#1c1c1c" filter="url(#bl0)"/>
<rect x="359.1" y="680.4" width="24.5" height="2.7" fill="#1c1c1c" filter="url(#bl0)"/>
<rect x="384.5" y="680.5" width="24.5" height="2.7" fill="#1c1c1c" filter="url(#bl0)"/>
<rect x="408.2" y="680.3" width="24.5" height="2.7" fill="#1c1c1c" filter="url(#bl0)"/>
</g>
<rect x="283.6" y="673.0" width="155.4" height="17.8" fill="none" stroke="#111" stroke-width="1.1"/>
<text x="279.8" y="620.2" font-size="6.4" text-anchor="end" fill="#333">55</text>
<text x="279.8" y="631.2" font-size="6.4" text-anchor="end" fill="#333">35</text>
<text x="279.8" y="640.7" font-size="6.4" text-anchor="end" fill="#333">25</text>
<text x="279.8" y="652.8" font-size="6.4" text-anchor="end" fill="#333">10</text>
<text x="279.8" y="661.4" font-size="6.4" text-anchor="end" fill="#333">25</text>
<text x="279.8" y="667.6" font-size="6.4" text-anchor="end" fill="#333">15</text>
<text x="279.8" y="678.9" font-size="6.4" text-anchor="end" fill="#333">55</text>
<text x="279.8" y="690.3" font-size="6.4" text-anchor="end" fill="#333">35</text>
<text x="443.2" y="626.34" font-size="6.5" fill="#333">pRPA S4/8</text>
<text x="443.2" y="646.64" font-size="6.5" fill="#333">&#947;H2AX</text>
<text x="443.2" y="665.54" font-size="6.5" fill="#333">P21</text>
<text x="443.2" y="683.54" font-size="6.5" fill="#333">GAPDH</text>
<text x="7" y="329.3" font-size="11.5" font-weight="bold" fill="#111">B</text>
<text x="136.7" y="326.82" font-size="8.4" text-anchor="middle" fill="#333">Cell Cycle</text>
<line x1="47.5" y1="332.2" x2="226.5" y2="332.2" stroke="#6a89a3" stroke-width="1.3"/>
<text x="88" y="341.14" font-size="6.5" text-anchor="middle" fill="#333">Global</text>
<text x="191.4" y="341.14" font-size="6.5" text-anchor="middle" fill="#333">Phospho</text>
<text x="136.7" y="451.82" font-size="8.4" text-anchor="middle" fill="#333">DNA Repair</text>
<line x1="47.5" y1="457.4" x2="226.5" y2="457.4" stroke="#6a89a3" stroke-width="1.3"/>
<text x="88" y="465.84" font-size="6.5" text-anchor="middle" fill="#333">Global</text>
<text x="191.4" y="465.84" font-size="6.5" text-anchor="middle" fill="#333">Phospho</text>
<line x1="47.9" y1="345.4" x2="47.9" y2="425" stroke="#222" stroke-width="1.1"/>
<line x1="47.9" y1="425" x2="125.7" y2="425" stroke="#222" stroke-width="1.1"/>
<line x1="45.7" y1="347.4" x2="47.9" y2="347.4" stroke="#222" stroke-width="0.8"/>
<text x="44.3" y="349.78" font-size="6.6" text-anchor="end" fill="#333">2</text>
<line x1="45.7" y1="367" x2="47.9" y2="367" stroke="#222" stroke-width="0.8"/>
<text x="44.3" y="369.38" font-size="6.6" text-anchor="end" fill="#333">1</text>
<line x1="45.7" y1="386.6" x2="47.9" y2="386.6" stroke="#222" stroke-width="0.8"/>
<text x="44.3" y="388.98" font-size="6.6" text-anchor="end" fill="#333">0</text>
<line x1="45.7" y1="405.8" x2="47.9" y2="405.8" stroke="#222" stroke-width="0.8"/>
<text x="44.3" y="408.18" font-size="6.6" text-anchor="end" fill="#333">&#8722;1</text>
<line x1="45.7" y1="425" x2="47.9" y2="425" stroke="#222" stroke-width="0.8"/>
<text x="44.3" y="427.38" font-size="6.6" text-anchor="end" fill="#333">&#8722;2</text>
<line x1="47.9" y1="425" x2="47.9" y2="427.2" stroke="#222" stroke-width="0.8"/>
<text x="47.9" y="437.08" font-size="6.6" text-anchor="middle" fill="#333">&#8722;2</text>
<line x1="67" y1="425" x2="67" y2="427.2" stroke="#222" stroke-width="0.8"/>
<text x="67" y="437.08" font-size="6.6" text-anchor="middle" fill="#333">&#8722;1</text>
<line x1="86.3" y1="425" x2="86.3" y2="427.2" stroke="#222" stroke-width="0.8"/>
<text x="86.3" y="437.08" font-size="6.6" text-anchor="middle" fill="#333">0</text>
<line x1="105.5" y1="425" x2="105.5" y2="427.2" stroke="#222" stroke-width="0.8"/>
<text x="105.5" y="437.08" font-size="6.6" text-anchor="middle" fill="#333">1</text>
<line x1="124.7" y1="425" x2="124.7" y2="427.2" stroke="#222" stroke-width="0.8"/>
<text x="124.7" y="437.08" font-size="6.6" text-anchor="middle" fill="#333">2</text>
<line x1="49.4" y1="386.6" x2="125.2" y2="386.6" stroke="#111" stroke-width="0.9" stroke-dasharray="1.1,1.1"/>
<line x1="63" y1="400.8" x2="115.3" y2="369.7" stroke="#3f6f9c" stroke-width="0.9"/>
<line x1="63" y1="402" x2="115.3" y2="369.94" stroke="#3f6f9c" stroke-width="0.5" opacity="0.6"/>
<path d="M95.1 380.8h0M85.6 388.9h0M80.1 391.8h0M83.4 386.2h0M91.9 385.0h0M81.0 390.9h0M87.9 386.0h0M82.2 387.6h0M88.6 386.3h0M85.3 385.3h0M95.4 381.8h0M84.4 392.8h0M83.4 386.8h0M80.4 387.2h0M91.2 383.5h0M81.3 393.0h0M75.2 396.1h0M71.6 396.3h0M78.8 395.5h0M95.7 380.7h0M90.1 384.7h0M87.9 385.1h0M72.8 393.3h0M89.4 389.9h0M86.2 386.7h0M97.1 380.8h0M85.9 388.4h0M83.9 388.6h0M76.5 395.2h0M85.5 390.5h0M81.0 387.5h0M85.9 391.2h0M81.8 388.9h0M76.6 392.1h0M82.1 388.2h0M94.1 381.8h0M87.0 390.0h0M94.2 381.9h0M87.7 388.1h0M82.2 387.0h0M89.9 386.9h0M86.8 385.5h0M83.3 388.5h0M84.3 391.5h0M95.1 383.0h0M89.0 387.1h0M84.9 388.5h0M80.8 391.3h0M99.8 380.2h0M82.5 389.3h0M80.0 392.6h0M86.1 384.9h0M87.5 385.7h0M94.0 382.7h0M95.3 380.7h0M83.5 390.1h0M92.1 384.8h0M77.5 393.9h0M84.8 387.8h0M82.5 393.5h0M81.8 389.0h0M89.1 386.0h0M85.2 389.9h0M88.4 386.9h0M91.2 384.8h0M80.8 390.6h0M81.9 391.0h0M76.7 390.6h0M84.4 386.4h0M73.2 397.2h0M81.0 392.1h0M80.7 389.2h0M76.8 393.0h0M82.6 388.6h0M81.9 387.6h0M83.5 386.1h0M84.4 390.2h0M93.3 386.2h0M76.0 396.0h0M93.4 384.7h0M79.6 392.9h0M95.2 378.7h0M89.0 388.0h0M81.2 392.2h0M77.6 391.9h0M80.1 392.2h0M85.3 390.1h0M79.0 392.3h0M91.5 385.2h0M77.4 394.9h0M82.4 391.0h0M88.0 388.9h0M84.1 385.6h0M77.1 395.2h0M84.4 391.1h0M86.0 386.4h0M91.0 382.9h0M74.1 399.8h0M73.7 397.4h0M91.0 384.8h0M75.4 396.9h0M74.8 392.8h0M83.5 391.1h0M87.6 388.3h0M82.1 390.1h0M77.6 392.8h0M88.4 385.6h0M87.4 385.7h0M81.4 391.0h0M84.3 390.1h0M87.7 390.1h0M83.4 389.1h0M78.6 392.9h0M88.6 384.7h0M85.3 389.7h0M83.7 388.3h0M91.1 384.5h0M88.5 388.4h0M91.8 383.2h0M82.0 391.1h0M82.5 386.5h0M92.9 383.2h0M88.5 383.9h0M92.5 382.3h0M83.1 387.1h0M83.8 388.9h0M84.2 389.9h0M86.2 389.5h0M81.2 389.1h0M85.4 389.4h0M93.5 384.4h0M74.4 396.4h0M94.1 382.5h0M82.1 391.1h0M82.4 391.5h0M86.2 390.4h0M87.5 385.4h0M89.6 387.2h0M81.1 390.3h0M71.5 399.4h0M79.4 388.1h0M73.8 395.6h0M89.6 385.2h0M86.9 385.1h0M77.5 395.3h0M88.0 386.4h0M92.1 381.9h0M83.3 391.6h0M96.4 380.8h0M94.9 380.7h0M86.9 386.9h0M75.4 395.5h0M90.7 384.4h0M85.8 390.6h0M75.9 391.8h0M79.9 389.7h0M93.6 383.3h0M79.1 391.3h0M102.2 375.7h0M80.5 392.1h0M89.2 386.1h0M78.3 390.8h0M88.7 385.9h0M75.8 396.9h0M89.6 384.9h0M83.6 389.9h0M79.5 389.6h0M85.7 385.2h0M86.1 384.9h0M84.3 388.7h0M95.1 379.6h0M75.6 393.6h0M77.5 392.4h0M88.3 387.8h0M94.7 380.6h0M103.2 380.1h0M81.7 386.3h0M84.5 388.9h0M70.8 398.2h0M83.1 388.3h0M89.8 387.2h0M82.2 390.8h0M80.2 390.2h0M86.0 388.9h0M79.5 387.9h0M87.2 383.9h0M87.4 390.3h0M83.8 387.0h0M77.0 396.2h0M85.4 389.3h0M90.7 384.6h0M82.2 388.5h0M64.5 399.4h0M84.4 388.6h0M87.4 386.6h0M86.7 388.9h0M79.2 391.8h0M75.9 396.5h0M85.7 389.0h0M95.6 383.5h0M85.3 389.8h0M76.5 395.1h0M84.4 385.8h0M92.7 382.0h0M88.9 385.1h0M92.4 386.1h0M78.5 390.0h0M84.9 390.2h0M82.1 389.2h0M85.6 382.8h0M79.6 389.5h0M86.2 386.3h0M77.7 392.7h0M75.9 394.6h0M80.4 390.9h0M81.4 392.7h0M84.8 389.7h0M87.3 385.4h0M88.9 386.6h0M86.6 386.7h0M83.0 391.3h0M97.8 378.2h0M88.0 385.8h0M90.3 385.8h0M89.1 380.3h0M80.4 389.7h0M83.7 388.0h0M81.6 392.1h0M94.3 376.8h0M83.3 390.2h0M84.7 388.0h0M75.7 392.9h0M90.5 386.9h0M84.9 387.0h0M85.4 387.8h0M88.5 386.4h0M81.3 391.4h0M78.4 394.5h0M91.3 382.0h0M86.7 385.4h0M92.5 385.2h0M84.5 390.8h0M81.7 389.5h0M81.3 390.7h0M83.1 390.1h0M81.9 392.1h0M90.9 383.6h0M76.8 395.4h0M91.9 383.5h0M77.2 394.2h0M92.8 379.6h0M87.7 386.1h0M80.1 392.7h0M77.2 394.3h0M93.3 383.2h0M78.0 389.8h0M75.4 391.4h0M94.7 381.5h0M77.3 391.2h0M78.1 392.5h0M78.5 396.1h0M79.7 390.6h0M88.2 389.1h0M92.8 382.3h0M86.7 387.6h0M88.5 386.6h0M78.0 390.8h0M85.0 386.2h0M93.5 382.8h0M78.3 392.4h0M81.7 390.5h0M89.6 382.6h0M73.7 396.8h0M84.0 389.5h0M87.6 386.4h0M89.2 384.0h0M84.7 387.1h0M78.5 394.1h0M86.8 383.5h0M78.3 393.6h0M91.1 383.1h0M82.6 387.4h0M101.0 378.6h0M91.2 385.6h0M91.3 385.4h0M83.6 390.9h0M86.7 389.9h0M79.9 390.9h0M90.3 387.4h0M85.3 386.9h0M83.8 388.3h0M97.6 381.7h0M93.1 383.6h0M82.6 392.4h0M95.8 382.3h0M85.8 390.0h0M83.4 391.1h0M79.7 390.2h0M88.8 386.6h0M96.6 380.1h0M84.1 386.9h0M71.8 394.0h0M86.8 385.0h0M93.3 385.7h0M84.7 391.9h0M87.4 389.0h0M84.5 390.7h0M79.7 393.3h0M82.0 390.3h0M89.1 386.1h0M85.2 389.8h0M88.8 383.3h0M89.1 387.0h0M80.7 392.2h0M78.1 396.0h0M83.5 389.4h0M92.3 383.3h0M87.8 384.6h0M80.2 389.0h0M84.6 390.7h0M87.2 388.7h0M77.8 391.6h0M82.6 391.2h0M87.2 387.0h0M88.7 385.7h0M86.0 390.3h0M81.5 391.2h0M95.1 381.9h0M88.9 384.7h0M95.2 377.3h0M77.0 391.9h0M95.4 382.2h0M82.2 387.9h0M87.4 387.1h0M79.4 389.4h0M78.3 393.4h0M87.0 387.3h0M82.5 386.8h0M84.4 386.9h0M85.7 388.9h0M79.9 390.0h0M91.5 384.8h0M78.4 387.2h0M85.3 389.5h0M91.4 382.9h0M80.6 390.6h0M89.2 383.4h0M83.5 387.7h0M85.3 385.3h0M86.9 386.3h0M84.1 390.1h0M90.6 381.5h0M91.7 385.0h0M84.4 391.6h0M87.3 389.4h0M80.5 389.8h0M94.6 386.2h0M89.7 387.0h0M80.9 388.7h0M84.9 391.4h0M73.0 395.6h0M73.2 396.7h0M89.3 383.2h0M83.6 392.0h0M83.3 387.2h0M75.0 391.3h0M89.1 384.3h0M92.3 385.2h0M80.4 390.6h0M90.0 385.4h0M85.2 385.2h0M89.8 383.6h0M70.3 397.2h0M89.5 389.5h0M81.5 388.3h0M98.3 379.8h0M82.4 388.2h0M80.1 394.7h0M82.8 388.9h0M83.2 392.7h0M81.9 391.8h0M86.9 387.7h0M80.1 393.1h0M95.0 381.7h0M78.1 390.6h0M85.9 387.3h0M84.4 389.0h0M76.5 395.7h0M86.4 387.4h0M87.3 388.8h0M84.6 387.1h0M91.9 383.0h0M79.1 389.5h0M84.1 387.1h0M82.2 391.3h0M86.1 389.7h0M86.5 386.7h0M82.5 389.2h0M89.0 385.8h0M83.2 391.3h0M85.2 387.5h0M76.0 395.4h0M86.5 387.6h0M81.6 389.2h0M83.8 389.8h0M84.1 388.8h0M82.4 390.9h0M85.8 386.5h0M90.4 386.4h0M89.9 384.9h0M82.8 387.8h0M87.8 382.5h0M82.3 389.7h0M90.3 384.9h0M77.7 390.7h0M80.6 391.7h0M85.2 388.0h0M80.6 391.1h0M90.2 382.9h0M86.7 390.5h0M88.6 383.7h0M89.0 381.8h0M88.0 395.7h0M99.4 370.2h0M96.1 393.2h0M79.0 393.4h0M98.4 377.8h0M88.5 386.0h0M64.9 402.1h0M84.4 394.1h0M107.5 379.4h0M81.3 393.2h0M88.7 392.2h0M66.1 392.6h0M64.3 403.9h0M82.2 386.3h0M75.0 390.9h0M73.6 393.2h0M82.3 398.0h0M85.3 383.5h0M80.9 397.7h0M89.4 387.6h0M95.5 391.5h0M69.5 393.1h0M67.1 401.6h0" stroke="#23508a" stroke-width="1.44" stroke-linecap="round" fill="none" opacity="1"/>
<line x1="63" y1="392.6" x2="115.3" y2="378.7" stroke="#d2506a" stroke-width="0.8"/>
<line x1="63" y1="393.8" x2="115.3" y2="378.94" stroke="#d2506a" stroke-width="0.5" opacity="0.6"/>
<path d="M82.8 388.1h0M82.3 391.8h0M84.0 388.0h0M89.6 384.7h0M81.7 396.8h0M83.0 388.4h0M81.7 389.8h0M89.0 389.5h0M87.1 387.5h0M78.8 392.0h0M92.4 389.0h0M84.9 391.1h0M83.3 389.5h0M79.4 390.2h0M85.5 388.4h0M89.9 392.0h0M90.5 386.2h0M81.3 388.7h0M80.8 390.6h0M87.0 388.8h0M86.0 389.1h0M83.8 387.5h0M93.3 388.6h0M80.3 388.4h0M82.5 390.0h0M91.3 389.3h0M90.5 389.8h0M90.4 388.9h0M86.9 388.0h0M77.4 391.5h0M92.3 384.9h0M83.1 392.3h0M85.0 387.8h0M92.2 388.0h0M87.8 386.5h0M87.5 389.1h0M89.3 390.4h0M90.0 387.6h0M87.0 385.3h0M88.3 389.5h0M82.7 387.9h0M83.7 386.4h0M86.7 389.1h0M80.9 390.6h0M90.5 389.7h0M89.2 387.1h0M83.2 388.7h0M89.5 393.4h0M92.4 390.4h0M89.5 383.2h0M83.8 388.3h0M91.8 390.8h0M82.2 390.1h0M87.0 387.0h0M81.7 388.5h0M88.1 385.6h0M90.0 387.4h0M89.5 391.3h0M81.4 388.2h0M86.0 386.0h0M81.8 389.9h0M84.7 385.9h0M83.8 390.9h0M89.2 382.5h0M91.4 388.9h0M79.1 387.4h0M86.5 387.4h0M86.3 390.7h0M83.5 389.9h0M87.8 390.3h0M94.0 390.1h0M85.8 388.1h0M95.7 386.7h0M85.9 385.9h0M87.7 386.0h0M81.9 386.7h0M82.8 390.0h0M77.8 389.3h0M83.6 386.3h0M78.9 389.1h0M79.5 392.6h0M81.4 392.3h0M88.0 384.9h0M84.8 387.9h0M79.8 390.0h0M84.5 391.0h0M88.5 384.9h0M83.7 390.8h0M88.1 381.7h0M90.4 386.6h0M91.3 385.6h0M81.5 390.4h0M90.1 387.2h0M75.4 394.2h0M77.3 389.3h0M78.5 386.7h0M78.8 388.7h0M82.3 389.8h0M82.3 386.2h0M85.0 391.5h0M89.2 387.8h0M88.4 390.0h0M92.3 390.7h0M83.4 388.9h0M92.6 390.2h0M89.7 381.3h0M81.4 382.0h0M88.2 388.0h0M85.1 388.6h0M90.4 386.3h0M89.9 388.6h0M86.9 389.5h0M84.6 386.4h0M88.7 389.5h0M85.0 390.9h0M87.8 384.7h0M84.0 388.2h0M81.4 391.2h0M81.0 389.3h0M86.3 389.4h0M88.2 393.5h0M83.0 390.4h0M80.2 392.0h0M91.0 389.9h0M82.0 389.4h0M90.4 386.8h0M88.3 385.3h0M91.8 389.1h0M86.4 386.5h0M84.4 389.6h0M86.1 388.3h0M84.2 389.8h0M89.4 382.3h0M77.8 387.7h0M80.6 386.2h0M87.5 388.3h0M83.3 387.9h0M85.8 389.2h0M85.8 386.8h0M86.6 384.7h0M87.9 380.1h0M81.4 387.2h0M87.2 384.4h0M91.6 382.7h0M94.1 386.8h0M85.5 389.9h0M95.2 387.6h0M76.3 395.2h0M84.7 385.0h0M87.3 385.1h0M86.0 389.2h0M82.7 391.5h0M80.7 391.0h0M82.5 389.4h0M93.4 386.2h0M80.2 390.4h0M81.7 390.3h0M85.8 388.9h0M84.9 387.6h0M87.8 390.7h0M82.3 389.8h0M86.3 391.7h0M89.1 385.7h0M84.1 385.5h0M80.8 390.6h0M88.5 390.2h0M82.5 386.4h0M86.6 388.0h0M87.0 388.7h0M88.6 389.4h0M88.3 386.6h0M88.9 386.3h0M86.9 393.1h0M85.6 385.8h0M92.3 388.9h0M90.1 387.7h0M86.3 387.9h0M83.2 393.6h0M83.0 388.5h0M84.6 393.9h0M88.5 386.8h0M85.2 390.2h0M87.5 384.0h0M88.7 387.1h0M81.7 389.2h0M89.9 391.7h0M86.1 390.0h0M81.9 391.4h0M87.3 384.3h0M83.4 391.6h0M77.1 390.9h0M86.2 384.2h0M83.3 389.7h0M87.8 384.7h0M90.0 387.9h0M91.1 389.7h0M86.9 389.6h0M76.4 388.7h0M80.4 389.8h0M87.6 383.5h0M82.5 386.5h0M79.5 394.8h0M86.8 392.5h0M89.4 385.1h0M78.7 396.6h0M82.3 387.1h0M88.1 388.2h0M81.8 389.3h0M85.8 388.9h0M88.0 387.0h0M84.0 390.9h0M87.3 391.0h0M83.8 389.2h0M81.2 394.2h0M79.1 391.6h0M81.4 391.2h0M86.9 384.1h0M82.6 385.4h0M90.7 385.8h0M77.6 389.9h0M91.9 390.3h0M89.8 385.2h0M85.7 392.9h0M81.6 389.4h0M79.9 387.9h0M90.7 388.5h0M87.4 389.6h0M90.7 390.8h0M84.7 388.2h0M81.5 393.1h0M81.5 386.4h0M83.9 389.5h0M89.4 390.0h0M81.2 388.3h0M82.6 386.8h0M84.9 390.2h0M83.9 385.3h0M80.9 393.8h0M81.2 392.3h0M87.5 387.3h0M80.9 391.0h0M81.0 390.0h0M84.9 387.2h0M83.8 388.7h0M79.5 390.5h0M80.7 385.9h0M83.3 388.9h0M80.7 385.3h0M88.9 389.3h0M88.1 388.7h0M79.7 391.3h0M82.8 395.4h0M83.3 391.3h0M77.3 388.8h0M83.3 391.4h0M87.6 388.8h0M77.9 394.5h0M82.3 394.1h0M93.7 387.9h0M88.2 384.6h0M96.3 385.4h0M88.6 385.5h0M83.7 386.4h0M84.0 389.4h0M87.3 391.7h0M87.3 388.8h0M86.8 393.5h0M83.5 392.6h0M75.8 390.1h0M86.6 388.0h0M100.1 390.1h0M77.6 389.0h0M85.8 393.1h0M90.2 387.9h0M78.2 389.3h0M72.1 389.8h0M87.5 390.1h0M79.5 391.3h0M92.2 386.8h0M84.2 390.9h0M87.4 388.4h0M82.4 388.9h0M85.0 387.6h0M91.5 388.9h0M91.4 391.9h0M93.0 389.7h0M86.5 388.0h0M94.4 383.9h0M81.6 388.0h0M86.3 389.6h0M89.3 386.9h0M77.8 392.4h0M89.3 387.5h0M84.9 390.5h0M91.2 386.6h0M78.4 390.0h0M82.8 385.2h0M87.7 386.1h0M87.4 388.6h0M85.0 393.2h0M82.0 388.4h0M87.0 390.4h0M84.2 386.8h0M88.5 389.3h0M93.8 385.2h0M85.5 387.4h0M78.6 391.5h0M87.8 385.4h0M81.1 387.4h0M90.3 385.5h0M86.8 386.1h0M84.8 387.5h0M74.9 392.9h0M85.6 383.5h0M83.9 388.3h0M80.1 390.1h0M76.8 392.6h0M89.1 384.3h0M85.9 392.3h0M85.1 387.6h0M81.2 390.8h0M84.9 390.6h0M79.3 393.8h0M83.8 391.1h0M80.8 387.2h0M81.8 387.7h0M83.9 391.1h0M89.8 387.8h0M82.3 388.8h0M88.5 390.6h0M83.5 389.2h0M81.9 390.6h0M86.8 380.9h0M85.7 387.4h0M75.2 393.4h0M84.9 390.0h0M80.8 396.0h0M85.2 388.1h0M92.1 388.1h0M89.6 390.3h0M77.4 396.0h0M83.7 390.2h0M88.4 385.9h0M87.0 390.2h0M85.2 390.2h0M77.1 388.8h0M80.3 391.6h0M101.4 383.7h0M84.3 389.1h0M89.8 389.1h0M80.9 393.1h0M85.6 390.9h0M75.1 388.6h0M86.1 384.0h0M87.0 389.1h0M85.9 389.6h0M86.5 389.6h0M83.2 389.6h0M98.6 387.0h0M88.0 388.9h0M82.0 390.7h0M84.7 391.5h0M79.1 385.1h0M83.1 391.5h0M96.5 387.4h0M80.6 390.0h0M80.7 390.1h0M79.8 386.7h0M87.1 388.7h0M84.5 390.0h0M93.9 386.1h0M84.1 391.5h0M78.5 393.3h0M81.0 388.4h0M86.8 392.6h0M82.6 392.3h0M85.5 385.3h0M88.3 385.7h0M78.0 389.5h0M82.3 391.5h0M83.1 393.5h0M85.4 387.0h0M81.6 390.8h0M74.4 387.3h0M81.7 391.8h0M85.8 388.8h0M82.3 384.4h0M82.1 385.5h0M88.6 387.7h0M84.9 390.0h0M86.6 389.0h0M86.0 387.1h0M79.5 391.9h0M92.1 389.0h0M84.6 390.7h0M83.4 390.6h0M82.5 390.3h0M94.3 387.6h0M90.8 384.9h0M82.0 390.0h0M87.2 387.7h0M88.9 386.2h0M91.7 389.0h0M80.7 392.1h0M84.9 391.7h0M82.9 390.5h0M85.1 381.9h0M77.0 392.2h0M85.3 391.5h0M84.9 385.8h0M85.8 386.8h0M83.6 388.2h0M85.3 385.2h0M78.3 385.7h0M93.4 383.4h0M80.3 387.8h0M81.9 389.0h0M87.8 388.4h0M85.9 387.2h0M85.7 391.9h0M85.2 389.7h0M76.6 393.4h0M87.2 391.5h0M73.1 393.4h0M84.5 389.4h0M82.4 390.5h0M88.0 388.0h0M83.5 389.0h0M83.3 389.7h0M80.2 385.6h0M89.3 382.9h0M83.3 386.2h0M82.8 387.3h0M84.0 387.2h0M79.5 391.7h0M90.9 387.7h0M84.4 386.4h0M84.8 390.1h0M82.7 392.0h0M84.9 389.8h0M82.2 388.6h0M86.1 389.5h0M85.4 386.1h0M81.6 390.1h0M77.6 394.2h0M86.2 388.6h0M82.3 391.9h0M85.1 393.7h0M85.2 385.0h0M87.5 386.6h0M82.3 389.2h0M84.4 389.7h0M88.4 388.8h0M80.5 387.1h0M81.5 391.0h0M89.9 391.7h0M79.0 391.3h0M83.4 388.4h0M85.1 388.2h0M83.0 387.9h0M87.3 390.7h0M91.3 385.2h0M79.9 390.0h0M81.9 392.6h0M81.2 390.4h0M78.6 390.3h0M86.8 392.1h0M82.0 390.9h0M74.7 389.5h0M80.8 389.1h0M87.1 389.7h0M78.2 392.7h0M81.4 394.9h0M86.2 388.8h0M83.9 389.2h0M84.1 387.4h0M88.1 388.4h0M87.9 387.6h0M87.0 386.2h0M99.5 381.7h0M83.5 391.8h0M89.3 385.2h0M76.3 388.4h0M79.7 388.7h0M84.8 391.5h0M88.8 385.9h0M87.7 390.1h0M90.6 386.4h0M82.1 391.8h0M90.8 385.4h0M94.5 389.8h0M82.2 385.8h0M81.8 389.1h0M85.6 384.4h0M97.1 390.4h0M80.0 385.9h0M84.3 390.2h0M91.1 388.4h0M82.2 384.8h0M87.5 390.0h0M83.5 390.1h0M85.3 388.1h0M79.9 391.5h0M79.7 394.3h0M81.2 391.5h0M81.8 391.0h0M84.2 390.5h0M79.9 386.5h0M83.1 388.6h0M77.6 389.8h0M77.5 391.8h0M83.0 389.6h0M96.0 385.2h0M86.7 389.8h0M83.5 387.8h0M89.3 389.9h0M71.9 393.2h0M82.7 388.2h0M89.5 385.8h0M87.9 386.4h0M83.4 391.2h0M81.3 389.7h0M79.1 388.7h0M88.2 389.1h0M78.7 388.1h0M95.1 383.5h0M81.2 391.5h0M80.9 389.3h0M89.3 389.8h0M84.8 392.3h0M83.8 388.6h0M84.3 388.3h0M87.1 388.8h0M81.4 390.6h0M81.8 388.5h0M84.8 391.5h0M86.8 391.4h0M91.3 386.4h0M81.3 388.1h0M86.5 390.5h0M90.4 383.5h0M89.5 389.9h0M95.3 385.5h0M83.2 385.6h0M80.3 387.7h0M79.5 388.5h0M77.9 391.2h0M86.9 390.1h0M85.1 391.5h0M88.0 383.9h0M82.4 386.6h0M80.6 390.9h0M85.3 392.5h0M93.9 386.7h0M83.7 388.9h0M85.1 390.3h0M82.0 391.4h0M84.5 391.7h0M92.0 390.7h0M82.9 386.2h0M77.2 391.0h0M77.2 387.5h0M82.4 387.3h0M89.3 392.3h0M84.0 390.0h0M78.1 391.9h0M80.8 387.6h0M78.0 395.5h0M76.8 388.8h0M85.0 389.6h0M86.1 388.8h0M81.5 392.1h0M84.4 385.4h0M91.4 385.7h0M87.7 384.2h0M79.2 389.6h0M82.6 392.3h0M77.9 391.9h0M80.8 391.7h0M85.3 387.4h0M94.4 385.4h0M88.5 384.3h0M84.4 389.4h0M85.1 388.0h0M78.7 383.3h0M81.6 387.8h0M84.4 391.3h0M94.9 386.7h0M89.8 388.8h0M88.5 389.2h0M83.5 388.7h0M87.8 392.5h0M89.6 391.4h0M79.5 391.6h0M87.1 389.5h0M77.5 387.0h0M75.4 391.4h0M95.3 385.8h0M80.0 391.7h0M83.8 389.9h0M81.9 386.8h0M83.3 391.4h0M87.3 391.3h0M81.2 393.1h0M85.4 389.3h0M90.3 386.8h0M86.7 390.1h0M88.5 389.8h0M91.1 388.2h0M85.2 395.2h0M85.3 389.9h0M80.1 385.3h0M81.9 390.4h0M87.5 388.3h0M89.4 390.0h0M89.5 387.5h0M85.4 388.4h0M82.6 393.6h0M79.8 390.8h0M84.4 383.8h0M88.1 387.1h0M85.9 387.9h0M78.7 391.9h0M86.5 391.1h0M85.9 384.5h0M90.6 389.1h0M88.9 388.9h0M82.6 391.3h0M86.0 396.1h0M83.3 386.9h0M84.9 392.8h0M80.8 384.4h0M91.8 387.5h0M83.7 391.4h0M80.3 387.8h0M88.9 386.4h0M87.5 388.2h0M88.9 388.0h0M76.9 393.8h0M83.9 391.8h0M86.9 392.1h0M82.2 384.9h0M84.3 390.7h0M83.4 388.5h0M91.5 386.4h0M89.9 387.7h0M78.2 389.2h0M84.1 390.2h0M80.5 387.1h0M80.4 389.4h0M80.9 389.1h0M93.5 386.7h0M81.7 390.3h0M92.6 388.0h0M83.6 386.1h0M77.6 390.9h0M83.4 385.5h0M79.4 391.0h0M74.2 388.6h0M85.4 390.4h0M87.4 390.8h0M92.7 388.6h0M85.8 394.2h0M93.2 388.5h0M82.0 391.2h0M75.9 391.6h0M74.1 392.0h0M89.7 387.5h0M92.2 386.5h0M85.4 388.2h0M87.5 388.1h0M91.8 390.8h0M86.0 385.9h0M88.8 391.2h0M88.3 388.7h0M90.4 390.5h0M75.2 396.6h0M89.0 388.9h0M83.1 390.4h0M86.7 384.7h0M88.6 388.0h0M92.2 388.3h0M84.6 389.4h0M88.2 388.4h0M87.1 386.6h0M79.4 389.7h0M78.5 389.5h0M85.5 384.8h0M80.6 392.6h0M83.0 389.9h0M79.1 388.6h0M85.3 393.2h0M85.9 384.6h0M88.0 390.4h0M87.3 385.2h0M86.8 393.9h0M81.5 391.3h0M81.0 387.4h0M84.3 392.0h0M89.6 385.2h0M82.5 387.8h0M76.8 393.7h0M93.3 390.0h0M84.4 392.8h0M89.8 386.6h0M85.0 388.2h0M87.9 392.8h0M80.4 387.8h0M89.2 387.8h0M76.4 389.7h0M81.3 389.0h0M87.6 390.8h0M84.8 389.6h0M83.0 392.5h0M91.0 386.3h0M83.9 394.9h0M88.7 385.6h0M77.8 391.1h0M90.1 385.9h0M83.9 388.3h0M89.4 391.2h0M79.7 390.4h0M84.0 388.0h0M80.9 392.8h0M86.7 390.4h0M91.7 385.8h0M87.4 387.3h0M85.3 389.9h0M83.5 385.9h0M92.1 387.0h0M78.7 385.9h0M85.9 390.6h0M90.7 390.0h0M84.3 391.1h0M78.9 391.8h0M88.9 386.2h0M84.8 389.6h0M87.3 392.2h0M81.9 393.8h0M79.5 389.5h0M82.0 390.1h0M83.7 390.9h0M87.3 394.0h0M86.9 387.9h0M87.6 389.8h0M83.7 386.8h0M82.1 390.7h0M89.5 388.8h0M85.6 390.5h0M83.5 390.4h0M92.5 389.3h0M91.0 386.1h0M85.5 386.5h0M89.1 386.7h0M79.3 390.0h0M84.7 383.7h0M80.1 393.5h0M85.8 388.8h0M79.8 395.2h0M90.5 389.0h0M81.1 392.1h0M90.1 386.5h0M84.0 388.4h0M87.8 387.6h0M82.9 386.3h0M79.0 393.8h0M92.9 388.5h0M91.1 385.6h0M85.5 390.0h0M86.1 393.1h0M79.2 389.8h0M83.3 388.0h0M87.4 383.2h0M91.1 389.3h0M87.9 391.7h0M95.7 385.8h0M88.9 388.8h0M87.3 387.1h0M82.8 391.6h0M84.0 392.0h0M88.5 386.8h0M87.1 388.7h0M85.8 391.8h0M85.9 389.5h0M77.6 393.5h0M79.0 390.5h0M93.9 390.6h0M82.8 386.9h0M86.9 387.5h0M85.9 385.5h0M91.6 390.8h0M78.7 389.6h0M83.1 391.8h0M77.2 392.6h0M83.9 387.6h0M87.0 383.6h0M79.0 389.5h0M88.3 387.2h0M82.4 391.5h0M83.0 388.4h0M84.5 390.3h0M96.3 382.4h0M86.7 388.3h0M85.7 392.9h0M89.5 389.4h0M83.0 387.9h0M86.7 388.0h0M83.7 391.5h0M79.8 389.3h0M89.0 387.7h0M87.8 386.1h0M88.1 386.4h0M92.2 388.7h0M89.0 391.8h0M86.7 387.1h0M92.7 387.4h0M91.1 387.5h0M90.0 385.3h0M79.1 387.9h0M87.4 383.5h0M76.9 388.7h0M87.1 389.7h0M82.9 392.2h0M88.2 391.3h0M89.3 386.1h0M86.5 388.4h0M88.0 388.8h0M86.5 390.7h0M86.7 390.7h0M85.9 388.7h0M90.6 389.8h0M91.7 388.6h0M85.1 389.9h0M85.1 384.9h0M82.2 394.3h0M83.3 382.8h0M85.5 389.7h0M82.4 396.2h0M91.4 389.2h0M85.4 390.5h0M89.9 388.9h0M83.1 390.6h0M86.6 389.6h0M81.5 391.3h0M86.0 389.6h0M85.5 385.5h0M90.1 389.4h0M79.9 391.0h0M81.7 389.4h0M90.5 388.7h0M94.3 386.2h0M81.0 391.1h0M76.6 396.9h0M87.1 389.7h0M85.6 386.9h0M84.4 387.5h0M83.6 390.6h0M81.7 394.6h0M81.6 392.6h0M81.7 387.3h0M87.2 388.8h0M84.3 389.3h0M83.0 391.0h0M83.2 389.8h0M88.9 384.3h0M82.2 388.4h0M80.6 387.2h0M84.1 389.8h0M83.3 385.6h0M88.6 389.5h0M84.6 386.7h0M83.0 394.7h0M92.8 387.4h0M82.2 393.3h0M87.2 392.5h0M82.9 391.0h0M84.7 391.0h0M83.0 392.1h0M82.6 387.6h0M87.7 388.6h0M75.9 392.2h0M85.6 389.3h0M93.3 384.4h0M83.6 385.2h0M78.3 390.0h0M84.3 388.8h0M88.3 389.6h0M89.2 387.1h0M86.5 386.6h0M86.9 389.5h0M80.2 382.6h0M84.3 395.8h0M84.1 387.7h0M86.4 391.3h0M86.3 388.0h0M79.2 390.3h0M80.1 391.7h0M92.3 389.0h0M81.6 387.7h0M79.3 392.2h0M88.1 389.9h0M85.4 385.7h0M77.6 394.5h0M82.9 394.6h0M74.9 389.8h0M81.1 391.1h0M87.3 386.7h0M86.4 385.1h0M81.8 387.0h0M82.0 388.4h0M89.0 396.3h0M78.8 390.7h0M87.9 388.1h0M90.2 384.5h0M87.6 386.0h0M88.6 388.1h0M85.5 387.3h0M76.0 389.4h0M87.7 387.3h0M87.0 384.8h0M88.5 390.2h0M75.6 393.2h0M92.7 384.2h0M89.2 387.5h0M88.3 386.8h0M81.2 389.2h0M82.9 388.2h0M82.0 392.9h0M81.4 387.2h0M81.3 391.6h0M75.7 393.6h0M89.1 390.7h0M82.4 387.8h0M85.8 389.0h0M90.7 387.1h0M82.0 386.7h0M84.1 389.5h0M90.1 387.4h0M91.8 389.7h0M80.7 387.6h0M82.0 389.5h0M82.1 391.8h0M88.9 390.7h0M85.8 387.6h0M86.0 386.3h0M85.0 387.1h0M87.8 381.2h0M89.4 389.7h0M85.1 389.8h0M86.9 391.6h0M92.2 386.4h0M91.5 385.0h0M87.2 389.3h0M79.8 391.7h0M82.8 391.8h0M79.7 386.4h0M79.4 391.1h0M86.6 389.3h0M82.4 392.0h0M82.4 389.4h0M89.1 387.1h0M77.5 393.6h0M84.7 388.1h0M90.0 385.6h0M87.9 388.3h0M94.7 380.9h0M86.1 389.5h0M89.4 386.3h0M83.4 393.1h0M83.4 390.3h0M85.1 389.9h0M78.7 389.9h0M84.8 389.3h0M90.1 388.4h0M87.4 388.0h0M89.9 385.7h0M83.4 385.8h0M81.1 392.6h0M83.3 384.9h0M84.6 388.5h0M80.3 391.5h0M83.8 389.4h0M88.5 386.1h0M89.4 386.7h0M84.9 392.3h0M86.3 387.5h0M84.6 389.7h0M79.2 392.8h0M83.9 386.1h0M81.6 392.4h0M81.3 395.8h0M80.5 391.1h0M73.9 392.8h0M83.1 390.9h0M85.5 387.9h0M94.8 387.3h0M82.0 390.9h0M71.9 392.2h0M89.8 385.8h0M84.5 386.1h0M88.3 388.0h0M85.6 391.1h0M92.5 388.2h0M77.6 392.6h0M85.0 386.0h0M77.4 390.6h0M83.4 389.3h0M81.7 390.5h0M85.7 387.8h0M85.9 387.0h0M77.9 391.4h0M90.7 393.7h0M75.1 391.2h0M81.1 390.9h0M81.0 390.6h0M88.3 385.7h0M85.7 392.7h0M87.2 383.9h0M93.1 384.2h0M85.7 387.6h0M82.2 388.1h0M86.8 386.2h0M78.8 389.7h0M83.1 384.4h0M87.6 386.1h0M89.0 390.9h0M86.6 389.7h0M82.3 388.2h0M76.4 391.5h0M80.5 384.5h0M87.2 392.0h0M87.5 391.0h0M82.8 387.1h0M84.8 388.1h0M80.7 393.1h0M85.0 387.2h0M85.5 388.3h0M88.8 391.6h0M81.1 387.3h0M92.7 392.2h0M81.4 387.9h0M79.6 390.8h0M85.1 388.2h0M87.8 385.8h0M81.2 387.1h0M91.7 389.2h0M89.8 385.0h0M90.9 387.5h0M88.4 389.2h0M83.3 389.1h0M77.8 390.2h0M82.9 386.7h0M86.3 391.7h0M82.0 387.6h0M81.4 390.7h0M92.6 386.6h0M84.1 386.1h0M86.8 389.9h0M83.1 389.6h0M82.6 391.7h0M91.0 387.7h0M87.1 388.3h0M81.5 388.3h0M83.2 389.9h0M85.7 391.3h0M89.3 391.2h0M88.0 387.2h0M84.0 385.2h0M91.6 385.1h0M84.6 393.7h0M79.8 389.3h0M84.2 387.8h0M85.5 389.4h0M87.6 387.8h0M87.6 387.2h0M88.5 390.7h0M77.3 391.2h0M84.2 384.5h0M72.1 394.5h0M82.8 391.8h0M84.9 389.0h0M83.5 389.8h0M80.6 389.3h0M88.1 387.2h0M87.1 388.2h0M82.7 387.4h0M87.9 385.8h0M85.3 384.9h0M86.4 389.4h0M80.9 386.4h0M84.4 389.5h0M82.1 388.3h0M88.8 387.3h0M83.8 391.5h0M84.3 387.5h0M88.4 386.8h0M88.4 386.0h0M87.3 391.3h0M87.3 389.4h0M87.6 390.2h0M85.7 389.9h0M85.5 393.7h0M81.9 392.2h0M81.2 391.7h0M89.7 384.5h0M91.7 384.1h0M81.7 391.0h0M81.1 392.9h0M84.8 382.2h0M78.3 389.6h0M85.9 386.0h0M82.4 391.5h0M80.9 391.2h0M79.9 393.3h0M90.1 384.2h0M73.5 388.9h0M88.5 386.2h0M88.3 384.4h0M80.8 390.2h0M89.3 386.8h0M80.7 391.2h0M85.6 390.0h0M83.6 387.9h0M82.9 383.4h0M87.0 391.3h0M86.4 386.0h0M79.4 394.3h0M82.5 389.3h0M85.3 387.3h0M86.2 392.3h0M84.3 394.0h0M86.8 389.1h0M89.6 389.6h0M89.8 388.6h0M83.7 393.5h0M83.6 387.4h0M89.2 389.0h0M84.8 389.2h0M88.9 392.4h0M83.5 386.3h0M82.9 391.0h0M83.5 387.8h0M88.6 389.5h0M84.2 389.9h0M81.7 388.6h0M82.3 386.5h0M86.2 388.3h0M82.8 390.0h0M84.8 387.1h0M81.6 388.1h0M89.2 383.1h0M85.1 390.9h0M79.3 388.5h0M79.0 386.5h0M89.4 386.6h0M79.2 389.2h0M84.9 387.9h0M80.9 391.4h0M80.2 389.4h0M84.4 387.0h0M84.0 387.3h0M95.3 383.8h0M86.4 385.9h0M79.3 390.3h0M82.4 388.7h0M84.7 390.9h0M93.9 390.4h0M85.8 392.9h0M90.8 384.8h0M81.9 389.4h0M92.3 385.5h0M84.1 392.3h0M83.0 388.8h0M86.6 388.3h0M72.5 389.8h0M85.7 384.5h0M89.0 386.8h0M85.1 389.1h0M75.6 390.0h0M79.5 391.0h0M90.2 386.0h0M82.6 384.4h0M82.0 388.9h0M83.5 390.5h0M89.8 386.6h0M84.3 384.8h0M86.5 388.0h0M76.7 392.3h0M81.9 392.1h0M85.9 388.3h0M91.1 385.8h0M82.6 389.4h0M83.7 386.8h0M86.7 388.9h0M80.4 386.2h0M90.2 389.9h0M88.7 389.7h0M92.1 386.9h0M91.1 386.1h0M80.7 390.3h0M83.5 390.5h0M92.6 387.0h0M90.7 392.1h0M92.3 386.3h0M83.4 394.8h0M78.5 386.6h0M77.0 394.7h0M78.1 390.7h0M85.1 392.1h0M78.8 391.2h0M87.1 391.6h0M83.9 389.9h0M84.4 391.8h0M88.4 386.6h0M85.8 384.8h0M84.3 386.9h0M83.7 391.9h0M94.2 386.1h0M83.9 388.4h0M87.8 387.4h0M90.3 390.9h0M87.2 387.1h0M87.5 386.2h0M78.1 394.3h0M94.2 388.9h0M80.5 381.9h0M82.1 391.5h0M84.2 392.7h0M81.7 391.4h0M85.9 389.2h0M78.6 390.9h0M85.5 387.6h0M78.7 389.9h0M80.8 391.2h0M89.1 388.2h0M86.1 388.0h0M83.9 384.3h0M85.7 390.8h0M82.9 391.3h0M78.2 391.4h0M84.2 390.3h0M87.1 393.7h0M69.7 390.7h0M81.8 390.2h0M81.3 388.4h0M76.7 388.4h0M82.1 393.8h0M83.4 396.5h0M89.0 386.6h0M89.0 390.0h0M78.1 387.2h0M90.2 384.5h0M88.9 389.1h0M77.9 393.1h0M88.1 391.0h0M84.9 390.0h0M86.1 387.8h0M92.5 388.6h0M91.6 387.3h0M88.9 384.9h0M82.8 392.2h0M83.3 388.4h0M84.0 385.1h0M85.8 389.8h0M82.3 386.9h0M92.6 387.1h0M79.7 389.2h0M76.2 387.6h0M75.6 390.1h0M87.1 390.0h0M85.0 391.4h0M86.1 385.4h0M81.2 390.9h0M88.5 390.3h0M77.1 386.7h0M93.2 385.1h0M89.0 387.5h0M79.8 394.3h0M87.9 391.6h0M86.5 385.8h0M85.4 391.3h0M81.9 390.5h0M88.8 384.3h0M83.3 390.0h0M88.9 387.2h0M82.1 391.4h0M82.5 390.9h0M86.2 388.0h0M89.5 390.3h0M79.6 392.2h0M83.9 388.6h0M86.2 391.5h0M83.9 388.5h0M79.3 390.6h0M84.1 386.8h0M84.0 390.5h0M90.7 386.2h0M94.4 388.1h0M89.2 389.0h0M84.9 387.4h0M84.5 389.6h0M89.1 397.6h0M105.4 387.0h0M93.9 382.5h0M66.0 393.7h0M89.9 396.6h0M109.2 384.4h0M99.8 392.2h0M88.9 393.4h0M91.7 397.2h0M71.8 378.5h0M88.3 394.2h0M94.9 383.2h0M89.9 384.0h0M91.1 383.1h0M76.8 397.4h0M71.3 383.9h0M93.5 387.7h0M65.2 402.0h0M73.1 389.8h0M87.7 401.2h0M86.9 394.5h0M85.2 392.5h0M72.1 392.9h0M78.2 384.9h0M90.2 394.5h0M89.8 386.1h0M91.1 380.9h0M89.6 391.4h0M84.5 388.0h0M86.0 385.6h0M84.7 394.0h0M69.1 401.4h0M90.5 389.3h0M75.4 389.4h0" stroke="#cc1236" stroke-width="1.44" stroke-linecap="round" fill="none" opacity="1"/>
<path d="M83.0 366.0h0M86.0 370.0h0M67.0 376.0h0M99.0 372.0h0M105.0 368.0h0M112.0 366.0h0M64.0 414.0h0M73.0 410.0h0M79.0 419.0h0" stroke="#23508a" stroke-width="1.44" stroke-linecap="round" fill="none" opacity="1"/>
<path d="M100.0 402.0h0M54.0 420.0h0M98.0 398.0h0M91.0 371.0h0M93.0 373.0h0M60.0 390.0h0" stroke="#cc1236" stroke-width="1.44" stroke-linecap="round" fill="none" opacity="1"/>
<text x="50.5" y="353.68" font-size="6.6" fill="#c2193f">0.42</text>
<text x="50.5" y="361.28" font-size="6.6" fill="#2e5c8e">0.71</text>
<text x="50.5" y="368.68" font-size="6.6" fill="#d8d8d8">0.26</text>
<line x1="151.3" y1="345.4" x2="151.3" y2="425" stroke="#222" stroke-width="1.1"/>
<line x1="151.3" y1="425" x2="229.3" y2="425" stroke="#222" stroke-width="1.1"/>
<line x1="149.1" y1="347.4" x2="151.3" y2="347.4" stroke="#222" stroke-width="0.8"/>
<text x="147.7" y="349.78" font-size="6.6" text-anchor="end" fill="#333">4</text>
<line x1="149.1" y1="367" x2="151.3" y2="367" stroke="#222" stroke-width="0.8"/>
<text x="147.7" y="369.38" font-size="6.6" text-anchor="end" fill="#333">2</text>
<line x1="149.1" y1="386.6" x2="151.3" y2="386.6" stroke="#222" stroke-width="0.8"/>
<text x="147.7" y="388.98" font-size="6.6" text-anchor="end" fill="#333">0</text>
<line x1="149.1" y1="405.8" x2="151.3" y2="405.8" stroke="#222" stroke-width="0.8"/>
<text x="147.7" y="408.18" font-size="6.6" text-anchor="end" fill="#333">&#8722;2</text>
<line x1="149.1" y1="425" x2="151.3" y2="425" stroke="#222" stroke-width="0.8"/>
<text x="147.7" y="427.38" font-size="6.6" text-anchor="end" fill="#333">&#8722;4</text>
<line x1="151.3" y1="425" x2="151.3" y2="427.2" stroke="#222" stroke-width="0.8"/>
<text x="151.3" y="437.08" font-size="6.6" text-anchor="middle" fill="#333">&#8722;4</text>
<line x1="170.7" y1="425" x2="170.7" y2="427.2" stroke="#222" stroke-width="0.8"/>
<text x="170.7" y="437.08" font-size="6.6" text-anchor="middle" fill="#333">&#8722;2</text>
<line x1="190" y1="425" x2="190" y2="427.2" stroke="#222" stroke-width="0.8"/>
<text x="190" y="437.08" font-size="6.6" text-anchor="middle" fill="#333">0</text>
<line x1="209.2" y1="425" x2="209.2" y2="427.2" stroke="#222" stroke-width="0.8"/>
<text x="209.2" y="437.08" font-size="6.6" text-anchor="middle" fill="#333">2</text>
<line x1="228.4" y1="425" x2="228.4" y2="427.2" stroke="#222" stroke-width="0.8"/>
<text x="228.4" y="437.08" font-size="6.6" text-anchor="middle" fill="#333">4</text>
<line x1="152.8" y1="386.6" x2="228.8" y2="386.6" stroke="#111" stroke-width="0.9" stroke-dasharray="1.1,1.1"/>
<line x1="155.4" y1="411.9" x2="208.5" y2="369.4" stroke="#3f6f9c" stroke-width="0.9"/>
<line x1="155.4" y1="413.1" x2="208.5" y2="369.64" stroke="#3f6f9c" stroke-width="0.5" opacity="0.6"/>
<path d="M189.7 387.6h0M198.4 380.7h0M189.6 379.0h0M185.6 388.2h0M192.1 378.2h0M191.2 384.2h0M188.2 386.2h0M207.0 368.6h0M205.4 370.9h0M188.6 388.2h0M189.5 385.3h0M178.3 397.4h0M190.2 388.4h0M192.3 381.6h0M185.4 389.5h0M188.5 384.0h0M203.9 371.1h0M200.2 379.8h0M195.7 381.5h0M196.8 381.4h0M196.5 380.2h0M192.2 381.3h0M188.2 384.6h0M195.3 383.9h0M185.0 387.8h0M185.6 389.0h0M198.1 376.1h0M190.3 377.3h0M191.8 384.7h0M185.5 384.1h0M194.8 380.0h0M202.7 370.8h0M190.4 383.3h0M189.8 379.4h0M201.7 375.7h0M190.0 383.8h0M195.9 380.4h0M189.0 385.3h0M193.5 380.2h0M189.2 384.3h0M187.6 383.1h0M186.5 389.4h0M197.0 378.0h0M166.8 402.7h0M197.3 383.2h0M199.4 375.2h0M189.1 384.5h0M203.5 372.7h0M187.6 390.2h0M194.2 374.6h0M189.6 388.5h0M195.9 375.3h0M193.4 384.4h0M192.6 379.1h0M192.0 385.2h0M193.7 378.3h0M207.4 368.9h0M182.0 391.6h0M173.6 398.7h0M195.7 387.1h0M194.0 382.3h0M197.4 378.6h0M190.5 388.8h0M198.0 382.2h0M197.3 375.0h0M188.7 385.0h0M190.5 386.0h0M189.9 382.6h0M203.8 376.0h0M190.9 380.9h0M187.2 385.4h0M185.1 386.7h0M194.3 381.8h0M193.6 378.7h0M197.4 384.2h0M193.2 380.7h0M210.2 366.6h0M189.8 388.1h0M187.3 386.6h0M197.8 375.6h0M184.1 393.0h0M195.5 375.4h0M191.9 386.7h0M195.3 382.6h0M190.7 382.5h0M188.4 385.7h0M189.4 377.3h0M180.4 394.4h0M195.7 377.5h0M190.9 380.9h0M184.1 391.4h0M191.3 382.3h0M184.4 390.8h0M191.8 382.7h0M191.2 382.8h0M196.4 380.2h0M205.9 374.1h0M190.3 381.0h0M195.5 377.9h0M199.7 371.1h0M192.1 387.9h0M193.5 383.9h0M195.7 378.0h0M196.3 376.3h0M193.6 388.2h0M191.7 384.5h0M187.6 391.5h0M185.3 387.2h0M187.0 385.0h0M182.8 391.0h0M189.0 385.7h0M184.6 387.4h0M190.2 384.8h0M186.3 388.5h0M192.3 386.0h0M196.9 379.9h0M197.5 375.8h0M200.9 375.0h0M189.7 386.6h0M188.1 392.3h0M191.4 379.0h0M184.3 388.9h0M189.3 387.0h0M199.2 379.2h0M194.1 378.2h0M201.0 378.1h0M179.0 393.8h0M188.7 383.8h0M199.3 377.4h0M190.6 380.6h0M177.7 393.9h0M185.4 386.6h0M176.3 393.4h0M189.8 386.2h0M188.3 385.9h0M191.4 383.4h0M198.2 374.5h0M191.2 379.7h0M200.5 377.1h0M198.3 377.2h0M189.2 381.7h0M196.0 383.3h0M177.2 402.7h0M187.5 388.8h0M186.6 387.7h0M196.8 377.8h0M203.4 372.1h0M195.1 378.1h0M188.2 385.4h0M197.7 382.6h0M190.2 380.7h0M186.0 384.5h0M195.1 380.1h0M184.7 389.0h0M198.6 378.0h0M189.6 387.7h0M193.6 379.7h0M196.1 384.9h0M186.6 391.4h0M192.1 384.9h0M195.0 381.0h0M191.0 383.9h0M197.0 379.6h0M183.5 392.6h0M201.7 376.5h0M190.5 378.8h0M196.8 380.5h0M199.8 372.5h0M189.7 383.6h0M187.6 381.9h0M188.3 385.2h0M192.1 387.9h0M187.3 386.1h0M198.1 375.3h0M200.2 376.4h0M186.8 385.7h0M192.5 381.9h0M191.6 381.5h0M194.6 378.4h0M188.6 385.6h0M183.4 390.2h0M188.3 382.0h0M182.5 396.0h0M189.9 384.5h0M190.3 389.5h0M187.7 381.5h0M193.4 378.5h0M194.4 380.2h0M200.7 376.1h0M191.7 387.7h0M208.3 365.5h0M199.4 377.0h0M192.9 378.3h0M188.0 391.3h0M192.1 381.2h0M205.3 373.9h0M195.1 376.9h0M194.2 385.5h0M176.6 392.9h0M188.5 389.5h0M194.2 382.3h0M193.4 382.0h0M205.4 381.4h0M197.1 382.2h0M191.8 388.3h0M193.0 382.7h0M187.9 384.5h0M187.1 384.7h0M186.7 393.9h0M196.5 381.8h0M193.1 377.5h0M190.9 381.3h0M186.8 387.7h0M193.3 382.1h0M192.5 381.7h0M194.3 384.8h0M207.9 371.2h0M191.3 385.0h0M199.9 378.6h0M202.0 377.4h0M194.3 380.0h0M183.9 394.3h0M194.7 377.7h0M191.5 382.2h0M192.0 388.6h0M193.6 389.2h0M190.0 382.6h0M196.7 386.1h0M191.9 384.8h0M178.4 398.0h0M183.0 391.3h0M200.4 374.1h0M196.3 378.2h0M190.3 385.5h0M199.2 376.4h0M190.3 381.5h0M181.3 393.7h0M191.2 384.6h0M200.0 377.9h0M186.7 388.9h0M193.4 380.9h0M176.1 395.7h0M192.5 384.9h0M187.7 382.7h0M200.6 374.5h0M189.8 386.8h0M196.2 378.6h0M187.2 385.8h0M196.8 377.9h0M192.0 376.8h0M188.0 385.6h0M185.7 382.8h0M191.4 388.5h0M192.9 380.4h0M185.0 385.4h0M192.0 380.4h0M190.6 387.1h0M198.8 378.3h0M180.1 392.6h0M197.5 373.8h0M199.8 375.3h0M197.2 376.6h0M182.5 388.8h0M200.6 373.5h0M185.1 392.2h0M181.4 392.6h0M194.3 381.6h0M194.3 380.4h0M176.1 399.0h0M191.1 383.1h0M196.0 381.4h0M195.4 384.3h0M206.3 370.0h0M187.3 383.2h0M192.5 376.7h0M204.1 374.3h0M189.3 387.6h0M184.2 386.8h0M195.0 376.7h0M193.0 381.5h0M202.3 374.0h0M203.2 374.8h0M184.8 386.1h0M178.0 396.5h0M172.3 399.3h0M175.0 397.3h0M194.8 377.4h0M187.3 385.9h0M190.9 379.1h0M192.1 382.4h0M183.3 388.1h0M200.5 376.9h0M193.0 379.2h0M187.2 383.3h0M179.3 393.5h0M185.6 385.0h0M184.2 391.5h0M185.9 383.6h0M201.9 367.7h0M191.2 380.3h0M195.9 379.2h0M197.9 376.9h0M188.8 390.4h0M190.7 383.3h0M189.3 383.1h0M196.4 383.9h0M201.6 374.5h0M196.8 380.5h0M189.7 389.8h0M190.1 378.8h0M193.9 378.0h0M194.4 382.6h0M189.8 385.7h0M197.9 372.6h0M179.0 394.9h0M193.1 388.3h0M198.6 378.0h0M187.6 380.8h0M182.2 391.1h0M191.8 381.5h0M193.1 383.9h0M186.0 387.1h0M186.9 391.5h0M179.1 397.1h0M193.0 375.3h0M189.8 388.2h0M184.4 388.1h0M193.0 385.9h0M194.1 378.5h0M179.8 389.6h0M189.8 377.8h0M188.3 388.1h0M182.8 390.5h0M191.6 385.5h0M182.5 392.1h0M190.9 384.0h0M181.7 394.2h0M185.4 388.6h0M188.7 392.0h0M194.9 386.7h0M186.6 387.0h0M200.1 373.7h0M195.8 382.7h0M187.6 384.7h0M191.1 386.7h0M196.0 382.9h0M188.7 384.3h0M183.4 390.0h0M187.1 387.0h0M183.9 388.2h0M190.7 387.0h0M188.1 384.6h0M199.9 379.3h0M188.8 384.9h0M177.0 392.2h0M193.1 386.1h0M204.4 373.3h0M188.9 387.4h0M181.6 392.5h0M183.5 390.9h0M203.9 378.1h0M193.2 382.8h0M179.4 392.7h0M202.9 375.9h0M197.3 379.0h0M201.4 372.7h0M194.5 389.3h0M186.4 389.6h0M191.2 388.3h0M189.0 384.5h0M190.5 386.7h0M182.3 387.3h0M189.9 383.6h0M194.2 379.5h0M187.8 387.7h0M195.6 382.4h0M188.8 380.0h0M190.9 383.7h0M191.4 384.9h0M191.2 387.1h0M191.6 387.6h0M180.3 386.5h0M189.6 394.2h0M189.4 384.9h0M192.3 381.0h0M193.2 382.0h0M206.6 372.5h0M194.2 382.8h0M193.6 377.8h0M197.6 375.3h0M196.8 378.6h0M199.6 380.0h0M194.5 378.8h0M190.3 386.2h0M188.1 385.3h0M190.1 383.5h0M194.1 379.3h0M190.9 381.5h0M181.5 395.5h0M197.0 376.4h0M197.2 378.8h0M185.9 392.5h0M178.5 395.7h0M194.4 376.9h0M201.0 372.3h0M199.4 375.1h0M195.9 378.9h0M207.6 369.1h0M199.5 378.0h0M192.5 381.6h0M196.0 382.3h0M198.5 378.4h0M192.1 385.1h0M185.4 389.3h0M177.5 394.7h0M188.6 381.7h0M186.0 391.8h0M197.0 381.7h0M200.6 376.7h0M197.7 378.5h0M198.0 372.4h0M192.7 385.7h0M197.7 377.8h0M191.4 386.4h0M189.3 382.1h0M199.1 375.0h0M190.8 379.1h0M176.3 399.7h0M199.3 368.8h0M189.7 387.1h0M193.5 381.8h0M190.4 381.5h0M200.8 377.6h0M190.9 376.8h0M202.9 372.3h0M198.6 382.8h0M200.5 374.6h0M200.1 377.2h0M188.6 386.8h0M178.2 391.4h0M195.7 384.0h0M187.7 391.0h0M196.1 384.9h0M194.6 390.0h0M194.8 379.7h0M190.9 378.2h0M194.0 380.2h0M195.0 379.2h0M170.4 395.6h0M185.9 384.9h0M196.1 375.6h0M194.7 379.9h0M202.3 373.4h0M191.8 380.0h0M195.6 381.7h0M192.4 384.9h0M184.9 389.1h0M194.2 379.9h0M201.1 376.3h0M186.5 385.3h0M190.8 381.8h0M187.7 383.6h0M197.4 378.4h0M195.3 382.4h0M177.2 397.4h0M191.6 385.6h0M196.2 380.7h0M197.5 371.7h0M187.1 391.7h0M200.1 372.6h0M200.7 377.4h0M182.2 390.5h0M194.1 380.7h0M204.7 372.7h0M196.8 376.2h0M183.1 389.6h0M204.2 377.2h0M186.6 387.8h0M178.0 400.7h0M185.3 392.4h0M198.3 372.7h0M187.5 389.6h0M200.1 373.5h0M185.8 390.1h0M198.5 373.2h0M188.8 389.9h0M192.0 380.4h0M192.8 383.8h0M199.1 377.1h0M189.2 380.3h0M196.3 380.5h0M193.4 381.7h0M194.3 383.8h0M187.6 383.3h0M197.2 376.7h0M190.8 385.5h0M190.2 384.5h0M186.8 392.2h0M185.4 393.6h0M182.6 389.8h0M190.6 387.1h0M192.5 381.0h0M185.4 392.5h0M192.8 383.5h0M189.9 383.4h0M196.7 379.4h0M199.7 376.2h0M184.0 393.2h0M191.9 382.3h0M170.4 401.0h0M192.0 380.9h0M194.6 382.4h0M190.3 381.6h0M195.3 380.9h0M187.3 381.4h0M185.2 392.1h0M187.4 381.7h0M190.8 384.3h0M196.7 379.8h0M193.1 379.4h0M170.7 401.5h0M181.2 390.3h0M179.4 391.8h0M173.0 401.4h0M174.4 399.3h0M173.6 401.0h0M179.2 392.1h0M180.4 395.9h0M177.9 391.0h0M179.8 392.4h0M176.3 397.2h0M172.8 399.0h0M175.2 399.7h0M180.2 394.3h0M181.0 394.8h0M180.5 391.4h0M178.3 396.5h0M178.7 397.2h0M181.0 394.7h0M179.4 395.0h0M176.4 396.6h0M182.9 394.8h0M182.1 392.3h0M180.3 401.4h0M180.0 391.4h0M181.0 395.2h0M176.1 397.7h0M173.8 399.0h0M173.3 397.8h0M175.2 397.0h0M181.8 396.4h0M176.7 397.1h0M180.0 394.9h0M182.1 386.6h0M167.4 402.9h0M180.6 396.7h0M176.0 398.6h0M177.3 398.8h0M182.6 387.1h0M187.7 391.6h0M177.3 398.8h0M178.3 397.9h0M180.6 396.7h0M174.8 401.2h0M174.9 398.7h0M180.3 393.8h0M179.4 396.6h0M176.7 394.8h0M180.0 395.8h0M185.1 388.3h0M181.4 393.0h0M179.0 400.6h0M178.4 398.7h0M177.3 395.2h0M176.5 397.1h0M179.5 400.6h0M177.5 392.9h0M185.6 391.5h0M183.4 396.5h0M175.2 400.2h0M177.0 396.9h0M177.0 398.1h0M183.5 394.4h0M180.7 397.9h0M169.2 404.5h0M179.8 396.3h0M183.7 392.7h0M183.1 392.3h0M180.8 394.9h0M177.8 398.6h0M201.1 370.8h0M203.3 370.8h0M196.6 369.0h0M197.6 370.7h0M202.1 370.2h0M199.5 374.9h0M197.3 377.8h0M197.2 377.1h0M205.7 373.8h0M204.7 369.5h0M199.2 377.6h0M203.9 368.0h0M204.6 369.9h0M193.7 381.6h0M207.6 369.9h0M204.8 371.7h0M192.1 374.6h0M197.4 376.3h0M196.8 375.4h0M205.8 374.4h0M194.4 376.9h0M200.4 373.9h0M199.6 385.9h0M203.7 372.6h0M196.1 380.0h0M198.6 378.2h0M201.9 373.2h0M201.2 371.7h0M197.3 369.2h0M202.8 371.6h0M208.4 367.0h0M197.1 383.4h0M196.9 374.1h0M203.2 376.4h0M205.9 367.8h0M202.0 373.8h0M198.3 375.0h0M200.5 374.3h0M200.6 367.5h0M203.0 373.3h0M204.2 369.4h0M200.1 375.2h0M198.3 374.5h0M197.9 374.7h0M197.0 375.8h0M197.4 374.9h0M198.8 379.5h0M201.7 373.0h0M199.0 378.2h0M200.1 374.5h0M201.0 373.6h0M202.3 369.8h0M199.3 376.1h0M201.3 375.6h0M206.0 373.9h0M203.2 370.8h0M199.8 373.8h0M203.8 370.3h0M196.7 374.6h0M201.5 370.3h0M194.7 382.8h0M203.3 374.4h0M204.7 372.1h0M202.2 373.0h0M195.0 372.5h0M196.1 380.2h0M203.3 371.8h0M200.0 377.3h0M201.0 374.1h0M197.9 372.9h0M198.9 377.5h0M208.7 372.5h0M201.3 375.3h0M201.1 374.5h0M203.8 374.4h0M201.0 380.3h0M199.0 372.6h0M206.0 365.9h0M199.7 372.8h0M199.7 365.9h0M199.2 370.2h0M209.2 373.3h0M202.1 370.2h0M208.2 374.6h0M201.1 372.6h0M202.9 367.5h0M200.1 374.7h0M203.4 375.6h0M198.7 372.4h0M196.8 377.7h0M204.1 374.4h0M200.4 369.8h0M201.5 371.2h0M204.2 369.8h0M199.3 373.8h0M203.6 371.0h0M210.9 368.3h0M197.7 377.2h0M205.4 372.4h0M203.3 372.7h0M169.9 389.2h0M196.0 377.3h0M192.7 389.0h0M165.2 389.7h0M193.5 379.4h0M190.7 394.0h0M187.4 387.5h0M187.1 375.5h0M208.7 376.0h0M188.7 395.3h0M178.6 389.0h0M177.2 393.3h0M183.7 392.4h0M184.4 391.9h0M195.7 384.9h0M194.1 383.8h0M175.1 381.9h0M188.7 376.7h0M193.2 383.4h0M189.6 386.4h0M192.3 377.3h0M196.8 389.1h0M201.6 386.0h0M187.0 387.5h0M210.2 375.6h0M196.0 389.1h0M181.0 391.3h0M194.1 382.7h0M206.4 377.8h0M195.9 375.9h0" stroke="#23508a" stroke-width="1.44" stroke-linecap="round" fill="none" opacity="1"/>
<line x1="155.4" y1="393.1" x2="208.5" y2="381" stroke="#d2506a" stroke-width="0.8"/>
<line x1="155.4" y1="394.3" x2="208.5" y2="381.24" stroke="#d2506a" stroke-width="0.5" opacity="0.6"/>
<path d="M190.4 386.4h0M193.5 386.8h0M191.6 388.3h0M198.9 381.8h0M190.1 391.8h0M196.8 383.7h0M190.7 377.9h0M192.1 384.9h0M199.7 382.2h0M197.5 381.7h0M188.5 385.5h0M184.9 387.4h0M192.2 379.2h0M193.0 389.8h0M192.5 387.5h0M192.9 387.3h0M185.7 395.6h0M191.1 384.0h0M189.2 386.8h0M191.2 381.3h0M183.3 385.3h0M192.6 381.6h0M189.1 382.7h0M189.5 385.1h0M189.8 391.7h0M189.4 383.3h0M198.5 378.1h0M183.0 384.0h0M197.5 383.5h0M194.0 389.2h0M192.5 388.5h0M197.8 383.5h0M194.3 385.3h0M193.9 390.6h0M193.6 386.1h0M181.7 388.1h0M188.0 388.1h0M192.6 386.2h0M190.8 388.0h0M193.8 388.5h0M185.6 393.8h0M200.6 385.6h0M187.5 384.7h0M193.0 390.8h0M188.3 379.7h0M178.1 394.7h0M197.3 376.1h0M188.2 388.0h0M193.5 388.5h0M184.5 390.5h0M189.5 390.6h0M194.1 389.1h0M183.7 385.8h0M186.8 386.7h0M185.4 384.2h0M185.2 382.8h0M193.5 382.7h0M185.7 389.9h0M184.7 391.3h0M192.1 392.7h0M191.1 382.8h0M194.1 384.8h0M187.5 375.4h0M187.8 386.1h0M193.5 380.2h0M191.4 385.1h0M183.8 387.9h0M192.1 384.6h0M189.5 386.6h0M191.2 387.2h0M187.4 382.1h0M189.6 387.2h0M195.0 379.6h0M195.5 381.2h0M192.9 376.4h0M184.9 379.8h0M183.7 388.4h0M190.7 382.9h0M189.7 383.3h0M195.5 381.0h0M201.2 387.6h0M187.5 390.2h0M191.0 392.1h0M194.8 391.4h0M188.9 386.0h0M187.3 388.7h0M192.0 385.7h0M192.7 388.1h0M188.7 384.6h0M185.2 387.0h0M190.7 390.4h0M192.6 382.1h0M191.0 382.3h0M190.7 379.5h0M193.8 383.7h0M191.0 385.6h0M186.3 389.3h0M191.7 388.8h0M195.0 388.9h0M190.5 381.7h0M191.3 380.9h0M187.6 388.3h0M186.3 387.2h0M193.3 382.3h0M184.5 384.5h0M200.8 378.6h0M190.6 386.6h0M193.8 382.2h0M186.1 387.4h0M184.7 383.8h0M183.0 390.9h0M191.2 391.8h0M187.7 386.6h0M192.2 378.5h0M192.0 382.1h0M186.5 390.3h0M188.8 382.7h0M194.2 390.7h0M193.9 385.0h0M188.0 387.5h0M191.9 384.7h0M194.0 388.5h0M184.8 390.4h0M191.9 384.5h0M190.5 392.7h0M189.9 386.4h0M187.7 386.8h0M189.0 386.9h0M181.6 384.9h0M187.3 386.9h0M189.4 390.0h0M191.5 388.8h0M187.3 379.0h0M194.8 389.9h0M190.8 386.0h0M186.2 389.9h0M183.1 383.4h0M192.8 388.5h0M188.9 386.6h0M190.6 393.0h0M191.3 384.5h0M189.4 387.6h0M193.7 382.3h0M187.4 389.5h0M187.2 382.2h0M189.3 385.8h0M189.0 387.9h0M194.3 391.1h0M194.3 387.6h0M188.5 387.5h0M186.4 385.9h0M197.5 391.3h0M193.8 386.1h0M193.9 387.7h0M189.9 386.5h0M195.7 390.0h0M187.7 381.2h0M193.8 385.3h0M185.7 385.7h0M176.4 391.3h0M190.4 388.5h0M188.3 383.5h0M188.8 387.6h0M193.2 386.0h0M190.3 378.6h0M191.7 386.9h0M187.0 389.3h0M186.1 383.9h0M186.2 391.1h0M194.6 388.5h0M194.2 386.3h0M185.8 388.3h0M192.9 393.3h0M184.7 384.5h0M188.3 391.9h0M189.2 390.2h0M190.3 390.8h0M183.6 388.6h0M192.4 384.4h0M189.5 393.0h0M183.4 387.1h0M198.0 389.2h0M188.2 382.6h0M183.9 386.7h0M192.5 390.8h0M195.7 387.4h0M189.8 389.9h0M195.1 387.3h0M189.7 385.3h0M197.7 388.8h0M190.2 388.1h0M197.5 388.7h0M197.5 382.6h0M193.4 379.9h0M181.1 390.2h0M189.2 381.1h0M190.3 387.4h0M190.9 387.4h0M194.5 383.1h0M189.7 389.2h0M193.9 382.7h0M197.2 385.7h0M189.0 387.3h0M188.6 390.4h0M194.4 392.4h0M178.2 388.6h0M189.4 389.3h0M187.8 385.1h0M191.4 384.2h0M193.0 388.7h0M191.6 379.5h0M188.4 389.5h0M188.5 384.5h0M193.1 385.4h0M193.9 388.2h0M190.9 390.5h0M191.7 386.9h0M191.7 379.3h0M182.1 386.7h0M194.1 384.9h0M186.5 384.6h0M184.4 391.2h0M191.1 387.7h0M194.6 385.3h0M195.1 382.2h0M197.2 384.4h0M188.8 388.3h0M196.8 377.8h0M187.4 386.6h0M191.3 386.3h0M197.4 381.7h0M192.2 383.5h0M185.9 388.5h0M190.7 389.1h0M194.8 382.2h0M192.9 381.0h0M194.7 378.1h0M188.9 388.4h0M187.0 383.9h0M191.4 381.9h0M191.6 379.9h0M195.9 386.7h0M194.3 388.5h0M189.5 386.8h0M193.1 380.7h0M189.0 386.4h0M189.0 386.1h0M180.9 391.9h0M193.6 389.6h0M192.3 382.9h0M187.6 384.2h0M187.8 385.4h0M195.2 385.2h0M191.9 384.0h0M190.6 388.4h0M188.1 389.8h0M192.7 382.8h0M188.8 383.9h0M197.5 384.1h0M194.2 383.4h0M186.8 388.2h0M198.6 388.3h0M193.4 384.7h0M193.9 388.9h0M188.0 391.5h0M187.8 389.1h0M193.9 385.7h0M193.2 390.2h0M188.4 386.4h0M187.3 389.1h0M193.3 384.5h0M184.0 392.1h0M191.5 382.5h0M189.7 387.1h0M188.1 389.0h0M188.9 382.8h0M178.3 389.8h0M198.1 387.0h0M187.4 384.0h0M197.3 385.4h0M198.6 389.3h0M192.4 385.8h0M187.8 388.6h0M188.6 392.0h0M192.4 391.8h0M190.0 388.6h0M189.0 390.9h0M189.6 392.3h0M189.4 379.7h0M185.6 390.3h0M193.8 392.7h0M186.7 387.8h0M190.9 387.2h0M197.1 382.4h0M187.1 394.9h0M189.6 381.0h0M187.4 387.1h0M192.5 388.7h0M188.7 385.5h0M186.5 388.2h0M191.7 387.8h0M180.6 388.7h0M195.4 390.6h0M190.1 377.5h0M184.0 392.6h0M190.8 386.6h0M196.4 378.8h0M195.4 384.1h0M184.6 381.5h0M188.6 393.8h0M192.3 388.8h0M192.5 384.7h0M194.4 385.6h0M189.2 385.9h0M188.2 389.0h0M191.8 390.3h0M187.7 384.4h0M184.6 393.0h0M200.2 380.8h0M183.5 394.3h0M189.1 390.1h0M193.2 387.9h0M190.5 385.4h0M194.2 383.2h0M194.0 382.0h0M189.8 383.9h0M193.0 382.3h0M189.0 391.2h0M191.7 385.5h0M186.6 388.6h0M193.2 387.6h0M188.6 389.6h0M183.2 390.9h0M188.2 390.7h0M192.8 394.5h0M191.6 387.1h0M179.2 387.4h0M193.2 382.1h0M193.5 381.8h0M191.4 382.7h0M193.3 387.6h0M192.6 382.2h0M186.3 391.1h0M192.5 388.0h0M187.0 391.5h0M187.9 383.6h0M190.3 390.3h0M191.3 386.6h0M190.1 385.1h0M195.3 383.8h0M182.3 385.4h0M187.6 386.6h0M188.7 376.9h0M195.5 388.4h0M190.8 391.4h0M187.5 387.5h0M191.4 392.5h0M197.0 387.3h0M186.2 389.4h0M186.3 389.6h0M195.1 389.5h0M190.4 387.5h0M188.1 383.5h0M197.7 383.9h0M197.7 385.8h0M184.4 387.5h0M194.8 387.6h0M193.3 384.9h0M192.2 381.5h0M187.5 383.5h0M195.1 385.4h0M192.8 384.1h0M179.0 389.9h0M191.2 386.3h0M196.2 387.9h0M189.7 390.2h0M184.8 392.5h0M183.0 392.9h0M182.3 393.3h0M196.5 382.3h0M195.3 388.4h0M176.3 386.7h0M188.6 383.0h0M193.8 396.0h0M199.1 384.2h0M188.8 389.8h0M191.7 385.2h0M193.8 376.7h0M196.2 381.5h0M195.7 383.1h0M187.1 385.7h0M192.3 387.0h0M205.8 384.5h0M188.3 382.8h0M192.1 388.1h0M183.8 390.5h0M195.1 382.0h0M185.6 392.7h0M196.9 382.1h0M193.5 389.9h0M191.7 383.1h0M189.2 387.1h0M192.9 390.3h0M187.3 390.2h0M186.3 380.3h0M194.0 385.3h0M182.3 383.9h0M197.7 389.7h0M190.7 385.6h0M192.5 382.7h0M190.4 390.8h0M188.2 392.9h0M194.4 390.0h0M185.6 395.0h0M191.5 388.8h0M185.6 385.2h0M196.4 385.4h0M194.3 387.4h0M190.4 380.1h0M188.9 386.2h0M201.5 386.1h0M184.4 383.9h0M194.8 386.7h0M194.3 379.6h0M198.0 383.2h0M196.6 384.4h0M187.7 385.0h0M190.5 373.0h0M196.6 386.2h0M189.4 390.7h0M187.9 382.7h0M190.7 389.1h0M189.6 384.0h0M195.0 387.3h0M196.2 384.4h0M195.6 380.7h0M186.3 383.0h0M190.5 386.9h0M188.2 382.5h0M191.6 378.7h0M181.2 379.2h0M196.3 386.6h0M190.4 388.0h0M183.4 386.0h0M187.1 389.8h0M189.2 388.0h0M183.6 384.7h0M192.8 386.4h0M191.1 383.4h0M188.7 380.9h0M186.6 390.1h0M184.3 384.8h0M189.7 394.1h0M189.3 388.5h0M194.4 394.7h0M192.1 390.2h0M195.3 385.7h0M187.9 381.6h0M197.1 392.2h0M196.8 391.8h0M195.5 387.8h0M188.6 387.2h0M194.9 389.0h0M183.9 384.4h0M190.1 386.5h0M195.9 390.9h0M192.0 393.9h0M193.2 385.3h0M186.7 395.3h0M199.0 383.9h0M192.1 384.0h0M181.4 388.5h0M182.2 385.5h0M186.2 386.7h0M195.2 389.5h0M191.2 389.6h0M188.6 386.3h0M190.8 383.7h0M190.7 384.4h0M185.8 386.4h0M197.2 383.7h0M189.0 388.1h0M186.5 386.8h0M185.9 382.0h0M190.6 388.3h0M191.3 385.4h0M193.2 381.4h0M196.7 387.0h0M194.1 390.8h0M187.7 389.1h0M188.4 384.4h0M189.9 388.5h0M193.2 387.5h0M187.6 387.7h0M188.8 384.7h0M186.5 379.8h0M184.8 387.6h0M190.1 389.4h0M191.2 393.1h0M187.8 395.7h0M184.5 385.1h0M186.3 386.3h0M188.4 385.7h0M193.6 387.9h0M188.4 392.8h0M191.4 385.9h0M193.6 384.2h0M194.0 379.4h0M194.4 382.2h0M192.5 383.4h0M197.7 383.8h0M191.5 381.4h0M184.9 390.7h0M196.8 383.5h0M187.6 395.2h0M189.7 390.0h0M185.9 386.1h0M186.8 377.6h0M185.6 387.5h0M185.8 382.3h0M194.3 383.2h0M186.2 380.9h0M191.0 388.7h0M194.6 386.4h0M189.4 385.9h0M192.0 388.1h0M188.7 386.3h0M191.1 384.8h0M191.3 386.2h0M189.1 393.2h0M191.0 382.1h0M185.3 387.1h0M185.8 384.7h0M190.2 384.9h0M188.9 393.3h0M189.1 388.2h0M182.6 386.0h0M187.5 391.6h0M192.3 384.0h0M189.2 388.1h0M186.0 387.6h0M192.0 381.5h0M192.2 384.6h0M190.3 385.5h0M194.7 387.1h0M189.1 380.1h0M192.4 389.8h0M183.1 384.0h0M190.4 389.4h0M185.4 390.3h0M188.6 386.9h0M191.1 384.9h0M187.8 388.2h0M196.9 384.8h0M190.9 382.0h0M185.4 383.5h0M195.3 387.4h0M192.9 387.8h0M187.6 386.2h0M193.9 382.4h0M196.9 389.2h0M183.8 386.3h0M198.4 385.6h0M199.1 388.1h0M192.4 393.3h0M197.3 386.5h0M190.7 384.6h0M184.5 383.8h0M185.4 386.0h0M189.6 383.8h0M183.4 391.0h0M181.4 390.0h0M190.0 380.1h0M185.2 389.0h0M195.1 383.0h0M188.7 388.3h0M180.4 385.7h0M194.2 387.3h0M192.6 385.5h0M188.7 380.0h0M185.0 387.7h0M194.2 384.8h0M188.2 382.9h0M191.2 387.3h0M192.1 384.7h0M196.1 378.2h0M191.4 380.4h0M186.4 391.6h0M187.3 385.0h0M195.0 394.3h0M187.3 386.8h0M194.2 381.9h0M197.5 377.0h0M191.2 390.0h0M188.5 385.5h0M184.5 389.3h0M193.3 383.7h0M188.8 392.9h0M194.7 386.3h0M187.9 384.3h0M195.0 384.0h0M188.5 386.8h0M193.3 388.2h0M189.5 385.3h0M185.3 388.2h0M190.0 387.9h0M189.2 384.8h0M190.9 388.7h0M189.5 386.1h0M188.7 386.0h0M192.7 387.6h0M188.8 386.5h0M193.1 387.9h0M193.3 379.2h0M192.7 383.0h0M194.3 387.9h0M196.6 380.7h0M190.0 376.7h0M186.6 379.6h0M185.5 384.6h0M184.5 389.7h0M183.9 385.4h0M186.2 386.7h0M191.4 383.9h0M183.5 383.3h0M193.0 386.0h0M191.4 383.0h0M195.9 385.4h0M198.5 380.2h0M196.4 389.6h0M189.3 386.9h0M187.8 386.8h0M193.8 385.3h0M190.5 396.5h0M189.5 391.7h0M191.7 388.5h0M194.0 387.7h0M196.5 390.0h0M185.3 384.0h0M180.2 384.0h0M189.2 379.9h0M184.4 390.9h0M189.3 387.4h0M177.4 388.6h0M184.1 389.9h0M190.7 387.8h0M201.2 394.4h0M189.4 389.8h0M193.6 384.1h0M187.8 391.4h0M194.7 386.1h0M183.4 381.2h0M188.3 392.6h0M193.1 380.6h0M193.6 389.9h0M193.8 380.6h0M189.4 386.7h0M189.0 394.4h0M184.0 391.8h0M195.2 385.5h0M189.2 377.8h0M191.1 387.3h0M189.1 381.7h0M187.9 384.5h0M194.7 381.3h0M189.5 386.2h0M192.6 392.2h0M196.8 384.3h0M188.3 385.9h0M183.2 391.0h0M191.4 385.2h0M188.9 392.3h0M193.8 385.2h0M197.2 383.7h0M197.4 381.8h0M190.0 384.3h0M193.2 382.9h0M192.4 386.0h0M191.5 395.1h0M194.4 383.3h0M194.5 385.6h0M192.1 393.2h0M195.0 386.5h0M193.9 387.4h0M194.1 385.6h0M191.6 386.5h0M184.4 389.4h0M198.3 388.5h0M190.1 383.6h0M193.3 381.7h0M184.1 384.5h0M185.9 397.0h0M185.7 377.6h0M184.3 383.1h0M192.8 382.5h0M188.7 390.2h0M195.5 380.4h0M188.5 383.6h0M194.5 385.1h0M189.4 383.7h0M195.7 382.2h0M197.2 387.6h0M185.5 388.5h0M189.5 382.6h0M190.6 387.7h0M183.3 389.3h0M190.8 384.3h0M185.5 383.5h0M190.8 387.1h0M192.4 390.9h0M189.7 385.2h0M198.5 384.7h0M197.1 388.0h0M186.7 384.7h0M193.6 376.8h0M191.2 392.6h0M189.2 390.3h0M191.5 395.7h0M191.6 389.2h0M186.5 391.8h0M192.4 383.5h0M192.9 384.3h0M191.2 384.0h0M186.5 383.7h0M191.9 384.8h0M190.7 393.2h0M190.4 386.0h0M189.3 391.1h0M189.7 383.6h0M190.6 388.9h0M193.1 389.9h0M198.6 391.0h0M187.9 387.9h0M189.2 386.3h0M190.2 385.3h0M191.9 380.6h0M191.9 388.3h0M194.5 384.2h0M191.9 386.0h0M192.3 384.8h0M195.9 389.1h0M198.3 380.7h0M194.5 385.4h0M191.5 384.2h0M192.1 388.0h0M190.1 385.2h0M195.8 384.1h0M189.8 387.1h0M188.5 384.7h0M192.3 384.6h0M187.6 392.5h0M186.7 382.9h0M189.0 384.5h0M189.2 382.4h0M186.0 382.4h0M185.2 389.9h0M190.9 392.5h0M187.9 388.7h0M188.1 394.0h0M187.9 381.7h0M190.5 384.4h0M200.9 385.0h0M188.6 390.5h0M191.7 384.3h0M188.7 386.5h0M187.2 389.6h0M188.4 387.3h0M187.8 385.1h0M198.6 383.0h0M197.9 393.3h0M189.1 384.4h0M181.3 386.0h0M190.5 380.8h0M182.5 391.3h0M193.2 391.9h0M186.6 392.9h0M183.6 395.7h0M189.9 382.9h0M195.6 384.2h0M192.9 385.3h0M196.2 385.9h0M185.2 386.0h0M188.6 390.8h0M193.5 386.0h0M188.6 385.2h0M193.4 388.3h0M196.5 389.8h0M196.7 381.5h0M203.2 385.4h0M192.4 387.0h0M191.8 383.7h0M188.0 388.2h0M184.1 378.6h0M189.7 379.2h0M191.3 384.7h0M189.5 390.3h0M185.6 385.4h0M192.1 386.5h0M186.5 385.7h0M188.3 389.2h0M193.7 388.0h0M188.5 384.0h0M198.1 393.0h0M195.1 379.7h0M193.3 384.4h0M189.7 385.9h0M184.6 383.7h0M190.5 382.4h0M187.7 386.6h0M190.2 385.0h0M189.2 385.5h0M192.2 387.0h0M197.4 384.9h0M189.3 389.6h0M193.2 382.7h0M184.4 380.8h0M196.8 383.6h0M193.2 378.7h0M181.9 392.8h0M187.6 389.0h0M189.0 390.8h0M189.1 386.8h0M191.8 384.1h0M191.4 391.2h0M190.7 387.4h0M192.8 385.7h0M196.1 391.2h0M192.5 379.7h0M180.5 388.9h0M176.6 383.6h0M184.9 385.9h0M192.2 387.5h0M198.0 379.4h0M188.7 388.6h0M194.5 383.2h0M182.3 380.3h0M193.5 383.9h0M200.0 388.6h0M198.9 383.6h0M191.7 380.4h0M191.7 384.4h0M193.8 382.5h0M188.2 384.5h0M198.0 382.7h0M186.0 387.6h0M187.7 393.2h0M195.7 384.2h0M189.2 381.4h0M196.7 382.8h0M197.6 380.1h0M194.0 388.1h0M193.5 384.3h0M195.5 385.3h0M188.8 383.3h0M195.7 383.7h0M192.3 385.2h0M191.3 384.6h0M203.9 386.3h0M193.8 385.8h0M191.7 382.3h0M192.8 384.9h0M187.7 385.4h0M188.8 389.5h0M189.2 384.0h0M192.4 386.0h0M192.8 391.2h0M187.1 383.0h0M189.4 383.1h0M194.8 386.4h0M190.2 388.8h0M188.2 386.0h0M179.9 384.1h0M192.0 392.8h0M185.7 389.0h0M188.8 389.6h0M187.1 388.0h0M191.2 384.0h0M189.5 386.2h0M193.6 387.2h0M194.2 386.1h0M185.9 387.5h0M192.6 385.5h0M191.6 380.7h0M185.6 385.9h0M190.5 383.9h0M187.6 389.5h0M187.0 384.1h0M191.9 385.2h0M193.3 387.1h0M187.6 386.9h0M191.1 388.8h0M192.1 389.7h0M188.3 387.7h0M193.0 379.4h0M186.8 391.4h0M195.0 387.8h0M195.4 387.7h0M188.6 387.6h0M190.5 381.6h0M184.6 387.5h0M195.5 386.6h0M184.5 387.6h0M188.4 387.9h0M191.2 386.1h0M188.8 391.8h0M192.5 381.1h0M191.6 390.0h0M192.5 387.1h0M191.2 391.7h0M187.9 391.6h0M195.8 380.4h0M196.9 386.0h0M188.3 388.4h0M195.1 382.1h0M183.9 379.0h0M183.5 389.0h0M191.0 388.5h0M197.1 390.4h0M198.1 393.6h0M195.7 388.9h0M188.2 389.6h0M195.8 387.2h0M188.8 387.4h0M186.4 390.3h0M188.2 391.7h0M192.7 388.1h0M193.6 386.5h0M193.8 384.9h0M186.6 393.9h0M189.3 390.9h0M193.3 386.4h0M191.7 387.0h0M191.4 386.1h0M190.6 387.7h0M192.1 383.9h0M189.2 382.0h0M184.5 383.2h0M190.2 388.2h0M190.9 381.0h0M191.9 381.7h0M188.1 385.9h0M196.8 383.6h0M200.1 384.8h0M190.3 388.3h0M194.2 381.0h0M188.7 387.5h0M188.9 386.4h0M197.3 383.2h0M188.7 386.0h0M186.8 391.8h0M194.3 398.4h0M191.3 383.8h0M185.2 387.8h0M191.1 383.9h0M194.1 387.2h0M193.6 386.8h0M189.5 384.5h0M183.1 384.4h0M190.0 389.5h0M188.7 383.5h0M192.3 381.6h0M184.4 386.1h0M187.8 387.7h0M183.1 384.4h0M192.6 386.3h0M193.5 387.7h0M193.7 391.6h0M189.6 386.8h0M196.1 384.8h0M189.8 386.8h0M187.2 391.0h0M190.4 388.3h0M196.8 385.9h0M192.1 387.1h0M193.8 391.2h0M182.6 389.3h0M188.1 389.5h0M190.0 387.2h0M198.2 383.1h0M193.0 383.5h0M186.2 385.0h0M194.0 380.2h0M192.7 394.3h0M192.1 385.8h0M187.7 383.6h0M193.7 388.7h0M186.4 387.0h0M196.1 381.8h0M197.2 391.6h0M187.2 388.1h0M183.4 381.9h0M196.5 385.4h0M190.3 388.5h0M185.9 383.5h0M186.9 385.7h0M188.6 391.8h0M185.5 385.1h0M192.0 387.5h0M197.2 383.7h0M183.8 386.8h0M192.9 382.5h0M195.5 391.0h0M182.4 385.2h0M189.6 386.9h0M191.1 379.8h0M192.3 384.4h0M183.6 389.5h0M195.3 390.7h0M189.3 390.0h0M187.2 392.6h0M193.5 391.0h0M183.4 386.0h0M187.0 395.5h0M185.6 382.1h0M189.1 390.6h0M193.6 386.4h0M185.1 388.9h0M180.3 386.3h0M194.2 387.8h0M186.4 381.6h0M186.1 387.5h0M195.4 381.1h0M182.8 386.2h0M186.2 386.8h0M192.9 393.0h0M184.5 381.4h0M193.0 381.9h0M186.5 386.5h0M191.8 386.2h0M191.6 384.4h0M188.7 383.1h0M185.2 387.0h0M185.6 382.3h0M187.8 392.9h0M197.6 388.8h0M196.3 386.6h0M198.1 384.6h0M188.6 386.3h0M192.4 387.0h0M189.3 385.8h0M188.9 384.2h0M200.0 383.1h0M184.3 393.6h0M186.9 387.7h0M192.1 389.2h0M190.8 387.4h0M194.0 393.8h0M188.8 383.9h0M185.5 389.4h0M189.1 388.0h0M190.2 382.0h0M189.5 384.2h0M186.2 385.2h0M188.3 384.9h0M187.2 387.0h0M187.8 393.4h0M192.3 383.9h0M190.0 383.0h0M188.2 381.7h0M190.5 387.0h0M190.3 389.5h0M187.6 388.7h0M193.5 386.8h0M193.3 391.5h0M194.7 386.7h0M187.8 388.3h0M192.0 393.8h0M190.6 383.4h0M195.7 387.9h0M188.6 388.3h0M200.2 381.1h0M197.3 395.1h0M188.4 383.0h0M187.1 389.0h0M192.0 382.1h0M183.6 392.7h0M188.8 385.5h0M189.0 391.8h0M187.5 382.9h0M185.8 387.3h0M183.9 388.2h0M196.4 386.5h0M196.0 387.2h0M191.7 387.3h0M185.1 392.6h0M193.3 385.8h0M189.5 382.7h0M185.9 382.8h0M188.2 386.8h0M190.0 391.4h0M187.8 389.4h0M190.9 385.5h0M193.3 386.4h0M191.3 391.3h0M191.0 388.7h0M184.9 386.0h0M195.2 393.1h0M183.6 385.7h0M186.8 386.9h0M192.6 389.5h0M190.9 388.7h0M189.6 384.7h0M189.5 389.1h0M193.5 390.1h0M191.1 385.7h0M184.8 386.7h0M192.5 386.6h0M195.9 381.0h0M193.0 384.9h0M180.6 387.6h0M191.0 384.9h0M190.0 391.3h0M190.3 387.9h0M192.8 383.5h0M191.4 382.1h0M187.6 392.7h0M196.9 385.8h0M187.1 387.2h0M185.4 385.8h0M190.3 384.8h0M192.4 379.3h0M186.5 384.0h0M188.8 395.0h0M197.4 384.3h0M193.7 387.2h0M185.3 377.0h0M182.8 393.2h0M183.1 396.5h0M194.2 385.6h0M193.1 387.8h0M191.3 393.4h0M187.8 384.3h0M197.8 382.8h0M193.8 389.4h0M198.9 381.5h0M188.4 382.0h0M193.5 391.5h0M185.9 385.4h0M181.6 386.4h0M185.3 389.5h0M188.0 379.7h0M194.4 389.5h0M192.4 382.3h0M192.8 383.1h0M183.6 384.7h0M184.0 388.8h0M189.6 379.6h0M184.6 394.6h0M190.6 395.4h0M189.4 381.3h0M195.9 387.5h0M183.3 389.6h0M193.1 378.7h0M192.7 386.6h0M200.4 386.1h0M186.3 383.0h0M189.2 387.6h0M189.5 385.2h0M188.9 392.5h0M187.6 385.1h0M191.5 386.4h0M192.5 390.2h0M186.9 389.6h0M193.6 382.8h0M192.2 388.2h0M192.5 385.4h0M184.0 386.5h0M190.0 385.5h0M188.3 385.6h0M184.8 392.3h0M189.1 393.7h0M202.8 382.6h0M191.2 383.5h0M185.9 387.5h0M194.5 384.3h0M185.6 392.6h0M190.0 390.2h0M189.1 384.1h0M190.0 389.8h0M190.6 391.9h0M190.0 392.7h0M183.4 386.2h0M195.5 389.8h0M190.7 389.6h0M185.1 385.5h0M194.4 393.0h0M186.6 382.2h0M180.7 391.8h0M192.2 384.0h0M189.7 383.7h0M196.2 385.2h0M183.8 387.7h0M195.0 383.6h0M180.3 390.6h0M183.5 379.3h0M194.5 389.7h0M186.4 384.9h0M188.4 385.5h0M190.7 388.2h0M183.2 389.0h0M197.2 381.7h0M191.0 387.2h0M184.3 384.0h0M199.0 381.3h0M187.6 391.4h0M186.7 384.5h0M185.5 383.4h0M187.5 391.5h0M189.9 385.3h0M196.3 385.6h0M185.7 382.8h0M190.1 391.6h0M190.1 395.2h0M186.7 382.7h0M190.7 391.9h0M188.3 389.2h0M191.9 383.0h0M196.6 388.4h0M189.9 379.2h0M192.5 388.0h0M196.8 390.0h0M191.3 385.9h0M179.9 387.5h0M192.4 380.3h0M186.1 381.8h0M186.7 383.3h0M191.7 385.1h0M188.6 380.9h0M190.7 389.5h0M176.3 391.8h0M191.0 389.2h0M193.4 387.0h0M192.7 388.1h0M189.1 386.4h0M185.0 388.5h0M191.7 391.8h0M186.0 389.8h0M189.0 387.2h0M194.2 383.8h0M186.6 388.9h0M194.5 385.2h0M190.5 380.6h0M193.0 382.8h0M186.0 390.2h0M185.0 390.6h0M195.5 381.1h0M188.7 391.9h0M194.3 387.7h0M181.1 388.2h0M196.1 379.7h0M188.6 387.9h0M190.7 385.4h0M180.8 394.1h0M187.3 392.1h0M193.2 380.2h0M193.7 391.2h0M198.8 385.5h0M189.0 388.9h0M189.3 393.3h0M194.2 390.0h0M179.3 390.5h0M187.5 386.4h0M186.1 390.8h0M190.2 394.3h0M188.0 385.9h0M188.5 389.9h0M189.9 382.7h0M177.6 392.3h0M186.9 388.4h0M187.3 389.4h0M186.2 389.9h0M191.1 390.0h0M190.9 388.8h0M188.7 386.5h0M185.2 384.0h0M191.0 386.0h0M197.4 384.3h0M201.2 388.3h0M189.6 382.7h0M191.3 390.2h0M192.2 390.0h0M189.2 387.6h0M195.3 386.4h0M192.3 386.5h0M192.6 384.9h0M193.4 382.4h0M202.9 380.3h0M184.3 383.4h0M187.6 389.8h0M190.6 391.2h0M187.2 384.0h0M188.2 385.5h0M187.6 383.4h0M186.5 381.0h0M190.7 385.8h0M188.4 384.3h0M190.6 387.2h0M185.3 393.5h0M190.7 388.4h0M194.3 379.1h0M184.8 385.8h0M188.8 383.3h0M190.2 393.9h0M190.2 388.4h0M197.2 388.7h0M185.5 391.0h0M195.6 388.2h0M187.1 386.7h0M191.4 386.2h0M188.2 385.3h0M189.6 385.9h0M190.4 384.0h0M185.7 387.4h0M191.6 390.3h0M185.2 380.9h0M201.5 385.2h0M193.8 386.7h0M193.9 391.9h0M187.1 391.7h0M197.9 392.2h0M193.1 391.5h0M190.6 382.4h0M188.4 392.8h0M185.4 388.3h0M195.7 379.7h0M196.5 391.3h0M198.3 385.4h0M191.1 394.0h0M192.8 385.5h0M182.4 382.2h0M191.4 384.2h0M185.5 393.3h0M190.6 384.0h0M190.1 389.2h0M191.2 382.5h0M194.0 383.8h0M186.4 388.5h0M193.0 390.1h0M189.4 377.9h0M187.2 391.9h0M190.1 382.9h0M191.6 392.8h0M183.5 395.9h0M193.9 382.2h0M190.3 388.3h0M191.8 387.7h0M194.4 381.8h0M191.5 388.0h0M188.9 387.4h0M192.9 376.8h0M190.9 384.2h0M185.7 388.4h0M193.7 388.2h0M188.8 390.3h0M196.9 383.8h0M194.5 386.3h0M191.7 382.0h0M196.4 385.2h0M199.6 384.9h0M189.4 392.2h0M198.2 386.7h0M188.9 385.9h0M194.8 381.0h0M194.6 385.0h0M187.5 386.9h0M189.6 389.4h0M188.0 387.8h0M190.6 388.3h0M192.2 379.6h0M191.2 383.4h0M189.8 386.6h0M199.8 387.7h0M189.4 386.3h0M197.5 384.8h0M197.1 380.1h0M194.5 382.4h0M180.6 395.6h0M188.3 391.0h0M191.9 391.1h0M182.6 384.8h0M198.7 386.5h0M188.3 381.2h0M198.6 392.2h0M188.6 386.1h0M188.2 389.9h0M187.7 381.9h0M189.5 391.2h0M186.6 389.9h0M196.1 386.5h0M184.6 392.4h0M182.5 382.8h0M188.8 380.7h0M191.8 390.9h0M192.5 384.8h0M194.3 384.5h0M195.7 388.2h0M189.5 394.0h0M190.0 387.0h0M190.7 385.2h0M189.6 389.2h0M188.9 389.4h0M192.3 383.0h0M190.1 388.9h0M191.4 388.5h0M189.6 385.6h0M190.1 388.0h0M192.1 378.5h0M187.8 386.4h0M186.4 386.8h0M196.9 387.0h0M185.4 383.4h0M192.9 387.0h0M186.1 389.8h0M193.3 387.6h0M189.3 389.2h0M191.3 389.5h0M192.5 387.9h0M190.0 385.7h0M192.9 388.6h0M189.6 388.4h0M198.9 378.9h0M183.5 386.6h0M189.3 387.1h0M178.1 385.5h0M191.0 380.4h0M195.3 388.7h0M179.3 395.2h0M190.0 385.4h0M191.9 385.4h0M195.8 390.9h0M189.5 382.0h0M198.0 386.8h0M196.9 384.4h0M197.5 390.6h0M189.1 384.7h0M195.6 382.1h0M194.1 382.2h0M189.2 388.5h0M190.4 383.4h0M196.2 381.5h0M191.7 382.1h0M187.2 386.1h0M191.5 386.6h0M191.5 386.1h0M195.9 387.2h0M189.2 387.9h0M193.7 387.7h0M192.1 384.3h0M189.5 387.5h0M190.7 382.1h0M186.0 387.5h0M189.8 384.3h0M187.5 385.0h0M189.1 379.2h0M189.4 384.5h0M191.0 387.0h0M180.8 396.7h0M196.2 389.7h0M195.3 387.5h0M195.6 390.2h0M185.2 389.2h0M188.6 391.3h0M194.5 390.9h0M190.9 385.7h0M188.6 384.6h0M182.6 391.0h0M188.1 386.1h0M186.3 389.4h0M187.0 389.7h0M189.1 386.1h0M185.0 391.1h0M193.7 384.1h0M189.4 389.7h0M192.9 383.4h0M203.5 384.1h0M197.2 384.4h0M190.4 382.6h0M189.7 387.3h0M192.4 383.4h0M189.3 392.0h0M192.7 389.2h0M189.9 384.4h0M186.1 379.0h0M195.4 386.0h0M194.8 383.2h0M200.5 385.8h0M180.5 385.0h0M189.1 381.7h0M189.7 386.3h0M192.0 391.8h0M193.9 387.2h0M196.8 395.1h0M194.5 381.4h0M191.4 383.0h0M189.7 386.6h0M181.8 383.9h0M186.7 391.0h0M180.6 394.7h0M180.7 388.9h0M189.7 390.0h0M188.4 378.9h0M186.7 389.4h0M200.7 384.5h0M189.5 384.6h0M202.2 375.9h0M188.0 389.7h0M197.6 370.9h0M201.9 390.6h0M188.6 372.8h0M184.6 387.2h0M190.4 377.0h0M190.6 391.4h0M185.6 385.7h0M183.7 378.1h0M187.4 385.7h0M195.3 378.5h0M178.7 386.8h0M184.8 392.4h0M182.5 377.5h0M195.8 383.6h0M193.4 388.0h0M197.6 376.7h0M196.3 384.5h0M191.2 385.2h0M187.5 388.8h0M192.8 390.3h0M201.1 374.9h0M209.9 387.1h0M181.0 388.6h0M193.7 393.7h0M186.8 400.1h0M181.0 386.9h0M182.8 379.7h0M180.0 385.6h0M187.2 382.8h0M177.0 371.9h0M193.1 399.1h0M207.6 388.5h0M188.8 390.6h0M185.3 384.5h0M194.7 392.2h0M185.2 383.2h0M187.1 376.4h0M200.6 390.0h0M202.8 387.4h0M185.4 386.3h0M183.8 390.9h0M207.0 372.9h0M199.8 393.0h0M187.3 403.1h0" stroke="#cc1236" stroke-width="1.44" stroke-linecap="round" fill="none" opacity="1"/>
<path d="M155.5 409.0h0M156.0 416.0h0M208.5 359.0h0M172.0 375.0h0M203.0 398.0h0" stroke="#23508a" stroke-width="1.44" stroke-linecap="round" fill="none" opacity="1"/>
<text x="153.6" y="353.68" font-size="6.6" fill="#c2193f">0.26</text>
<text x="153.6" y="361.28" font-size="6.6" fill="#2e5c8e">0.76</text>
<text x="153.6" y="368.68" font-size="6.6" fill="#d8d8d8">0.15</text>
<line x1="47.9" y1="470.4" x2="47.9" y2="550" stroke="#222" stroke-width="1.1"/>
<line x1="47.9" y1="550" x2="125.7" y2="550" stroke="#222" stroke-width="1.1"/>
<line x1="45.7" y1="472.4" x2="47.9" y2="472.4" stroke="#222" stroke-width="0.8"/>
<text x="44.3" y="474.78" font-size="6.6" text-anchor="end" fill="#333">1.0</text>
<line x1="45.7" y1="487.9" x2="47.9" y2="487.9" stroke="#222" stroke-width="0.8"/>
<text x="44.3" y="490.28" font-size="6.6" text-anchor="end" fill="#333">0.5</text>
<line x1="45.7" y1="503.7" x2="47.9" y2="503.7" stroke="#222" stroke-width="0.8"/>
<text x="44.3" y="506.08" font-size="6.6" text-anchor="end" fill="#333">0.0</text>
<line x1="45.7" y1="519.4" x2="47.9" y2="519.4" stroke="#222" stroke-width="0.8"/>
<text x="44.3" y="521.78" font-size="6.6" text-anchor="end" fill="#333">&#8722;0.5</text>
<line x1="45.7" y1="534.8" x2="47.9" y2="534.8" stroke="#222" stroke-width="0.8"/>
<text x="44.3" y="537.18" font-size="6.6" text-anchor="end" fill="#333">&#8722;1.0</text>
<line x1="45.7" y1="550" x2="47.9" y2="550" stroke="#222" stroke-width="0.8"/>
<text x="44.3" y="552.38" font-size="6.6" text-anchor="end" fill="#333">&#8722;1.5</text>
<line x1="47.9" y1="550" x2="47.9" y2="552.2" stroke="#222" stroke-width="0.8"/>
<text x="47.9" y="561.08" font-size="6.6" text-anchor="middle" fill="#333">&#8722;1.0</text>
<line x1="67" y1="550" x2="67" y2="552.2" stroke="#222" stroke-width="0.8"/>
<text x="67" y="561.08" font-size="6.6" text-anchor="middle" fill="#333">&#8722;0.5</text>
<line x1="86.3" y1="550" x2="86.3" y2="552.2" stroke="#222" stroke-width="0.8"/>
<text x="86.3" y="561.08" font-size="6.6" text-anchor="middle" fill="#333">0.0</text>
<line x1="105.5" y1="550" x2="105.5" y2="552.2" stroke="#222" stroke-width="0.8"/>
<text x="105.5" y="561.08" font-size="6.6" text-anchor="middle" fill="#333">0.5</text>
<line x1="124.7" y1="550" x2="124.7" y2="552.2" stroke="#222" stroke-width="0.8"/>
<text x="124.7" y="561.08" font-size="6.6" text-anchor="middle" fill="#333">1.0</text>
<line x1="49.4" y1="503.7" x2="125.2" y2="503.7" stroke="#111" stroke-width="0.9" stroke-dasharray="1.1,1.1"/>
<line x1="55.1" y1="519.7" x2="114.4" y2="487.9" stroke="#3f6f9c" stroke-width="0.9"/>
<line x1="55.1" y1="520.9" x2="114.4" y2="488.14" stroke="#3f6f9c" stroke-width="0.5" opacity="0.6"/>
<path d="M74.7 508.7h0M84.5 506.4h0M85.9 501.8h0M71.7 503.3h0M77.9 511.3h0M74.8 511.0h0M85.8 503.2h0M75.0 507.1h0M77.2 502.0h0M89.4 497.2h0M74.3 507.3h0M78.3 508.2h0M89.7 501.1h0M91.8 498.0h0M86.6 504.8h0M82.1 506.9h0M74.0 513.8h0M86.7 502.7h0M78.6 509.6h0M72.7 512.6h0M90.9 507.9h0M81.3 509.7h0M82.7 499.3h0M69.4 510.5h0M91.2 504.3h0M78.8 508.1h0M78.4 498.9h0M90.7 504.5h0M61.4 513.7h0M79.4 506.1h0M90.0 504.1h0M76.8 510.1h0M74.7 508.1h0M82.8 506.2h0M77.9 513.4h0M81.8 505.1h0M85.3 501.0h0M79.2 498.6h0M66.3 512.8h0M76.0 507.2h0M75.9 510.3h0M88.9 499.3h0M88.8 502.2h0M68.9 508.1h0M82.1 508.3h0M70.0 505.0h0M89.3 504.4h0M79.9 509.6h0M94.8 494.8h0M76.6 506.8h0M87.4 499.0h0M79.5 510.5h0M89.6 504.0h0M73.7 511.2h0M77.0 510.8h0M85.2 505.4h0M79.2 507.1h0M83.0 503.7h0M81.5 502.1h0M68.8 507.1h0M80.4 508.6h0M80.9 499.2h0M83.5 504.2h0M79.5 507.2h0M86.7 506.6h0M92.7 505.0h0M84.1 501.9h0M89.1 497.1h0M85.5 499.7h0M77.7 511.4h0M77.2 511.2h0M85.2 502.7h0M87.1 504.0h0M80.8 503.7h0M86.5 501.4h0M80.7 507.2h0M80.1 506.9h0M83.2 505.2h0M83.5 508.6h0M76.3 507.0h0M67.7 505.9h0M86.3 504.1h0M89.5 496.1h0M73.8 507.9h0M96.7 499.5h0M79.1 506.6h0M81.3 501.8h0M81.6 501.8h0M82.1 507.1h0M81.6 503.0h0M85.0 510.6h0M74.9 499.4h0M80.5 502.8h0M83.0 505.3h0M80.1 504.3h0M98.1 501.2h0M96.9 497.9h0M81.7 508.4h0M64.1 507.2h0M93.5 495.4h0M73.5 502.1h0M86.2 493.8h0M100.2 496.8h0M62.5 513.0h0M74.8 514.2h0M89.5 497.5h0M78.8 511.0h0M82.0 516.2h0M78.2 510.6h0M62.7 519.7h0" stroke="#23508a" stroke-width="1.44" stroke-linecap="round" fill="none" opacity="1"/>
<line x1="55.1" y1="510.8" x2="114.4" y2="497.7" stroke="#d2506a" stroke-width="0.8"/>
<line x1="55.1" y1="512" x2="114.4" y2="497.94" stroke="#d2506a" stroke-width="0.5" opacity="0.6"/>
<path d="M72.7 505.4h0M84.6 500.9h0M57.4 501.5h0M76.7 500.5h0M69.3 508.7h0M75.8 506.8h0M82.9 500.6h0M76.7 499.5h0M79.4 502.6h0M88.5 503.2h0M74.8 501.6h0M75.0 503.8h0M82.7 505.3h0M67.1 502.3h0M77.9 499.0h0M74.4 498.0h0M73.8 502.6h0M73.6 501.9h0M80.6 505.3h0M81.4 501.3h0M73.7 501.9h0M71.1 504.1h0M75.0 503.0h0M78.7 505.6h0M71.7 503.8h0M80.5 503.1h0M69.9 501.2h0M80.2 499.0h0M78.6 499.6h0M88.1 497.1h0M90.0 502.6h0M87.4 504.8h0M80.2 501.6h0M93.7 497.9h0M77.1 499.0h0M77.2 505.3h0M72.0 505.1h0M74.6 502.9h0M82.0 505.1h0M70.3 499.4h0M79.3 499.3h0M73.0 501.7h0M85.6 508.5h0M74.4 511.2h0M77.7 502.2h0M86.2 507.5h0M75.0 502.9h0M90.7 502.9h0M56.9 507.9h0M70.7 503.1h0M77.3 501.8h0M75.5 510.6h0M65.4 506.8h0M79.9 497.9h0M67.9 501.9h0M82.0 498.6h0M79.4 498.8h0M68.2 507.1h0M81.6 497.8h0M69.7 506.0h0M68.9 501.5h0M69.2 506.3h0M59.4 513.6h0M88.9 504.5h0M74.6 501.7h0M79.5 499.0h0M91.4 497.7h0M85.7 503.8h0M73.2 503.5h0M70.8 505.2h0M80.8 502.4h0M74.2 504.1h0M86.2 504.0h0M79.7 500.6h0M73.6 505.8h0M73.3 502.0h0M86.4 501.3h0M77.8 501.2h0M79.2 505.5h0M77.4 498.3h0M73.5 506.0h0M79.0 506.2h0M74.3 503.8h0M82.9 501.6h0M81.2 496.4h0M70.3 508.0h0M82.8 504.4h0M83.7 504.7h0M69.7 510.4h0M81.7 498.1h0M67.3 507.0h0M71.9 506.2h0M73.1 499.2h0M70.0 503.7h0M76.8 505.9h0M72.0 506.0h0M74.6 503.4h0M59.4 505.9h0M66.5 508.1h0M84.4 502.8h0M91.3 500.5h0M82.0 500.8h0M78.1 499.5h0M74.9 507.2h0M76.0 502.3h0M75.8 505.2h0M84.9 496.2h0M76.0 503.0h0M74.5 503.7h0M80.9 506.1h0M63.0 502.7h0M75.9 498.6h0M78.8 499.9h0M74.3 499.9h0M71.8 513.6h0M74.9 508.5h0M76.3 505.4h0M70.7 506.3h0M70.1 495.3h0M57.0 507.7h0M80.2 499.7h0M67.9 503.4h0M86.4 494.5h0M81.6 505.8h0M65.5 502.8h0M72.5 501.9h0M82.9 501.9h0M72.4 505.4h0M84.4 500.0h0M70.7 507.7h0M89.7 505.2h0M81.8 501.4h0M82.6 503.7h0M80.8 502.2h0M84.6 504.3h0M68.0 507.9h0M69.5 505.6h0M76.0 505.2h0M72.8 503.2h0M72.6 502.8h0M66.8 507.7h0M72.8 505.6h0M77.0 504.8h0M79.9 498.3h0M76.1 504.3h0M71.3 502.6h0M80.5 506.8h0M81.3 504.7h0M80.6 508.9h0M77.9 506.3h0M101.5 498.6h0M75.6 498.6h0M67.0 513.1h0M76.6 500.5h0M72.5 500.8h0M76.3 501.4h0M82.2 507.2h0M80.5 502.8h0M78.2 507.8h0M66.7 502.8h0M72.0 500.7h0M80.3 501.4h0M70.5 506.9h0M76.7 504.9h0M76.5 501.8h0M69.7 506.9h0M71.1 508.4h0M78.8 502.9h0M72.4 510.2h0M75.5 505.7h0M73.3 508.3h0M80.9 506.0h0M82.9 501.6h0M70.8 505.3h0M72.2 503.5h0M90.1 503.5h0M80.1 505.1h0M84.0 502.7h0M77.1 504.1h0M82.6 509.2h0M69.4 505.8h0M75.7 512.1h0M74.9 508.5h0M82.5 504.1h0M85.7 503.1h0M77.1 510.1h0M68.0 499.9h0M72.8 507.2h0M73.1 505.1h0M85.1 504.2h0M81.7 506.4h0M79.1 507.0h0M80.7 508.1h0M86.0 502.0h0M87.2 504.5h0M84.6 503.3h0M69.7 504.2h0M85.9 506.2h0M66.7 503.6h0M62.7 503.2h0M90.0 498.1h0M90.9 512.2h0M59.1 508.7h0M87.4 506.0h0M98.1 509.2h0M89.5 496.1h0M101.2 515.6h0M68.1 505.8h0M87.6 500.6h0M86.8 505.4h0M98.0 499.0h0M83.5 517.4h0M97.5 498.3h0M66.7 506.5h0M90.1 501.0h0M62.8 498.7h0M73.4 505.4h0M87.5 510.7h0M71.4 499.6h0M56.9 500.7h0M77.9 502.0h0M79.0 505.3h0M74.4 494.5h0M84.3 505.3h0M74.3 527.7h0M72.4 500.7h0M68.6 507.2h0M97.0 504.3h0M85.9 513.6h0" stroke="#cc1236" stroke-width="1.44" stroke-linecap="round" fill="none" opacity="1"/>
<path d="M93.0 480.0h0M93.0 485.0h0M76.0 530.0h0M74.0 541.0h0M68.0 547.0h0M110.0 488.0h0M115.0 490.0h0" stroke="#23508a" stroke-width="1.44" stroke-linecap="round" fill="none" opacity="1"/>
<text x="50" y="479.28" font-size="6.6" fill="#c2193f">0.39</text>
<text x="50" y="487.38" font-size="6.6" fill="#2e5c8e">0.72</text>
<text x="50" y="494.88" font-size="6.6" fill="#dcd8cf">0.17</text>
<line x1="151.3" y1="470.4" x2="151.3" y2="549.5" stroke="#222" stroke-width="1.1"/>
<line x1="151.3" y1="549.5" x2="229.3" y2="549.5" stroke="#222" stroke-width="1.1"/>
<line x1="149.1" y1="472.4" x2="151.3" y2="472.4" stroke="#222" stroke-width="0.8"/>
<text x="147.7" y="474.78" font-size="6.6" text-anchor="end" fill="#333">4</text>
<line x1="149.1" y1="491.6" x2="151.3" y2="491.6" stroke="#222" stroke-width="0.8"/>
<text x="147.7" y="493.98" font-size="6.6" text-anchor="end" fill="#333">2</text>
<line x1="149.1" y1="510.8" x2="151.3" y2="510.8" stroke="#222" stroke-width="0.8"/>
<text x="147.7" y="513.18" font-size="6.6" text-anchor="end" fill="#333">0</text>
<line x1="149.1" y1="530" x2="151.3" y2="530" stroke="#222" stroke-width="0.8"/>
<text x="147.7" y="532.38" font-size="6.6" text-anchor="end" fill="#333">&#8722;2</text>
<line x1="149.1" y1="549.5" x2="151.3" y2="549.5" stroke="#222" stroke-width="0.8"/>
<text x="147.7" y="551.88" font-size="6.6" text-anchor="end" fill="#333">&#8722;4</text>
<line x1="151.3" y1="549.5" x2="151.3" y2="551.7" stroke="#222" stroke-width="0.8"/>
<text x="151.3" y="561.08" font-size="6.6" text-anchor="middle" fill="#333">&#8722;2</text>
<line x1="177.1" y1="549.5" x2="177.1" y2="551.7" stroke="#222" stroke-width="0.8"/>
<text x="177.1" y="561.08" font-size="6.6" text-anchor="middle" fill="#333">0</text>
<line x1="202.7" y1="549.5" x2="202.7" y2="551.7" stroke="#222" stroke-width="0.8"/>
<text x="202.7" y="561.08" font-size="6.6" text-anchor="middle" fill="#333">2</text>
<line x1="228.1" y1="549.5" x2="228.1" y2="551.7" stroke="#222" stroke-width="0.8"/>
<text x="228.1" y="561.08" font-size="6.6" text-anchor="middle" fill="#333">4</text>
<line x1="152.8" y1="510.8" x2="228.8" y2="510.8" stroke="#111" stroke-width="0.9" stroke-dasharray="1.1,1.1"/>
<line x1="157" y1="536.9" x2="224.8" y2="498.5" stroke="#3f6f9c" stroke-width="0.9"/>
<line x1="157" y1="538.1" x2="224.8" y2="498.74" stroke="#3f6f9c" stroke-width="0.5" opacity="0.6"/>
<path d="M196.1 515.1h0M206.6 506.8h0M205.3 508.1h0M200.5 509.0h0M198.7 512.8h0M209.8 506.7h0M208.1 499.8h0M198.5 510.5h0M206.1 508.0h0M204.7 511.8h0M203.1 510.6h0M210.3 506.0h0M205.7 512.0h0M212.2 506.0h0M208.0 507.1h0M198.3 508.5h0M196.3 511.0h0M203.9 505.6h0M201.3 509.0h0M205.8 507.7h0M216.5 502.5h0M216.7 500.2h0M195.3 518.8h0M218.7 497.3h0M215.5 500.4h0M206.7 507.2h0M201.4 510.2h0M194.5 517.1h0M207.9 508.5h0M206.3 509.0h0M222.6 498.3h0M205.5 509.1h0M207.9 510.1h0M204.1 512.4h0M205.4 501.2h0M208.5 504.6h0M199.9 512.6h0M211.4 510.7h0M205.4 506.1h0M205.9 509.4h0M199.5 512.3h0M193.5 514.0h0M204.1 511.4h0M198.8 511.1h0M204.1 506.7h0M201.1 509.2h0M217.1 498.4h0M215.6 501.1h0M216.7 497.3h0M204.0 502.9h0M215.6 502.5h0M206.3 513.4h0M227.5 496.0h0M216.9 499.9h0M198.6 509.5h0M210.7 499.3h0M207.0 512.0h0M206.9 503.9h0M202.0 514.6h0M198.3 512.6h0M196.5 515.0h0M203.2 512.9h0M198.8 512.3h0M191.7 522.4h0M213.9 501.3h0M207.7 508.0h0M211.1 499.6h0M202.9 516.6h0M214.7 503.0h0M207.4 509.3h0M213.3 504.9h0M198.9 513.4h0M209.2 506.5h0M198.8 512.9h0M199.0 512.2h0M208.4 507.8h0M211.5 506.7h0M205.5 504.9h0M206.0 506.8h0M193.8 515.5h0M210.3 507.6h0M203.5 506.1h0M204.8 506.9h0M213.0 499.3h0M211.6 503.2h0M207.8 504.7h0M209.6 505.3h0M203.4 507.0h0M199.8 507.5h0M209.2 504.8h0M214.2 497.6h0M217.5 500.6h0M203.6 511.2h0M195.7 512.0h0M211.8 498.2h0M208.0 510.3h0M208.7 509.7h0M203.7 507.9h0M215.3 503.5h0M207.5 510.8h0M199.8 515.6h0M203.8 510.4h0M207.2 507.7h0M211.7 507.7h0M216.0 500.8h0M205.4 505.8h0M218.9 501.0h0M202.3 511.4h0M215.7 498.9h0M208.2 506.4h0M204.5 509.5h0M194.1 519.9h0M203.4 510.4h0M199.8 519.2h0M207.7 501.4h0M201.7 510.4h0M197.8 510.5h0M196.1 513.2h0M207.6 507.5h0M214.6 501.1h0M190.6 519.3h0M212.0 500.3h0M207.7 507.6h0M198.8 512.9h0M201.0 515.7h0M210.6 504.7h0M211.7 505.6h0M198.5 510.1h0M194.6 513.1h0M213.1 505.7h0M214.7 497.8h0M207.6 510.2h0M217.8 498.2h0M203.0 509.2h0M210.1 507.1h0M212.2 502.1h0M214.7 498.7h0M212.2 507.1h0M214.4 503.0h0M203.5 509.8h0M200.3 510.4h0M200.9 515.0h0M197.3 512.7h0M215.9 501.7h0M220.1 501.8h0M210.7 507.6h0M199.1 514.0h0M219.0 499.7h0M212.1 511.1h0M210.2 501.0h0M211.1 497.4h0M210.5 505.9h0M202.4 508.7h0M207.3 514.8h0M198.1 512.0h0M204.8 508.0h0M218.8 499.5h0M206.6 509.8h0M208.6 505.8h0M204.5 509.0h0M205.2 507.7h0M208.0 510.3h0M198.7 514.8h0M211.7 503.7h0M208.0 509.9h0M204.7 510.9h0M210.7 505.2h0M209.3 508.0h0M215.3 498.3h0M212.9 501.2h0M201.0 512.5h0M205.7 503.7h0M217.2 498.5h0M211.9 504.9h0M211.0 504.7h0M209.0 506.2h0M205.9 511.4h0M208.3 507.5h0M202.1 509.5h0M206.1 504.3h0M216.0 499.7h0M203.9 508.4h0M208.3 507.9h0M210.6 502.9h0M199.0 513.1h0M204.9 507.1h0M213.6 499.7h0M201.9 513.8h0M203.7 509.4h0M199.2 509.9h0M199.3 508.5h0M211.7 504.6h0M219.1 498.0h0M204.1 512.3h0M204.3 512.2h0M200.8 507.2h0M203.7 509.0h0M209.4 504.4h0M208.4 507.0h0M199.1 510.3h0M199.3 508.8h0M207.7 508.6h0M203.3 508.4h0M199.3 514.9h0M210.5 498.8h0M221.9 500.3h0M202.7 510.5h0M207.8 507.8h0M204.3 510.4h0M213.7 508.9h0M204.9 507.1h0M212.9 502.8h0M207.4 507.3h0M203.3 508.9h0M202.1 509.0h0M205.7 513.2h0M204.8 506.9h0M201.2 514.9h0M202.4 511.2h0M192.1 513.0h0M189.0 517.8h0M191.8 521.9h0M186.9 522.0h0M187.9 520.9h0M188.3 521.2h0M189.4 521.6h0M192.2 520.6h0M189.3 519.6h0M192.5 521.2h0M190.1 520.1h0M194.3 512.7h0M192.3 520.0h0M196.8 520.6h0M191.6 518.9h0M190.6 517.9h0M189.5 519.6h0M189.7 517.1h0M189.3 522.0h0M189.0 520.9h0M187.5 522.3h0M194.1 516.8h0M184.9 522.2h0M189.5 523.0h0M190.1 522.8h0M193.5 516.6h0M190.5 520.0h0M193.9 520.2h0M190.1 518.4h0M188.9 521.6h0M189.1 520.2h0M216.5 501.3h0M215.0 498.8h0M212.2 499.6h0M213.6 503.8h0M214.1 501.1h0M217.6 497.5h0M213.1 498.1h0M217.7 498.6h0M218.6 500.8h0M215.7 502.2h0M209.8 503.1h0M210.4 507.1h0M218.9 502.5h0M221.4 501.1h0M212.4 498.5h0M216.7 506.0h0M218.4 502.1h0M218.3 500.5h0M212.5 499.5h0M216.6 497.2h0M221.1 498.5h0M217.3 499.6h0M208.5 503.0h0M216.4 496.4h0M213.4 506.6h0M208.4 505.5h0M219.0 504.1h0M219.1 499.5h0M209.2 504.3h0M210.1 505.3h0M212.1 506.0h0M216.4 498.5h0M216.7 500.5h0M215.5 500.8h0M217.6 499.5h0M214.5 502.6h0M214.6 505.0h0M214.9 495.1h0M214.0 501.4h0M215.6 502.1h0M221.4 501.0h0M210.2 507.1h0M210.6 507.2h0M215.4 498.4h0M212.9 501.1h0M218.2 497.2h0M214.4 502.7h0M219.5 496.2h0M215.0 498.9h0M216.7 496.4h0M216.9 500.9h0M215.5 504.1h0M221.1 496.8h0M216.4 500.6h0M220.0 500.0h0M215.3 500.7h0M212.3 502.1h0M217.5 504.3h0M214.9 494.8h0M215.1 504.6h0M216.2 495.0h0M216.9 504.4h0M212.2 501.8h0M213.9 498.7h0M218.7 499.0h0M214.8 499.2h0M217.9 498.0h0M212.3 502.4h0M210.0 502.8h0M221.3 494.3h0M194.1 515.3h0M207.6 510.2h0M200.7 500.1h0M191.9 501.5h0M211.4 508.0h0M206.9 497.3h0M182.7 522.2h0M189.4 509.8h0M190.0 507.0h0M185.3 522.6h0M208.2 512.1h0M206.2 508.7h0M206.4 505.9h0M203.5 508.5h0M180.8 525.2h0M224.7 507.7h0M201.6 513.1h0M210.1 517.6h0M217.6 496.4h0M193.7 512.2h0" stroke="#23508a" stroke-width="1.44" stroke-linecap="round" fill="none" opacity="1"/>
<line x1="157" y1="521.4" x2="224.8" y2="506.7" stroke="#d2506a" stroke-width="0.8"/>
<line x1="157" y1="522.6" x2="224.8" y2="506.94" stroke="#d2506a" stroke-width="0.5" opacity="0.6"/>
<path d="M199.2 517.5h0M190.1 510.7h0M193.1 511.5h0M204.2 507.8h0M207.0 516.3h0M203.2 515.6h0M200.5 513.4h0M200.7 515.8h0M203.8 513.7h0M207.2 514.2h0M196.4 514.0h0M197.2 511.6h0M201.9 513.9h0M201.2 511.3h0M209.1 511.9h0M190.0 515.8h0M199.5 514.6h0M206.9 516.4h0M200.2 515.2h0M200.2 510.1h0M193.1 514.7h0M209.5 509.6h0M207.5 511.0h0M206.0 510.6h0M203.9 508.2h0M206.9 517.1h0M207.2 509.1h0M191.3 514.9h0M195.2 513.0h0M205.6 503.7h0M200.0 511.8h0M205.9 512.5h0M211.3 511.4h0M204.2 504.9h0M201.4 511.0h0M202.0 515.4h0M193.1 505.4h0M211.7 509.3h0M200.4 517.0h0M206.3 511.7h0M203.9 514.0h0M196.7 513.5h0M213.6 511.5h0M204.9 518.1h0M204.3 517.0h0M203.6 511.1h0M204.3 512.6h0M195.6 520.3h0M206.3 518.5h0M197.6 511.8h0M194.8 513.1h0M206.9 518.0h0M199.2 511.6h0M207.8 512.6h0M198.0 511.5h0M199.0 516.8h0M198.5 511.7h0M208.1 508.9h0M206.7 506.4h0M199.2 517.3h0M204.6 508.5h0M194.2 508.3h0M203.6 510.9h0M203.4 511.5h0M218.2 512.8h0M193.4 514.7h0M195.0 514.3h0M200.3 513.2h0M198.4 505.8h0M203.9 505.5h0M196.0 510.8h0M201.8 508.0h0M200.8 512.5h0M212.1 507.6h0M203.6 513.9h0M200.9 512.9h0M206.8 508.8h0M185.4 514.6h0M203.8 513.4h0M205.4 515.3h0M201.8 510.1h0M194.5 509.2h0M206.7 509.0h0M198.2 517.8h0M194.9 516.4h0M195.6 511.6h0M199.0 513.9h0M200.2 515.5h0M199.4 518.8h0M198.2 506.6h0M195.4 510.1h0M202.2 507.2h0M207.5 507.7h0M199.4 516.1h0M190.9 521.4h0M195.2 506.8h0M210.0 509.5h0M191.8 516.2h0M211.9 515.3h0M204.3 508.0h0M199.0 515.4h0M203.9 510.5h0M209.0 506.1h0M210.2 506.4h0M198.6 512.3h0M207.0 515.0h0M191.9 510.9h0M197.4 512.4h0M196.1 509.4h0M210.8 512.5h0M202.4 515.0h0M199.2 507.2h0M191.2 516.4h0M201.1 511.8h0M195.9 513.7h0M204.0 516.3h0M208.6 508.4h0M213.0 512.9h0M210.5 509.6h0M206.6 505.6h0M208.1 508.2h0M203.7 509.3h0M201.8 512.3h0M194.3 514.2h0M207.5 511.2h0M210.1 518.3h0M203.5 516.5h0M202.1 508.1h0M205.6 507.1h0M203.7 519.6h0M196.9 509.2h0M200.0 514.0h0M206.4 509.1h0M198.5 514.9h0M202.1 515.6h0M198.0 517.8h0M203.4 511.6h0M192.1 513.0h0M202.0 516.0h0M202.1 508.5h0M194.3 516.8h0M196.2 519.3h0M202.9 510.0h0M197.9 517.7h0M201.0 512.8h0M190.1 515.1h0M194.1 505.8h0M200.2 511.9h0M196.4 523.0h0M194.2 510.5h0M203.5 512.8h0M203.1 510.8h0M210.1 507.4h0M190.0 510.9h0M200.8 512.5h0M213.2 509.3h0M198.5 510.8h0M197.3 515.5h0M195.6 518.1h0M195.6 511.0h0M200.7 506.5h0M202.4 511.8h0M210.0 512.8h0M187.6 516.3h0M195.0 510.0h0M198.1 519.8h0M199.0 512.6h0M208.2 517.0h0M199.4 513.0h0M203.2 512.0h0M199.5 508.5h0M197.9 510.0h0M195.3 511.4h0M200.7 509.8h0M199.8 515.5h0M205.2 507.8h0M192.7 522.7h0M201.6 518.1h0M202.5 518.0h0M204.0 511.2h0M198.1 512.2h0M196.4 514.1h0M201.6 513.8h0M203.9 507.7h0M203.4 511.7h0M208.9 516.1h0M197.7 505.5h0M201.2 511.9h0M196.0 514.6h0M200.6 514.5h0M194.3 514.4h0M200.1 511.5h0M206.7 508.8h0M199.6 515.0h0M193.0 516.1h0M195.6 505.2h0M210.8 515.6h0M201.2 508.5h0M191.2 515.2h0M209.1 505.0h0M202.1 517.2h0M205.7 510.3h0M212.3 505.1h0M205.0 514.7h0M192.9 511.9h0M200.7 521.6h0M200.7 511.6h0M199.8 521.2h0M212.4 506.5h0M197.3 514.9h0M202.8 512.9h0M195.8 506.8h0M201.6 508.6h0M216.8 509.4h0M203.3 513.1h0M198.0 513.5h0M195.0 513.4h0M204.3 511.5h0M185.6 517.4h0M197.6 516.2h0M202.0 511.8h0M203.9 509.2h0M201.6 510.8h0M205.4 514.3h0M196.4 511.6h0M198.1 519.0h0M197.0 512.7h0M199.6 509.2h0M204.6 510.4h0M207.0 507.7h0M205.1 519.0h0M206.8 510.9h0M206.1 506.9h0M204.7 512.7h0M205.0 513.2h0M205.4 509.1h0M197.9 509.3h0M203.2 505.5h0M200.4 509.4h0M204.3 519.1h0M199.2 516.3h0M208.8 506.6h0M200.8 513.0h0M196.4 511.6h0M200.4 512.8h0M199.3 516.4h0M204.7 511.1h0M202.1 506.0h0M192.0 509.4h0M203.7 516.6h0M198.0 508.9h0M196.3 513.8h0M193.4 510.7h0M206.2 515.2h0M202.1 511.8h0M200.1 514.2h0M185.0 516.2h0M202.4 510.6h0M199.7 513.7h0M199.1 514.6h0M197.2 514.2h0M205.9 507.6h0M207.4 512.1h0M203.9 515.9h0M203.4 508.6h0M205.9 514.9h0M199.3 511.6h0M199.7 510.8h0M197.4 515.4h0M206.8 506.5h0M200.5 511.2h0M206.4 514.6h0M204.7 515.3h0M207.3 513.0h0M205.3 514.9h0M197.9 509.1h0M207.1 514.0h0M210.9 509.8h0M195.4 514.7h0M209.4 508.4h0M200.5 510.4h0M193.9 517.8h0M200.3 517.8h0M198.1 506.9h0M195.7 510.0h0M197.4 512.1h0M200.6 517.7h0M188.1 511.4h0M202.6 514.3h0M202.1 511.8h0M204.4 510.7h0M200.1 513.5h0M193.3 513.8h0M197.2 513.8h0M201.2 516.2h0M204.8 512.3h0M197.4 514.7h0M190.0 517.4h0M206.4 511.6h0M204.3 506.7h0M198.1 509.7h0M205.1 513.2h0M209.6 506.8h0M196.8 514.4h0M197.6 510.6h0M205.0 511.3h0M199.0 516.2h0M199.9 507.6h0M200.3 512.2h0M198.3 516.1h0M203.5 513.9h0M206.3 510.1h0M200.4 512.6h0M200.5 517.1h0M195.9 508.9h0M204.7 510.8h0M194.3 516.1h0M205.5 508.5h0M195.8 516.1h0M206.4 513.8h0M200.7 515.2h0M211.7 512.5h0M206.6 515.0h0M204.9 511.7h0M204.8 514.9h0M204.4 514.0h0M199.9 512.4h0M194.5 516.8h0M203.4 508.5h0M204.1 509.1h0M206.3 517.7h0M202.4 509.7h0M199.7 513.5h0M200.1 514.7h0M192.4 518.8h0M201.1 512.2h0M209.7 513.7h0M191.0 509.8h0M206.4 509.8h0M197.2 515.6h0M201.2 513.5h0M196.7 511.6h0M200.7 513.1h0M206.2 505.7h0M196.6 510.6h0M201.6 509.5h0M202.6 515.4h0M203.0 515.7h0M200.1 506.3h0M201.4 513.0h0M197.8 512.3h0M208.8 512.0h0M194.6 509.3h0M205.5 513.1h0M194.7 512.8h0M202.5 515.0h0M207.6 518.5h0M196.5 507.1h0M201.6 515.3h0M194.5 510.0h0M202.8 511.8h0M208.4 508.9h0M216.8 511.7h0M205.7 506.8h0M205.4 517.3h0M201.3 518.0h0M206.9 515.0h0M204.7 514.8h0M191.6 513.7h0M199.1 512.9h0M198.4 508.6h0M204.0 512.5h0M202.1 515.0h0M200.1 515.4h0M205.2 508.3h0M205.9 510.1h0M203.2 510.3h0M209.2 512.0h0M186.0 512.1h0M194.2 512.6h0M205.4 511.4h0M190.3 507.3h0M201.3 511.1h0M206.5 512.8h0M203.8 516.2h0M203.9 513.9h0M199.2 513.8h0M210.3 506.4h0M194.1 512.0h0M207.8 510.8h0M197.7 514.8h0M201.1 512.0h0M192.7 507.6h0M203.6 509.7h0M206.9 517.6h0M205.4 507.1h0M202.6 509.8h0M203.9 514.5h0M200.1 514.2h0M202.7 513.4h0M206.3 510.8h0M208.8 514.8h0M196.5 512.6h0M200.1 505.9h0M197.3 517.2h0M204.9 511.5h0M203.4 514.9h0M196.0 518.2h0M198.1 511.5h0M195.9 514.3h0M196.7 512.8h0M197.2 516.8h0M208.3 508.0h0M193.0 509.5h0M204.9 506.8h0M196.3 512.7h0M209.7 510.4h0M200.3 514.5h0M191.1 510.5h0M207.6 514.3h0M204.8 512.6h0M199.6 511.6h0M210.7 506.7h0M208.6 510.3h0M193.1 515.6h0M197.2 514.2h0M205.1 519.0h0M196.8 506.4h0M204.3 513.6h0M199.6 509.9h0M204.8 513.6h0M199.7 515.2h0M201.8 511.7h0M194.3 511.3h0M206.1 515.2h0M207.9 510.4h0M200.1 509.5h0M196.8 511.8h0M207.7 514.7h0M203.9 513.4h0M196.1 512.5h0M205.5 511.4h0M203.9 507.1h0M209.8 509.2h0M198.0 513.1h0M180.4 515.4h0M212.3 507.8h0M205.7 505.5h0M192.5 508.6h0M207.9 504.3h0M202.5 509.0h0M204.4 507.8h0M197.9 514.0h0M190.3 507.5h0M212.9 509.8h0M204.3 511.4h0M203.5 511.6h0M203.0 507.5h0M186.3 513.0h0M209.8 508.0h0M192.2 519.1h0M207.0 508.9h0M206.2 512.8h0M195.3 517.4h0M205.5 512.7h0M206.5 504.5h0M202.0 517.2h0M207.8 505.8h0M204.8 509.2h0M203.3 509.1h0M210.8 517.2h0M208.5 514.3h0M202.9 511.3h0M211.0 513.1h0M203.3 509.8h0M196.3 516.3h0M206.9 511.2h0M201.6 507.4h0M197.3 509.9h0M205.0 510.9h0M200.1 508.0h0M199.9 502.4h0M218.1 509.5h0M206.2 514.1h0M194.1 521.9h0M202.5 511.2h0M210.1 505.3h0M209.3 521.7h0M196.8 515.9h0M188.3 516.2h0M202.2 502.3h0M219.2 521.7h0M183.0 518.2h0M196.7 511.6h0M205.1 512.0h0M199.3 514.4h0M197.4 514.4h0M195.3 518.8h0M220.7 509.1h0M199.4 520.9h0M181.4 514.7h0M189.1 511.0h0M190.1 512.5h0M211.9 505.2h0M199.8 519.3h0M206.5 515.7h0M198.9 509.4h0M195.8 510.7h0M185.2 500.6h0M195.6 514.4h0M196.0 519.6h0M211.9 510.6h0M197.6 515.4h0M195.1 511.7h0M191.4 509.7h0M205.6 508.7h0M205.2 511.3h0M201.5 514.0h0M178.4 513.5h0M204.8 520.2h0" stroke="#cc1236" stroke-width="1.44" stroke-linecap="round" fill="none" opacity="1"/>
<path d="M157.0 534.0h0M156.5 541.0h0M158.0 538.0h0M176.0 525.0h0M178.0 522.0h0" stroke="#23508a" stroke-width="1.44" stroke-linecap="round" fill="none" opacity="1"/>
<text x="153" y="479.28" font-size="6.6" fill="#c2193f">0.41</text>
<text x="153" y="487.38" font-size="6.6" fill="#2e5c8e">0.79</text>
<text x="153" y="494.88" font-size="6.6" fill="#dcd8cf">0.36</text>
<line x1="197" y1="527.6" x2="204.6" y2="527.6" stroke="#cc2a4a" stroke-width="1"/>
<circle cx="200.8" cy="527.6" r="0.9" fill="#cc2a4a"/>
<text x="206.2" y="530.12" font-size="7" fill="#cc2a4a">shASF1A</text>
<line x1="197" y1="536" x2="204.6" y2="536" stroke="#2f6a8f" stroke-width="1"/>
<circle cx="200.8" cy="536" r="0.9" fill="#2f6a8f"/>
<text x="206.2" y="538.52" font-size="7" fill="#2f6a8f">shASF1B</text>
<line x1="197" y1="544.6" x2="204.6" y2="544.6" stroke="#d8d8d8" stroke-width="1"/>
<circle cx="200.8" cy="544.6" r="0.9" fill="#d8d8d8"/>
<text x="206.2" y="547.12" font-size="7" fill="#d8d8d8">shNT</text>
<text transform="translate(25.2,439) rotate(-90)" font-size="8.2" text-anchor="middle" fill="#333" textLength="186" lengthAdjust="spacingAndGlyphs">Differentially expressed proteins shASF1A, shASF1B, shNT</text>
<text x="140.2" y="573.6" font-size="8.2" text-anchor="middle" fill="#333" textLength="135" lengthAdjust="spacingAndGlyphs">Differentially expressed proteins (shASF1A/B)</text><rect x="0.5" y="0.5" width="519" height="698" fill="none" stroke="#5a5a5a" stroke-width="1.05"/></svg></body></html>
